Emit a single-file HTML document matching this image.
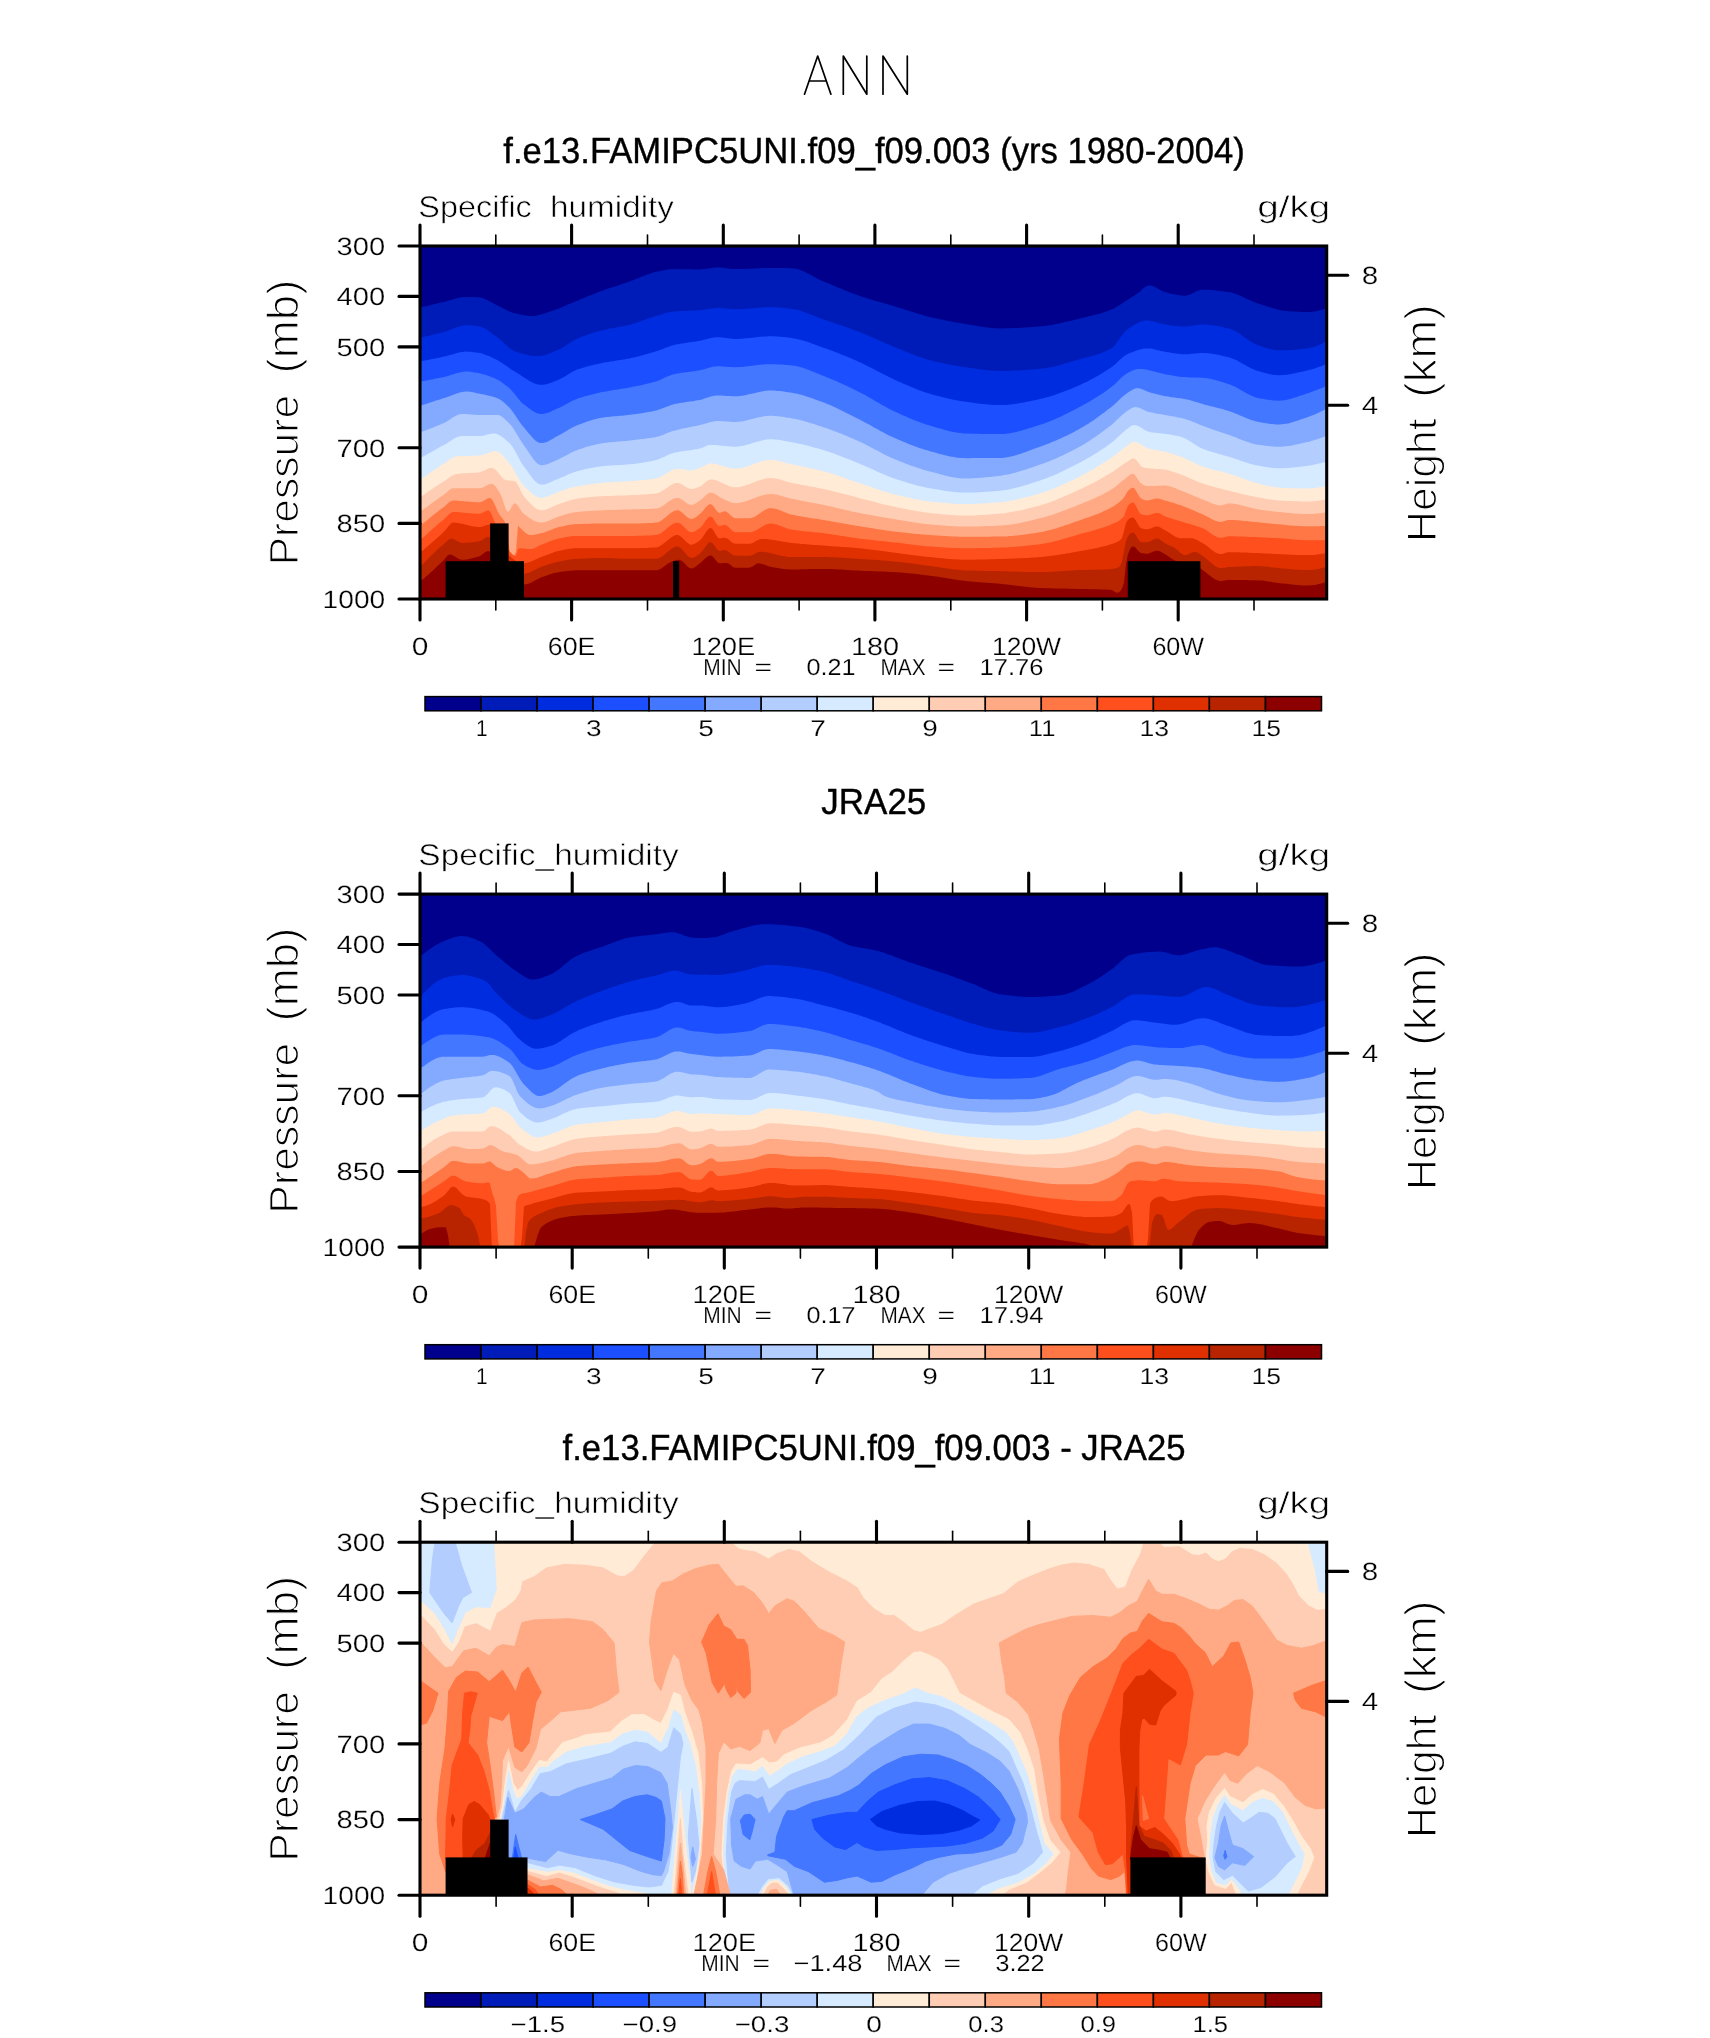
<!DOCTYPE html>
<html><head><meta charset="utf-8"><title>ANN</title>
<style>html,body{margin:0;padding:0;background:#fff}svg{display:block}text{font-family:"Liberation Sans",sans-serif;fill:#000;text-rendering:geometricPrecision}svg{will-change:transform}</style>
</head><body>
<svg width="1710" height="2038" viewBox="0 0 1710 2038">
<rect width="1710" height="2038" fill="#fff"/>
<defs>
<clipPath id="c1"><rect x="420.0" y="246.0" width="906.7" height="353.0"/></clipPath>
<clipPath id="c2"><rect x="420.0" y="894.1" width="906.7" height="353.0"/></clipPath>
<clipPath id="c3"><rect x="420.0" y="1542.2" width="906.7" height="353.0"/></clipPath>
</defs>
<path d="M804.5,94.2L817.7,56L830.9,94.2M809.2,81L826.2,81M843.3,94.2V56L866.8,94.2V56M883,94.2V56L907.3,94.2V56" stroke="#000" stroke-width="1.7" fill="none" stroke-linejoin="round" stroke-linecap="round"/>
<text x="503.3" y="162.6" font-size="36.4" text-anchor="start" textLength="741.5" lengthAdjust="spacingAndGlyphs" stroke="#000" stroke-width="0.4">f.e13.FAMIPC5UNI.f09_f09.003 (yrs 1980-2004)</text>
<text x="821.3" y="814.4" font-size="36.4" text-anchor="start" textLength="105" lengthAdjust="spacingAndGlyphs" stroke="#000" stroke-width="0.4">JRA25</text>
<text x="562.5" y="1459.7" font-size="36.4" text-anchor="start" textLength="623" lengthAdjust="spacingAndGlyphs" stroke="#000" stroke-width="0.4">f.e13.FAMIPC5UNI.f09_f09.003 - JRA25</text>
<text x="418.3" y="216.5" font-size="30" text-anchor="start" textLength="113.5" lengthAdjust="spacingAndGlyphs" stroke="#fff" stroke-width="0.6">Specific</text>
<text x="550" y="216.5" font-size="30" text-anchor="start" textLength="124" lengthAdjust="spacingAndGlyphs" stroke="#fff" stroke-width="0.6">humidity</text>
<text x="1257.2" y="216.5" font-size="30" text-anchor="start" textLength="73.1" lengthAdjust="spacingAndGlyphs" stroke="#fff" stroke-width="0.6">g/kg</text>
<g transform="translate(298.3,565.3) rotate(-90)"><text x="0" y="0" font-size="41" text-anchor="start" textLength="170.5" lengthAdjust="spacingAndGlyphs" stroke="#fff" stroke-width="1.2">Pressure</text></g>
<g transform="translate(298.3,373.5) rotate(-90)"><text x="0" y="0" font-size="44" text-anchor="start" textLength="94" lengthAdjust="spacingAndGlyphs" stroke="#fff" stroke-width="1.3">(mb)</text></g>
<g transform="translate(1436,541.9) rotate(-90)"><text x="0" y="0" font-size="41.5" text-anchor="start" textLength="123.5" lengthAdjust="spacingAndGlyphs" stroke="#fff" stroke-width="1.2">Height</text></g>
<g transform="translate(1436,397.7) rotate(-90)"><text x="0" y="0" font-size="44.5" text-anchor="start" textLength="93.5" lengthAdjust="spacingAndGlyphs" stroke="#fff" stroke-width="1.3">(km)</text></g>
<text x="418.3" y="864.6" font-size="30" text-anchor="start" textLength="260.5" lengthAdjust="spacingAndGlyphs" stroke="#fff" stroke-width="0.6">Specific_humidity</text>
<text x="1257.2" y="864.6" font-size="30" text-anchor="start" textLength="73.1" lengthAdjust="spacingAndGlyphs" stroke="#fff" stroke-width="0.6">g/kg</text>
<g transform="translate(298.3,1213.4) rotate(-90)"><text x="0" y="0" font-size="41" text-anchor="start" textLength="170.5" lengthAdjust="spacingAndGlyphs" stroke="#fff" stroke-width="1.2">Pressure</text></g>
<g transform="translate(298.3,1021.6) rotate(-90)"><text x="0" y="0" font-size="44" text-anchor="start" textLength="94" lengthAdjust="spacingAndGlyphs" stroke="#fff" stroke-width="1.3">(mb)</text></g>
<g transform="translate(1436,1190) rotate(-90)"><text x="0" y="0" font-size="41.5" text-anchor="start" textLength="123.5" lengthAdjust="spacingAndGlyphs" stroke="#fff" stroke-width="1.2">Height</text></g>
<g transform="translate(1436,1045.8) rotate(-90)"><text x="0" y="0" font-size="44.5" text-anchor="start" textLength="93.5" lengthAdjust="spacingAndGlyphs" stroke="#fff" stroke-width="1.3">(km)</text></g>
<text x="418.3" y="1512.7" font-size="30" text-anchor="start" textLength="260.5" lengthAdjust="spacingAndGlyphs" stroke="#fff" stroke-width="0.6">Specific_humidity</text>
<text x="1257.2" y="1512.7" font-size="30" text-anchor="start" textLength="73.1" lengthAdjust="spacingAndGlyphs" stroke="#fff" stroke-width="0.6">g/kg</text>
<g transform="translate(298.3,1861.5) rotate(-90)"><text x="0" y="0" font-size="41" text-anchor="start" textLength="170.5" lengthAdjust="spacingAndGlyphs" stroke="#fff" stroke-width="1.2">Pressure</text></g>
<g transform="translate(298.3,1669.7) rotate(-90)"><text x="0" y="0" font-size="44" text-anchor="start" textLength="94" lengthAdjust="spacingAndGlyphs" stroke="#fff" stroke-width="1.3">(mb)</text></g>
<g transform="translate(1436,1838.1) rotate(-90)"><text x="0" y="0" font-size="41.5" text-anchor="start" textLength="123.5" lengthAdjust="spacingAndGlyphs" stroke="#fff" stroke-width="1.2">Height</text></g>
<g transform="translate(1436,1693.9) rotate(-90)"><text x="0" y="0" font-size="44.5" text-anchor="start" textLength="93.5" lengthAdjust="spacingAndGlyphs" stroke="#fff" stroke-width="1.3">(km)</text></g>
<g clip-path="url(#c1)">
<rect x="420.0" y="246.0" width="906.7" height="353.0" fill="#00008c"/>
<path d="M418,604L418,307.1L420,307.1L422,307.1L424,306.6L426,306.2L428,305.7L430,305.2L432,304.7L434,304.2L436,303.7L438,303.3L440,302.8L442,302.3L444,301.9L446,301.4L448,300.8L450,300.2L452,299.6L454,299.1L456,298.5L458,298L460,297.5L462,297.2L464,297L466,296.9L468,296.9L470,296.9L472,297L474,297.1L476,297.2L478,297.3L480,297.5L482,297.8L484,298.5L486,299.4L488,300.4L490,301.5L492,302.6L494,303.8L496,304.8L498,305.7L500,306.7L502,307.8L504,308.8L506,309.8L508,310.8L510,311.7L512,312.5L514,313.1L516,313.6L518,314L520,314.4L522,314.8L524,315.2L526,315.5L528,315.7L530,315.9L532,316L534,315.9L536,315.7L538,315.3L540,314.8L542,314.2L544,313.6L546,312.9L548,312.2L550,311.6L552,311L554,310.3L556,309.5L558,308.8L560,308L562,307.2L564,306.3L566,305.4L568,304.6L570,303.7L572,302.9L574,302L576,301.2L578,300.4L580,299.6L582,298.8L584,297.9L586,297.1L588,296.3L590,295.5L592,294.7L594,293.9L596,293.1L598,292.3L600,291.5L602,290.8L604,290L606,289.3L608,288.6L610,288L612,287.3L614,286.7L616,286L618,285.4L620,284.7L622,284.1L624,283.4L626,282.8L628,282.1L630,281.4L632,280.6L634,279.9L636,279.1L638,278.2L640,277.4L642,276.5L644,275.7L646,274.9L648,274.2L650,273.5L652,272.9L654,272.3L656,271.8L658,271.4L660,271L662,270.6L664,270.2L666,269.8L668,269.6L670,269.3L672,269.2L674,269.1L676,269.2L678,269.2L680,269.2L682,269.2L684,269.2L686,269.3L688,269.3L690,269.3L692,269.4L694,269.4L696,269.4L698,269.4L700,269.4L702,269.3L704,269.1L706,268.9L708,268.5L710,268.2L712,267.9L714,267.6L716,267.4L718,267.4L720,267.5L722,267.6L724,267.9L726,268.2L728,268.5L730,268.8L732,269L734,269.1L736,269.1L738,269.1L740,269.1L742,269L744,269L746,268.9L748,268.8L750,268.7L752,268.6L754,268.5L756,268.4L758,268.3L760,268.2L762,268.1L764,268L766,268L768,267.9L770,267.9L772,267.9L774,267.9L776,267.9L778,268L780,268L782,268L784,268.1L786,268.1L788,268.2L790,268.2L792,268.3L794,268.4L796,268.8L798,269.3L800,269.9L802,270.7L804,271.6L806,272.5L808,273.5L810,274.6L812,275.7L814,276.7L816,277.8L818,278.9L820,279.9L822,280.8L824,281.7L826,282.5L828,283.3L830,284.1L832,285L834,285.8L836,286.7L838,287.5L840,288.3L842,289.1L844,290L846,290.8L848,291.6L850,292.4L852,293.1L854,293.9L856,294.6L858,295.3L860,296L862,296.7L864,297.3L866,297.9L868,298.6L870,299.2L872,299.8L874,300.4L876,300.9L878,301.5L880,302.1L882,302.7L884,303.2L886,303.8L888,304.4L890,305L892,305.6L894,306.1L896,306.8L898,307.4L900,308L902,308.6L904,309.3L906,309.9L908,310.5L910,311.2L912,311.8L914,312.4L916,313.1L918,313.7L920,314.3L922,314.8L924,315.4L926,315.9L928,316.4L930,316.9L932,317.4L934,317.9L936,318.3L938,318.8L940,319.2L942,319.6L944,320.1L946,320.5L948,320.9L950,321.3L952,321.7L954,322L956,322.4L958,322.8L960,323.1L962,323.4L964,323.8L966,324.1L968,324.4L970,324.7L972,325.1L974,325.4L976,325.8L978,326.1L980,326.4L982,326.8L984,327.1L986,327.4L988,327.6L990,327.8L992,328L994,328.2L996,328.3L998,328.4L1000,328.4L1002,328.4L1004,328.4L1006,328.3L1008,328.3L1010,328.2L1012,328.2L1014,328.1L1016,328L1018,327.9L1020,327.8L1022,327.7L1024,327.6L1026,327.5L1028,327.3L1030,327.2L1032,327.1L1034,326.9L1036,326.8L1038,326.6L1040,326.5L1042,326.3L1044,326.1L1046,325.8L1048,325.5L1050,325.2L1052,324.9L1054,324.5L1056,324.1L1058,323.7L1060,323.2L1062,322.8L1064,322.3L1066,321.8L1068,321.3L1070,320.9L1072,320.4L1074,319.9L1076,319.4L1078,318.9L1080,318.4L1082,318L1084,317.5L1086,317L1088,316.6L1090,316.1L1092,315.6L1094,315.1L1096,314.6L1098,314L1100,313.5L1102,312.9L1104,312.2L1106,311.6L1108,310.9L1110,310.1L1112,309.3L1114,308.4L1116,307.3L1118,306.1L1120,304.8L1122,303.5L1124,302.1L1126,300.8L1128,299.4L1130,298.2L1132,297L1134,295.7L1136,294.5L1138,293.1L1140,291.4L1142,289.6L1144,287.8L1146,286.4L1148,285.5L1150,285.4L1152,285.8L1154,286.6L1156,287.6L1158,288.7L1160,289.9L1162,290.9L1164,291.8L1166,292.3L1168,292.9L1170,293.4L1172,293.9L1174,294.3L1176,294.7L1178,295.1L1180,295.4L1182,295.6L1184,295.7L1186,295.6L1188,295.2L1190,294.5L1192,293.6L1194,292.6L1196,291.6L1198,290.8L1200,290.1L1202,289.7L1204,289.7L1206,289.8L1208,289.8L1210,289.9L1212,290.1L1214,290.3L1216,290.5L1218,290.7L1220,290.9L1222,291.2L1224,291.4L1226,291.7L1228,292L1230,292.3L1232,292.8L1234,293.4L1236,294L1238,294.8L1240,295.7L1242,296.5L1244,297.5L1246,298.4L1248,299.4L1250,300.3L1252,301.2L1254,302L1256,302.8L1258,303.5L1260,304.1L1262,304.7L1264,305.4L1266,306L1268,306.7L1270,307.3L1272,307.9L1274,308.5L1276,309L1278,309.5L1280,310L1282,310.4L1284,310.7L1286,311L1288,311.2L1290,311.3L1292,311.4L1294,311.5L1296,311.6L1298,311.7L1300,311.8L1302,311.9L1304,311.9L1306,312L1308,312L1310,311.9L1312,311.8L1314,311.5L1316,311.2L1318,310.8L1320,310.3L1322,309.8L1324,309.2L1326,308.6L1328,308.6L1328,604Z" fill="#001cb8"/>
<path d="M418,604L418,337.2L420,337.2L422,337.2L424,336.7L426,336.3L428,335.9L430,335.4L432,334.9L434,334.4L436,333.9L438,333.4L440,332.9L442,332.4L444,331.9L446,331.3L448,330.6L450,329.9L452,329.1L454,328.3L456,327.6L458,326.9L460,326.3L462,325.8L464,325.5L466,325.3L468,325.3L470,325.4L472,325.6L474,325.8L476,326L478,326.3L480,326.6L482,327.2L484,328.1L486,329.2L488,330.5L490,331.9L492,333.4L494,334.9L496,336.3L498,337.8L500,339.4L502,341.2L504,343.1L506,345L508,346.8L510,348.5L512,349.9L514,351L516,351.7L518,352.3L520,353L522,353.5L524,354.1L526,354.6L528,355L530,355.4L532,355.7L534,355.9L536,356L538,356.1L540,355.9L542,355.7L544,355.2L546,354.7L548,354L550,353.3L552,352.5L554,351.6L556,350.8L558,349.9L560,349.1L562,348L564,346.8L566,345.5L568,344.1L570,342.8L572,341.5L574,340.3L576,339.2L578,338.3L580,337.5L582,336.7L584,335.9L586,335.2L588,334.5L590,333.9L592,333.2L594,332.6L596,332L598,331.4L600,330.9L602,330.4L604,329.9L606,329.4L608,329L610,328.6L612,328.2L614,327.9L616,327.5L618,327.2L620,326.8L622,326.4L624,326L626,325.6L628,325.2L630,324.7L632,324.2L634,323.6L636,322.9L638,322.2L640,321.5L642,320.8L644,320.1L646,319.3L648,318.6L650,317.9L652,317.2L654,316.6L656,316L658,315.4L660,314.8L662,314.2L664,313.6L666,313L668,312.5L670,312.1L672,311.7L674,311.5L676,311.4L678,311.2L680,311.1L682,311L684,310.9L686,310.9L688,310.8L690,310.7L692,310.6L694,310.6L696,310.5L698,310.3L700,310.2L702,310L704,309.7L706,309.4L708,309.1L710,308.8L712,308.4L714,308.2L716,308.1L718,308L720,308.1L722,308.2L724,308.4L726,308.6L728,308.8L730,309L732,309.1L734,309.2L736,309.2L738,309.2L740,309.1L742,309L744,308.9L746,308.8L748,308.6L750,308.5L752,308.3L754,308.1L756,307.9L758,307.7L760,307.6L762,307.4L764,307.3L766,307.2L768,307.2L770,307.1L772,307.1L774,307.2L776,307.3L778,307.4L780,307.6L782,307.7L784,307.9L786,308.2L788,308.4L790,308.7L792,308.9L794,309.2L796,309.6L798,310.1L800,310.7L802,311.3L804,312L806,312.7L808,313.4L810,314.2L812,315L814,315.8L816,316.6L818,317.4L820,318.2L822,318.9L824,319.6L826,320.3L828,321L830,321.6L832,322.3L834,323L836,323.7L838,324.4L840,325L842,325.7L844,326.4L846,327.1L848,327.8L850,328.5L852,329.3L854,330L856,330.7L858,331.5L860,332.2L862,333L864,333.9L866,334.7L868,335.5L870,336.4L872,337.3L874,338.1L876,339L878,339.9L880,340.8L882,341.7L884,342.5L886,343.4L888,344.3L890,345.1L892,345.9L894,346.7L896,347.5L898,348.4L900,349.2L902,350L904,350.8L906,351.7L908,352.5L910,353.3L912,354.1L914,354.9L916,355.7L918,356.4L920,357.1L922,357.8L924,358.5L926,359.1L928,359.7L930,360.2L932,360.7L934,361.2L936,361.7L938,362.2L940,362.6L942,363.1L944,363.5L946,363.9L948,364.3L950,364.7L952,365.1L954,365.4L956,365.8L958,366.1L960,366.4L962,366.8L964,367L966,367.3L968,367.6L970,367.9L972,368.2L974,368.5L976,368.8L978,369.1L980,369.4L982,369.6L984,369.9L986,370.1L988,370.3L990,370.5L992,370.7L994,370.8L996,370.9L998,371L1000,371L1002,371L1004,370.9L1006,370.9L1008,370.9L1010,370.8L1012,370.7L1014,370.6L1016,370.6L1018,370.4L1020,370.3L1022,370.2L1024,370.1L1026,369.9L1028,369.8L1030,369.7L1032,369.5L1034,369.3L1036,369.2L1038,369L1040,368.8L1042,368.6L1044,368.4L1046,368.1L1048,367.7L1050,367.3L1052,366.9L1054,366.5L1056,366L1058,365.5L1060,365L1062,364.4L1064,363.8L1066,363.3L1068,362.7L1070,362.1L1072,361.5L1074,360.9L1076,360.3L1078,359.7L1080,359.2L1082,358.6L1084,358.1L1086,357.6L1088,357L1090,356.5L1092,356L1094,355.4L1096,354.8L1098,354.2L1100,353.5L1102,352.7L1104,351.9L1106,351.1L1108,350.1L1110,349.1L1112,347.9L1114,346.2L1116,343.8L1118,341L1120,338.1L1122,335.2L1124,332.6L1126,330.5L1128,329L1130,327.7L1132,326.4L1134,325.1L1136,324L1138,323L1140,322.1L1142,321.4L1144,320.8L1146,320.6L1148,320.5L1150,320.7L1152,321.1L1154,321.6L1156,322.2L1158,322.8L1160,323.4L1162,323.9L1164,324.3L1166,324.6L1168,324.9L1170,325.2L1172,325.5L1174,325.7L1176,326L1178,326.2L1180,326.3L1182,326.4L1184,326.5L1186,326.5L1188,326.3L1190,326.1L1192,325.8L1194,325.5L1196,325.1L1198,324.9L1200,324.6L1202,324.5L1204,324.5L1206,324.6L1208,324.7L1210,324.9L1212,325.2L1214,325.4L1216,325.8L1218,326.1L1220,326.5L1222,326.9L1224,327.4L1226,327.9L1228,328.3L1230,328.9L1232,329.6L1234,330.5L1236,331.6L1238,332.8L1240,334.1L1242,335.5L1244,336.9L1246,338.3L1248,339.7L1250,341L1252,342.3L1254,343.4L1256,344.4L1258,345.2L1260,345.9L1262,346.6L1264,347.3L1266,348L1268,348.6L1270,349.1L1272,349.6L1274,350L1276,350.2L1278,350.3L1280,350.3L1282,350.3L1284,350.3L1286,350.2L1288,350.1L1290,350L1292,349.9L1294,349.8L1296,349.6L1298,349.4L1300,349.3L1302,349.1L1304,348.8L1306,348.6L1308,348.4L1310,348.1L1312,347.6L1314,347L1316,346.2L1318,345.4L1320,344.5L1322,343.5L1324,342.5L1326,341.4L1328,341.4L1328,604Z" fill="#002ce0"/>
<path d="M418,604L418,361L420,361L422,361L424,360.6L426,360.3L428,359.9L430,359.5L432,359.1L434,358.7L436,358.3L438,357.9L440,357.5L442,357L444,356.6L446,356.2L448,355.6L450,355.1L452,354.5L454,353.9L456,353.3L458,352.8L460,352.3L462,352L464,351.7L466,351.6L468,351.7L470,351.8L472,352L474,352.2L476,352.5L478,352.8L480,353.1L482,353.6L484,354.2L486,354.9L488,355.7L490,356.6L492,357.6L494,358.5L496,359.5L498,360.6L500,361.7L502,362.9L504,364.3L506,365.7L508,367.1L510,368.5L512,369.9L514,371.1L516,372.3L518,373.5L520,374.8L522,376.2L524,377.5L526,378.8L528,380.1L530,381.2L532,382.3L534,383.2L536,383.9L538,384.5L540,384.8L542,384.8L544,384.7L546,384.3L548,383.8L550,383.1L552,382.4L554,381.6L556,380.7L558,379.9L560,379.1L562,378.1L564,377L566,375.8L568,374.5L570,373.3L572,372.1L574,371L576,370.1L578,369.3L580,368.7L582,368L584,367.4L586,366.8L588,366.3L590,365.7L592,365.2L594,364.8L596,364.3L598,363.9L600,363.4L602,363L604,362.6L606,362.2L608,361.9L610,361.5L612,361.2L614,360.9L616,360.6L618,360.3L620,360L622,359.7L624,359.4L626,359L628,358.7L630,358.3L632,357.8L634,357.4L636,356.9L638,356.4L640,355.9L642,355.4L644,354.8L646,354.3L648,353.7L650,353.1L652,352.5L654,351.9L656,351.3L658,350.7L660,350L662,349.2L664,348.4L666,347.6L668,346.9L670,346.2L672,345.6L674,345.1L676,344.6L678,344.2L680,343.8L682,343.5L684,343.2L686,342.9L688,342.6L690,342.3L692,342L694,341.7L696,341.4L698,341L700,340.7L702,340.3L704,339.8L706,339.2L708,338.7L710,338.2L712,337.8L714,337.4L716,337.2L718,337.2L720,337.2L722,337.4L724,337.7L726,338L728,338.3L730,338.5L732,338.8L734,338.9L736,338.9L738,338.9L740,338.8L742,338.7L744,338.5L746,338.3L748,338.1L750,337.9L752,337.7L754,337.5L756,337.3L758,337L760,336.8L762,336.7L764,336.5L766,336.4L768,336.3L770,336.3L772,336.3L774,336.3L776,336.4L778,336.6L780,336.7L782,336.9L784,337.1L786,337.3L788,337.6L790,337.8L792,338.1L794,338.4L796,338.7L798,339.2L800,339.7L802,340.2L804,340.8L806,341.4L808,342.1L810,342.8L812,343.5L814,344.3L816,345L818,345.7L820,346.5L822,347.2L824,347.9L826,348.6L828,349.3L830,350L832,350.8L834,351.5L836,352.3L838,353.1L840,353.9L842,354.7L844,355.5L846,356.3L848,357.1L850,358L852,358.8L854,359.7L856,360.6L858,361.4L860,362.3L862,363.3L864,364.2L866,365.2L868,366.2L870,367.2L872,368.3L874,369.3L876,370.4L878,371.4L880,372.5L882,373.5L884,374.6L886,375.6L888,376.6L890,377.6L892,378.5L894,379.4L896,380.3L898,381.2L900,382.1L902,383L904,383.9L906,384.7L908,385.6L910,386.5L912,387.3L914,388.1L916,388.9L918,389.7L920,390.5L922,391.2L924,391.9L926,392.6L928,393.2L930,393.8L932,394.4L934,394.9L936,395.5L938,396L940,396.5L942,397L944,397.5L946,398L948,398.5L950,398.9L952,399.4L954,399.8L956,400.2L958,400.5L960,400.9L962,401.2L964,401.5L966,401.8L968,402.1L970,402.3L972,402.6L974,402.9L976,403.2L978,403.4L980,403.7L982,403.9L984,404.1L986,404.3L988,404.5L990,404.7L992,404.8L994,404.9L996,405L998,405.1L1000,405.1L1002,405.1L1004,405L1006,404.9L1008,404.7L1010,404.5L1012,404.3L1014,404.1L1016,403.8L1018,403.4L1020,403.1L1022,402.7L1024,402.4L1026,402L1028,401.6L1030,401.2L1032,400.7L1034,400.3L1036,399.9L1038,399.4L1040,399L1042,398.6L1044,398.1L1046,397.6L1048,397L1050,396.4L1052,395.8L1054,395.2L1056,394.5L1058,393.8L1060,393.1L1062,392.3L1064,391.6L1066,390.8L1068,390L1070,389.2L1072,388.4L1074,387.5L1076,386.7L1078,385.8L1080,384.9L1082,384L1084,383.1L1086,382.2L1088,381.2L1090,380.1L1092,379.1L1094,378L1096,376.8L1098,375.7L1100,374.5L1102,373.3L1104,372.1L1106,370.8L1108,369.5L1110,368.2L1112,366.8L1114,365.2L1116,363.4L1118,361.6L1120,359.7L1122,357.9L1124,356.3L1126,355L1128,354L1130,353.1L1132,352.2L1134,351.4L1136,350.7L1138,350L1140,349.4L1142,348.9L1144,348.6L1146,348.4L1148,348.4L1150,348.5L1152,348.8L1154,349.2L1156,349.7L1158,350.2L1160,350.7L1162,351.2L1164,351.6L1166,351.9L1168,352.2L1170,352.6L1172,352.9L1174,353.3L1176,353.6L1178,353.8L1180,354.1L1182,354.2L1184,354.3L1186,354.3L1188,354.2L1190,354.1L1192,353.8L1194,353.6L1196,353.4L1198,353.2L1200,353L1202,352.9L1204,352.9L1206,353L1208,353.2L1210,353.4L1212,353.7L1214,354L1216,354.4L1218,354.8L1220,355.2L1222,355.7L1224,356.2L1226,356.7L1228,357.1L1230,357.7L1232,358.4L1234,359.2L1236,360.1L1238,361.1L1240,362.2L1242,363.3L1244,364.4L1246,365.6L1248,366.7L1250,367.7L1252,368.7L1254,369.6L1256,370.4L1258,371.1L1260,371.6L1262,372.2L1264,372.8L1266,373.3L1268,373.8L1270,374.2L1272,374.6L1274,374.9L1276,375.1L1278,375.2L1280,375.2L1282,375.1L1284,374.9L1286,374.7L1288,374.5L1290,374.2L1292,373.8L1294,373.4L1296,373L1298,372.6L1300,372.1L1302,371.7L1304,371.2L1306,370.7L1308,370.3L1310,369.8L1312,369.3L1314,368.7L1316,368L1318,367.3L1320,366.6L1322,365.9L1324,365.1L1326,364.3L1328,364.3L1328,604Z" fill="#1c4fff"/>
<path d="M418,604L418,381.3L420,381.3L422,381.3L424,381L426,380.6L428,380.2L430,379.8L432,379.4L434,379L436,378.6L438,378.2L440,377.8L442,377.4L444,376.9L446,376.5L448,375.9L450,375.3L452,374.7L454,374L456,373.4L458,372.8L460,372.4L462,372L464,371.7L466,371.6L468,371.6L470,371.8L472,372L474,372.4L476,372.7L478,373.1L480,373.5L482,373.9L484,374.4L486,375L488,375.7L490,376.4L492,377.2L494,378.1L496,379L498,380L500,381.1L502,382.4L504,383.9L506,385.4L508,387.1L510,388.8L512,390.9L514,393.3L516,395.8L518,398.3L520,400.7L522,402.9L524,404.5L526,406.1L528,407.6L530,409.1L532,410.5L534,411.7L536,412.7L538,413.5L540,413.9L542,414L544,413.8L546,413.3L548,412.7L550,411.9L552,411L554,410.1L556,409.1L558,408.2L560,407.4L562,406.4L564,405.4L566,404.3L568,403.2L570,402.1L572,401L574,400.1L576,399.2L578,398.5L580,397.8L582,397.2L584,396.6L586,396L588,395.5L590,394.9L592,394.4L594,393.9L596,393.5L598,393L600,392.6L602,392.1L604,391.7L606,391.4L608,391L610,390.7L612,390.3L614,390L616,389.7L618,389.4L620,389.1L622,388.8L624,388.5L626,388.2L628,387.8L630,387.4L632,387L634,386.6L636,386.2L638,385.8L640,385.4L642,385L644,384.5L646,384L648,383.5L650,383L652,382.5L654,381.9L656,381.4L658,380.7L660,379.9L662,379L664,378.1L666,377.1L668,376.2L670,375.4L672,374.7L674,374.2L676,373.8L678,373.4L680,373.1L682,372.8L684,372.5L686,372.2L688,372L690,371.7L692,371.5L694,371.2L696,370.9L698,370.6L700,370.3L702,369.8L704,369.3L706,368.7L708,368.1L710,367.5L712,367L714,366.6L716,366.4L718,366.3L720,366.3L722,366.4L724,366.6L726,366.7L728,366.9L730,367L732,367.1L734,367.2L736,367.2L738,367.1L740,367L742,366.9L744,366.7L746,366.5L748,366.3L750,366.1L752,365.8L754,365.6L756,365.3L758,365.1L760,364.8L762,364.6L764,364.5L766,364.3L768,364.2L770,364.2L772,364.2L774,364.2L776,364.3L778,364.4L780,364.5L782,364.6L784,364.7L786,364.9L788,365.1L790,365.2L792,365.4L794,365.7L796,366L798,366.5L800,367L802,367.6L804,368.2L806,368.9L808,369.7L810,370.5L812,371.3L814,372.1L816,372.9L818,373.7L820,374.6L822,375.4L824,376.1L826,376.9L828,377.7L830,378.5L832,379.4L834,380.2L836,381.1L838,382L840,382.9L842,383.8L844,384.7L846,385.6L848,386.6L850,387.5L852,388.5L854,389.5L856,390.4L858,391.4L860,392.4L862,393.5L864,394.5L866,395.6L868,396.7L870,397.9L872,399.1L874,400.2L876,401.4L878,402.6L880,403.7L882,404.9L884,406L886,407.1L888,408.2L890,409.2L892,410.2L894,411.2L896,412.1L898,413L900,414L902,414.9L904,415.8L906,416.6L908,417.5L910,418.4L912,419.2L914,420L916,420.8L918,421.6L920,422.3L922,423L924,423.7L926,424.4L928,425L930,425.6L932,426.2L934,426.8L936,427.4L938,428L940,428.5L942,429.1L944,429.7L946,430.2L948,430.7L950,431.2L952,431.7L954,432.1L956,432.5L958,432.8L960,433L962,433.2L964,433.4L966,433.5L968,433.5L970,433.6L972,433.7L974,433.7L976,433.8L978,433.8L980,433.9L982,433.9L984,433.9L986,434L988,434L990,434L992,434L994,434.1L996,434.1L998,434.1L1000,434.1L1002,434L1004,433.9L1006,433.7L1008,433.5L1010,433.2L1012,432.8L1014,432.4L1016,432L1018,431.5L1020,431L1022,430.4L1024,429.8L1026,429.2L1028,428.6L1030,428L1032,427.4L1034,426.7L1036,426.1L1038,425.5L1040,424.8L1042,424.2L1044,423.5L1046,422.8L1048,422.1L1050,421.3L1052,420.5L1054,419.6L1056,418.7L1058,417.8L1060,416.9L1062,416L1064,415L1066,414L1068,413L1070,412L1072,411L1074,409.9L1076,408.9L1078,407.8L1080,406.8L1082,405.7L1084,404.6L1086,403.5L1088,402.4L1090,401.2L1092,400L1094,398.8L1096,397.6L1098,396.3L1100,395L1102,393.7L1104,392.4L1106,391L1108,389.6L1110,388.1L1112,386.6L1114,384.9L1116,383L1118,381L1120,379L1122,377.1L1124,375.4L1126,373.9L1128,372.8L1130,371.8L1132,370.8L1134,370L1136,369.3L1138,368.9L1140,368.9L1142,369L1144,369.2L1146,369.5L1148,369.9L1150,370.4L1152,370.9L1154,371.5L1156,372L1158,372.6L1160,373.1L1162,373.6L1164,374L1166,374.4L1168,374.7L1170,375.1L1172,375.5L1174,375.8L1176,376.2L1178,376.5L1180,376.7L1182,377L1184,377.1L1186,377.2L1188,377.3L1190,377.4L1192,377.4L1194,377.5L1196,377.5L1198,377.6L1200,377.7L1202,377.7L1204,377.9L1206,378.1L1208,378.4L1210,378.7L1212,379.2L1214,379.7L1216,380.2L1218,380.8L1220,381.4L1222,382L1224,382.6L1226,383.3L1228,383.9L1230,384.6L1232,385.4L1234,386.3L1236,387.3L1238,388.4L1240,389.5L1242,390.7L1244,391.8L1246,392.9L1248,394L1250,395L1252,396L1254,396.8L1256,397.4L1258,398L1260,398.4L1262,398.8L1264,399.1L1266,399.5L1268,399.8L1270,400.1L1272,400.3L1274,400.5L1276,400.6L1278,400.7L1280,400.6L1282,400.5L1284,400.2L1286,399.9L1288,399.5L1290,399L1292,398.4L1294,397.8L1296,397.2L1298,396.5L1300,395.8L1302,395.2L1304,394.5L1306,393.8L1308,393.2L1310,392.5L1312,391.8L1314,391.1L1316,390.3L1318,389.6L1320,388.7L1322,387.9L1324,387L1326,386.2L1328,386.1L1328,604Z" fill="#4477ff"/>
<path d="M418,604L418,405.2L420,405.2L422,405.2L424,404.5L426,403.9L428,403.2L430,402.6L432,401.9L434,401.3L436,400.6L438,400L440,399.4L442,398.8L444,398.1L446,397.5L448,396.8L450,396L452,395.2L454,394.4L456,393.7L458,393L460,392.4L462,392L464,391.7L466,391.6L468,391.6L470,391.8L472,392.1L474,392.5L476,393L478,393.4L480,393.8L482,394.2L484,394.5L486,394.9L488,395.4L490,395.9L492,396.4L494,397L496,397.7L498,398.5L500,399.6L502,401L504,402.6L506,404.4L508,406.3L510,408.3L512,410.7L514,413.4L516,416.4L518,419.5L520,422.5L522,425.3L524,427.6L526,429.9L528,432.4L530,434.8L532,437.1L534,439.2L536,440.9L538,442.2L540,443L542,443.1L544,442.8L546,442.2L548,441.4L550,440.3L552,439.2L554,438L556,436.8L558,435.7L560,434.7L562,433.6L564,432.4L566,431.2L568,430L570,428.8L572,427.7L574,426.7L576,425.7L578,424.9L580,424.2L582,423.4L584,422.7L586,422L588,421.3L590,420.7L592,420L594,419.5L596,419L598,418.5L600,418.1L602,417.7L604,417.4L606,417.1L608,416.9L610,416.7L612,416.5L614,416.3L616,416.2L618,416L620,415.8L622,415.7L624,415.5L626,415.3L628,415.1L630,414.8L632,414.6L634,414.3L636,414L638,413.8L640,413.5L642,413.2L644,412.8L646,412.5L648,412.1L650,411.8L652,411.4L654,410.9L656,410.5L658,410L660,409.3L662,408.6L664,407.8L666,407L668,406.2L670,405.4L672,404.8L674,404.2L676,403.8L678,403.4L680,403L682,402.7L684,402.4L686,402.1L688,401.8L690,401.5L692,401.2L694,400.9L696,400.6L698,400.2L700,399.9L702,399.4L704,398.8L706,398.1L708,397.5L710,396.8L712,396.3L714,395.8L716,395.5L718,395.4L720,395.5L722,395.6L724,395.7L726,395.9L728,396L730,396.1L732,396.2L734,396.3L736,396.3L738,396.2L740,396.1L742,395.8L744,395.4L746,395.1L748,394.6L750,394.1L752,393.7L754,393.2L756,392.7L758,392.2L760,391.8L762,391.4L764,391L766,390.8L768,390.6L770,390.5L772,390.5L774,390.6L776,390.7L778,390.9L780,391.1L782,391.3L784,391.6L786,391.9L788,392.2L790,392.5L792,392.8L794,393.2L796,393.6L798,394L800,394.5L802,395L804,395.6L806,396.2L808,396.9L810,397.5L812,398.2L814,399L816,399.7L818,400.4L820,401.2L822,401.9L824,402.6L826,403.4L828,404.2L830,405.1L832,405.9L834,406.8L836,407.8L838,408.7L840,409.7L842,410.7L844,411.7L846,412.7L848,413.7L850,414.7L852,415.8L854,416.8L856,417.8L858,418.8L860,419.8L862,420.8L864,421.9L866,423L868,424L870,425.1L872,426.3L874,427.4L876,428.5L878,429.6L880,430.7L882,431.8L884,432.8L886,433.9L888,434.9L890,435.9L892,436.8L894,437.7L896,438.6L898,439.4L900,440.3L902,441.2L904,442L906,442.8L908,443.7L910,444.5L912,445.3L914,446L916,446.8L918,447.5L920,448.2L922,448.8L924,449.5L926,450.1L928,450.6L930,451.2L932,451.7L934,452.3L936,452.8L938,453.4L940,453.9L942,454.4L944,455L946,455.5L948,455.9L950,456.4L952,456.8L954,457.1L956,457.5L958,457.7L960,457.9L962,458.1L964,458.1L966,458.2L968,458.2L970,458.2L972,458.1L974,458.1L976,458.1L978,458.1L980,458.1L982,458.1L984,458.1L986,458.1L988,458.1L990,458L992,458L994,458L996,458L998,458L1000,457.9L1002,457.9L1004,457.7L1006,457.5L1008,457.1L1010,456.8L1012,456.3L1014,455.8L1016,455.2L1018,454.6L1020,454L1022,453.3L1024,452.6L1026,451.9L1028,451.1L1030,450.4L1032,449.6L1034,448.9L1036,448.1L1038,447.4L1040,446.7L1042,446L1044,445.3L1046,444.5L1048,443.8L1050,443L1052,442.1L1054,441.3L1056,440.5L1058,439.6L1060,438.7L1062,437.8L1064,436.8L1066,435.9L1068,434.9L1070,433.9L1072,432.9L1074,431.9L1076,430.8L1078,429.7L1080,428.6L1082,427.5L1084,426.3L1086,425.1L1088,423.9L1090,422.6L1092,421.2L1094,419.9L1096,418.5L1098,417.1L1100,415.6L1102,414.1L1104,412.7L1106,411.1L1108,409.6L1110,408.1L1112,406.5L1114,404.8L1116,402.9L1118,401L1120,399.1L1122,397.2L1124,395.5L1126,393.9L1128,392.6L1130,391.3L1132,390L1134,388.9L1136,388.2L1138,388.2L1140,388.5L1142,389.2L1144,390.1L1146,390.9L1148,391.7L1150,392.4L1152,392.9L1154,393.5L1156,394L1158,394.5L1160,395L1162,395.5L1164,395.9L1166,396.3L1168,396.6L1170,396.9L1172,397.2L1174,397.4L1176,397.7L1178,398L1180,398.2L1182,398.5L1184,398.9L1186,399.3L1188,399.8L1190,400.3L1192,400.8L1194,401.4L1196,402L1198,402.6L1200,403.2L1202,403.8L1204,404.4L1206,404.9L1208,405.4L1210,405.9L1212,406.4L1214,407L1216,407.5L1218,408L1220,408.5L1222,409.1L1224,409.6L1226,410.2L1228,410.8L1230,411.4L1232,412.1L1234,412.9L1236,413.7L1238,414.5L1240,415.4L1242,416.2L1244,417.1L1246,417.9L1248,418.7L1250,419.5L1252,420.2L1254,420.8L1256,421.4L1258,421.8L1260,422.2L1262,422.6L1264,423L1266,423.3L1268,423.6L1270,423.9L1272,424.1L1274,424.3L1276,424.5L1278,424.5L1280,424.5L1282,424.3L1284,424.1L1286,423.8L1288,423.4L1290,422.9L1292,422.3L1294,421.7L1296,421.1L1298,420.5L1300,419.8L1302,419.1L1304,418.4L1306,417.7L1308,417L1310,416.3L1312,415.6L1314,414.8L1316,413.9L1318,413L1320,412.1L1322,411.1L1324,410.1L1326,409L1328,409L1328,604Z" fill="#84aaff"/>
<path d="M418,604L418,431.7L420,431.7L422,431.7L424,431L426,430.3L428,429.5L430,428.8L432,428L434,427.2L436,426.3L438,425.5L440,424.7L442,423.8L444,422.9L446,421.9L448,420.7L450,419.4L452,418.1L454,416.8L456,415.7L458,414.8L460,414.2L462,414L464,414L466,414.1L468,414.2L470,414.4L472,414.5L474,414.7L476,414.8L478,414.9L480,414.9L482,414.9L484,414.9L486,414.9L488,414.9L490,414.9L492,414.9L494,414.9L496,414.9L498,414.9L500,415.6L502,416.8L504,418.4L506,420.2L508,422.2L510,424.2L512,426.6L514,429.5L516,432.7L518,436.1L520,439.4L522,442.6L524,445.4L526,448.2L528,451.2L530,454.3L532,457.3L534,460L536,462.3L538,464L540,465L542,465.2L544,465L546,464.5L548,463.9L550,463.1L552,462.2L554,461.3L556,460.4L558,459.5L560,458.6L562,457.6L564,456.6L566,455.5L568,454.4L570,453.3L572,452.2L574,451.3L576,450.4L578,449.7L580,449L582,448.4L584,447.7L586,447.1L588,446.5L590,445.9L592,445.4L594,444.9L596,444.5L598,444L600,443.7L602,443.3L604,443L606,442.8L608,442.5L610,442.3L612,442.1L614,441.9L616,441.7L618,441.6L620,441.4L622,441.2L624,441.1L626,440.9L628,440.7L630,440.4L632,440.2L634,440L636,439.8L638,439.6L640,439.3L642,439.1L644,438.9L646,438.6L648,438.3L650,438L652,437.7L654,437.4L656,437L658,436.5L660,435.9L662,435.2L664,434.4L666,433.6L668,432.8L670,432L672,431.3L674,430.7L676,430.2L678,429.7L680,429.2L682,428.8L684,428.3L686,427.9L688,427.5L690,427.1L692,426.7L694,426.3L696,425.9L698,425.5L700,425L702,424.5L704,424L706,423.4L708,422.8L710,422.2L712,421.7L714,421.4L716,421.1L718,421.1L720,421.1L722,421.2L724,421.3L726,421.5L728,421.6L730,421.8L732,421.9L734,421.9L736,421.9L738,421.8L740,421.6L742,421.4L744,421L746,420.6L748,420.1L750,419.6L752,419.1L754,418.6L756,418.1L758,417.6L760,417.1L762,416.7L764,416.3L766,416.1L768,415.9L770,415.8L772,415.8L774,415.9L776,416L778,416.2L780,416.5L782,416.8L784,417.1L786,417.4L788,417.7L790,418.1L792,418.4L794,418.8L796,419.2L798,419.6L800,420.1L802,420.6L804,421.1L806,421.7L808,422.3L810,422.9L812,423.5L814,424.1L816,424.7L818,425.4L820,426L822,426.7L824,427.4L826,428L828,428.7L830,429.4L832,430.2L834,430.9L836,431.7L838,432.5L840,433.3L842,434.1L844,434.9L846,435.7L848,436.6L850,437.4L852,438.3L854,439.2L856,440.1L858,440.9L860,441.8L862,442.8L864,443.7L866,444.7L868,445.8L870,446.8L872,447.9L874,448.9L876,450L878,451.1L880,452.1L882,453.2L884,454.2L886,455.2L888,456.2L890,457.2L892,458.1L894,458.9L896,459.7L898,460.5L900,461.4L902,462.1L904,462.9L906,463.7L908,464.5L910,465.2L912,465.9L914,466.6L916,467.3L918,468L920,468.6L922,469.3L924,469.9L926,470.4L928,471L930,471.5L932,472L934,472.6L936,473.1L938,473.6L940,474.2L942,474.7L944,475.2L946,475.7L948,476.2L950,476.7L952,477.1L954,477.4L956,477.8L958,478L960,478.2L962,478.4L964,478.5L966,478.5L968,478.4L970,478.4L972,478.3L974,478.2L976,478.1L978,478L980,477.8L982,477.7L984,477.5L986,477.3L988,477.1L990,476.9L992,476.7L994,476.4L996,476.2L998,476L1000,475.7L1002,475.4L1004,475.1L1006,474.8L1008,474.4L1010,473.9L1012,473.5L1014,472.9L1016,472.4L1018,471.8L1020,471.3L1022,470.6L1024,470L1026,469.4L1028,468.7L1030,468L1032,467.4L1034,466.7L1036,466L1038,465.3L1040,464.6L1042,463.9L1044,463.2L1046,462.4L1048,461.7L1050,460.9L1052,460.1L1054,459.2L1056,458.4L1058,457.5L1060,456.6L1062,455.7L1064,454.7L1066,453.8L1068,452.8L1070,451.8L1072,450.8L1074,449.7L1076,448.7L1078,447.6L1080,446.5L1082,445.4L1084,444.2L1086,443L1088,441.8L1090,440.5L1092,439.1L1094,437.8L1096,436.4L1098,435L1100,433.5L1102,432L1104,430.5L1106,429L1108,427.5L1110,426L1112,424.4L1114,422.7L1116,420.8L1118,418.9L1120,417L1122,415.1L1124,413.4L1126,411.8L1128,410.5L1130,409.2L1132,408L1134,407.2L1136,407.1L1138,407.4L1140,408.1L1142,409L1144,410L1146,410.9L1148,411.7L1150,412.2L1152,412.6L1154,413L1156,413.4L1158,413.7L1160,414.1L1162,414.4L1164,414.8L1166,415.2L1168,415.5L1170,415.9L1172,416.2L1174,416.6L1176,417L1178,417.4L1180,417.8L1182,418.2L1184,418.7L1186,419.3L1188,419.9L1190,420.6L1192,421.4L1194,422.3L1196,423.1L1198,424L1200,424.8L1202,425.6L1204,426.3L1206,427.1L1208,427.8L1210,428.5L1212,429.2L1214,429.9L1216,430.6L1218,431.2L1220,431.9L1222,432.6L1224,433.3L1226,434L1228,434.6L1230,435.3L1232,436L1234,436.8L1236,437.6L1238,438.4L1240,439.2L1242,439.9L1244,440.7L1246,441.4L1248,442.1L1250,442.8L1252,443.4L1254,443.9L1256,444.4L1258,444.7L1260,445L1262,445.3L1264,445.6L1266,445.9L1268,446.1L1270,446.3L1272,446.5L1274,446.6L1276,446.7L1278,446.8L1280,446.8L1282,446.7L1284,446.5L1286,446.3L1288,446L1290,445.7L1292,445.4L1294,445L1296,444.6L1298,444.2L1300,443.7L1302,443.3L1304,442.8L1306,442.3L1308,441.9L1310,441.4L1312,440.8L1314,440.2L1316,439.6L1318,438.9L1320,438.2L1322,437.4L1324,436.7L1326,435.9L1328,435.8L1328,604Z" fill="#b3cdff"/>
<path d="M418,604L418,457.3L420,457.3L422,457.3L424,456.1L426,455L428,453.8L430,452.7L432,451.5L434,450.4L436,449.3L438,448.2L440,447.1L442,446.1L444,445L446,443.9L448,442.6L450,441.3L452,440L454,438.7L456,437.6L458,436.8L460,436.2L462,436.1L464,436.1L466,436.1L468,436.1L470,436.1L472,436.1L474,436.1L476,436.1L478,436.1L480,436.1L482,435.9L484,435.4L486,434.9L488,434.3L490,433.9L492,433.5L494,433.4L496,433.7L498,434.4L500,435.5L502,436.8L504,438.3L506,440L508,441.8L510,443.6L512,446.1L514,449.2L516,452.8L518,456.6L520,460.3L522,463.7L524,466.6L526,469.3L528,472.1L530,474.9L532,477.6L534,480L536,482.1L538,483.6L540,484.5L542,484.6L544,484.4L546,483.9L548,483.3L550,482.4L552,481.6L554,480.6L556,479.7L558,478.9L560,478.1L562,477.3L564,476.4L566,475.5L568,474.6L570,473.8L572,473L574,472.2L576,471.6L578,471L580,470.5L582,470L584,469.5L586,469L588,468.6L590,468.2L592,467.8L594,467.4L596,467L598,466.7L600,466.5L602,466.2L604,466L606,465.8L608,465.7L610,465.6L612,465.4L614,465.3L616,465.2L618,465.1L620,465L622,464.9L624,464.8L626,464.6L628,464.5L630,464.3L632,464.1L634,463.9L636,463.6L638,463.4L640,463.1L642,462.8L644,462.4L646,462.1L648,461.7L650,461.3L652,460.9L654,460.4L656,460L658,459.4L660,458.6L662,457.8L664,456.9L666,455.9L668,455L670,454.1L672,453.4L674,452.8L676,452.4L678,452L680,451.6L682,451.3L684,451L686,450.7L688,450.5L690,450.2L692,449.9L694,449.6L696,449.3L698,448.9L700,448.4L702,447.8L704,446.9L706,446L708,445.3L710,444.9L712,444.9L714,445L716,445.1L718,445.3L720,445.5L722,445.7L724,445.9L726,446.1L728,446.3L730,446.5L732,446.6L734,446.7L736,446.7L738,446.6L740,446.3L742,446L744,445.6L746,445.1L748,444.5L750,443.9L752,443.3L754,442.6L756,442L758,441.4L760,440.9L762,440.4L764,439.9L766,439.6L768,439.4L770,439.3L772,439.3L774,439.4L776,439.6L778,439.8L780,440.1L782,440.4L784,440.8L786,441.2L788,441.5L790,441.9L792,442.3L794,442.7L796,443L798,443.5L800,443.9L802,444.3L804,444.8L806,445.3L808,445.8L810,446.3L812,446.9L814,447.4L816,448L818,448.5L820,449.1L822,449.7L824,450.3L826,450.9L828,451.6L830,452.2L832,452.9L834,453.6L836,454.4L838,455.1L840,455.9L842,456.7L844,457.4L846,458.2L848,459L850,459.8L852,460.6L854,461.5L856,462.3L858,463.1L860,463.9L862,464.7L864,465.5L866,466.4L868,467.3L870,468.2L872,469.1L874,470L876,471L878,471.9L880,472.8L882,473.6L884,474.5L886,475.3L888,476.2L890,476.9L892,477.7L894,478.4L896,479L898,479.7L900,480.3L902,481L904,481.6L906,482.3L908,482.9L910,483.5L912,484.1L914,484.6L916,485.2L918,485.7L920,486.2L922,486.6L924,487.1L926,487.5L928,487.9L930,488.2L932,488.6L934,488.9L936,489.3L938,489.6L940,490L942,490.3L944,490.7L946,491L948,491.3L950,491.5L952,491.8L954,492L956,492.2L958,492.3L960,492.5L962,492.6L964,492.6L966,492.6L968,492.6L970,492.5L972,492.5L974,492.4L976,492.4L978,492.3L980,492.2L982,492.1L984,491.9L986,491.8L988,491.7L990,491.5L992,491.4L994,491.2L996,491L998,490.9L1000,490.7L1002,490.5L1004,490.2L1006,489.9L1008,489.6L1010,489.2L1012,488.8L1014,488.3L1016,487.8L1018,487.3L1020,486.8L1022,486.2L1024,485.6L1026,485L1028,484.4L1030,483.8L1032,483.1L1034,482.5L1036,481.8L1038,481.2L1040,480.5L1042,479.8L1044,479.1L1046,478.4L1048,477.6L1050,476.8L1052,476L1054,475.2L1056,474.3L1058,473.4L1060,472.5L1062,471.5L1064,470.6L1066,469.6L1068,468.6L1070,467.6L1072,466.6L1074,465.6L1076,464.5L1078,463.5L1080,462.4L1082,461.4L1084,460.3L1086,459.2L1088,458L1090,456.9L1092,455.7L1094,454.5L1096,453.3L1098,452L1100,450.7L1102,449.4L1104,448L1106,446.7L1108,445.2L1110,443.8L1112,442.3L1114,440.7L1116,438.8L1118,437L1120,435L1122,433.2L1124,431.4L1126,429.8L1128,428.4L1130,426.8L1132,425.5L1134,424.9L1136,425.2L1138,425.9L1140,427L1142,428.2L1144,429.5L1146,430.7L1148,431.6L1150,432L1152,432.4L1154,432.6L1156,432.9L1158,433.1L1160,433.3L1162,433.5L1164,433.7L1166,434L1168,434.3L1170,434.6L1172,434.9L1174,435.3L1176,435.7L1178,436.1L1180,436.6L1182,437.2L1184,437.9L1186,438.9L1188,440L1190,441.3L1192,442.6L1194,443.9L1196,445.1L1198,446.4L1200,447.5L1202,448.4L1204,449.2L1206,450L1208,450.7L1210,451.3L1212,451.9L1214,452.5L1216,453.1L1218,453.7L1220,454.2L1222,454.8L1224,455.4L1226,455.9L1228,456.5L1230,457.1L1232,457.8L1234,458.4L1236,459.1L1238,459.8L1240,460.5L1242,461.2L1244,461.8L1246,462.5L1248,463.1L1250,463.7L1252,464.2L1254,464.7L1256,465.2L1258,465.6L1260,465.9L1262,466.3L1264,466.7L1266,467L1268,467.3L1270,467.6L1272,467.9L1274,468.1L1276,468.2L1278,468.3L1280,468.2L1282,468.2L1284,468.1L1286,468L1288,467.9L1290,467.7L1292,467.6L1294,467.4L1296,467.2L1298,466.9L1300,466.7L1302,466.5L1304,466.2L1306,466L1308,465.7L1310,465.4L1312,465.1L1314,464.7L1316,464.3L1318,463.8L1320,463.3L1322,462.8L1324,462.3L1326,461.7L1328,461.7L1328,604Z" fill="#d6ebff"/>
<path d="M418,604L418,478.5L420,478.5L422,478.5L424,477L426,475.6L428,474.1L430,472.7L432,471.4L434,470L436,468.7L438,467.4L440,466.1L442,464.8L444,463.6L446,462.2L448,460.8L450,459.3L452,458L454,457L456,456.5L458,456.3L460,456.2L462,456.1L464,456L466,456L468,455.9L470,455.9L472,455.8L474,455.8L476,455.7L478,455.6L480,455.5L482,455.1L484,454.5L486,453.7L488,452.9L490,452.2L492,451.6L494,451.2L496,451.1L498,451.8L500,453L502,454.8L504,457L506,459.3L508,461.7L510,464L512,466.8L514,470.1L516,473.7L518,477.3L520,480.7L522,483.6L524,485.9L526,487.9L528,489.8L530,491.7L532,493.5L534,495L536,496.3L538,497.3L540,497.8L542,497.9L544,497.6L546,497.1L548,496.4L550,495.6L552,494.7L554,493.7L556,492.9L558,492.1L560,491.4L562,490.7L564,490L566,489.4L568,488.7L570,488.1L572,487.5L574,487L576,486.5L578,486.2L580,485.8L582,485.5L584,485.2L586,484.9L588,484.6L590,484.3L592,484.1L594,483.8L596,483.6L598,483.4L600,483.2L602,483L604,482.8L606,482.6L608,482.5L610,482.4L612,482.2L614,482.1L616,482L618,481.9L620,481.8L622,481.6L624,481.5L626,481.4L628,481.2L630,481.1L632,480.9L634,480.8L636,480.6L638,480.5L640,480.3L642,480.2L644,480L646,479.8L648,479.6L650,479.4L652,479.1L654,478.8L656,478.5L658,478L660,477.2L662,476.1L664,474.9L666,473.6L668,472.4L670,471.2L672,470.1L674,469.3L676,468.9L678,468.8L680,468.9L682,469.2L684,469.6L686,469.9L688,470.3L690,470.5L692,470.5L694,470.1L696,469.5L698,468.6L700,467.8L702,467L704,465.9L706,464.8L708,463.9L710,463.5L712,463.5L714,463.7L716,464.1L718,464.6L720,465.2L722,465.8L724,466.4L726,467.1L728,467.6L730,468.1L732,468.5L734,468.7L736,468.7L738,468.6L740,468.3L742,467.9L744,467.4L746,466.8L748,466.2L750,465.4L752,464.7L754,464L756,463.2L758,462.5L760,461.8L762,461.3L764,460.7L766,460.3L768,460.1L770,459.9L772,460L774,460.1L776,460.4L778,460.8L780,461.2L782,461.8L784,462.3L786,462.9L788,463.4L790,463.9L792,464.4L794,464.8L796,465.2L798,465.6L800,466L802,466.5L804,466.9L806,467.3L808,467.7L810,468.2L812,468.6L814,469.1L816,469.5L818,470L820,470.5L822,471L824,471.5L826,472L828,472.6L830,473.2L832,473.8L834,474.4L836,475.1L838,475.8L840,476.4L842,477.1L844,477.8L846,478.5L848,479.2L850,479.9L852,480.5L854,481.2L856,481.9L858,482.6L860,483.2L862,483.9L864,484.6L866,485.3L868,485.9L870,486.6L872,487.4L874,488.1L876,488.7L878,489.4L880,490.1L882,490.8L884,491.4L886,492L888,492.6L890,493.2L892,493.8L894,494.3L896,494.8L898,495.3L900,495.8L902,496.2L904,496.7L906,497.2L908,497.6L910,498.1L912,498.5L914,498.9L916,499.3L918,499.7L920,500.1L922,500.4L924,500.7L926,501L928,501.2L930,501.5L932,501.7L934,501.9L936,502.1L938,502.3L940,502.5L942,502.7L944,502.9L946,503.1L948,503.3L950,503.5L952,503.6L954,503.7L956,503.8L958,503.9L960,504L962,504.1L964,504.1L966,504.1L968,504.1L970,504L972,504L974,503.9L976,503.8L978,503.8L980,503.6L982,503.5L984,503.4L986,503.3L988,503.1L990,503L992,502.8L994,502.7L996,502.5L998,502.4L1000,502.2L1002,502L1004,501.8L1006,501.5L1008,501.2L1010,500.9L1012,500.5L1014,500.1L1016,499.7L1018,499.3L1020,498.8L1022,498.3L1024,497.8L1026,497.3L1028,496.8L1030,496.3L1032,495.7L1034,495.2L1036,494.6L1038,494L1040,493.4L1042,492.8L1044,492.2L1046,491.5L1048,490.8L1050,490.1L1052,489.3L1054,488.5L1056,487.7L1058,486.8L1060,485.9L1062,485.1L1064,484.1L1066,483.2L1068,482.3L1070,481.3L1072,480.3L1074,479.4L1076,478.4L1078,477.4L1080,476.4L1082,475.4L1084,474.3L1086,473.2L1088,472.1L1090,471L1092,469.9L1094,468.7L1096,467.5L1098,466.3L1100,465.1L1102,463.8L1104,462.5L1106,461.3L1108,459.9L1110,458.6L1112,457.3L1114,455.8L1116,454.3L1118,452.8L1120,451.2L1122,449.6L1124,448.1L1126,446.7L1128,445.2L1130,443.6L1132,442.2L1134,441.8L1136,442.2L1138,442.9L1140,444L1142,445.2L1144,446.4L1146,447.5L1148,448.4L1150,449L1152,449.4L1154,449.8L1156,450.2L1158,450.5L1160,450.8L1162,451.1L1164,451.5L1166,452L1168,452.5L1170,453.1L1172,453.7L1174,454.3L1176,455L1178,455.7L1180,456.4L1182,457.1L1184,458L1186,458.9L1188,459.8L1190,460.8L1192,461.8L1194,462.8L1196,463.8L1198,464.7L1200,465.6L1202,466.4L1204,467.1L1206,467.7L1208,468.3L1210,468.8L1212,469.4L1214,469.9L1216,470.4L1218,470.8L1220,471.3L1222,471.8L1224,472.3L1226,472.9L1228,473.4L1230,474L1232,474.7L1234,475.3L1236,476L1238,476.8L1240,477.5L1242,478.2L1244,478.9L1246,479.7L1248,480.4L1250,481.1L1252,481.7L1254,482.3L1256,482.9L1258,483.4L1260,483.9L1262,484.5L1264,485L1266,485.5L1268,485.9L1270,486.4L1272,486.7L1274,487.1L1276,487.3L1278,487.5L1280,487.6L1282,487.8L1284,487.9L1286,488L1288,488.1L1290,488.1L1292,488.2L1294,488.3L1296,488.4L1298,488.4L1300,488.5L1302,488.5L1304,488.5L1306,488.5L1308,488.5L1310,488.5L1312,488.4L1314,488.2L1316,487.9L1318,487.6L1320,487.3L1322,486.9L1324,486.6L1326,486.2L1328,486.2L1328,604Z" fill="#ffebd6"/>
<path d="M418,604L418,496.1L420,496.1L422,496.1L424,494.7L426,493.2L428,491.8L430,490.4L432,489L434,487.7L436,486.3L438,485L440,483.7L442,482.5L444,481.2L446,479.9L448,478.5L450,477.1L452,475.8L454,474.8L456,474.1L458,473.9L460,473.6L462,473.5L464,473.3L466,473.2L468,473.1L470,473L472,472.9L474,472.8L476,472.7L478,472.5L480,472.2L482,471.6L484,470.7L486,469.7L488,468.8L490,468.1L492,467.9L494,468.6L496,470.3L498,472.6L500,475.1L502,477.5L504,479.3L506,480.2L508,480.5L510,480.6L512,480.8L514,481L516,481.9L518,485L520,489.3L522,493.6L524,496.5L526,498.8L528,501.1L530,503.3L532,505.3L534,507L536,508.5L538,509.5L540,510.1L542,510.2L544,510L546,509.5L548,508.8L550,508L552,507L554,506.1L556,505.2L558,504.4L560,503.7L562,503.1L564,502.4L566,501.7L568,501L570,500.4L572,499.8L574,499.3L576,498.9L578,498.6L580,498.3L582,498L584,497.8L586,497.5L588,497.3L590,497.1L592,496.9L594,496.7L596,496.6L598,496.4L600,496.3L602,496.2L604,496.1L606,496L608,495.9L610,495.9L612,495.8L614,495.7L616,495.7L618,495.6L620,495.6L622,495.5L624,495.5L626,495.4L628,495.3L630,495.2L632,495.1L634,495.1L636,495L638,494.9L640,494.8L642,494.7L644,494.6L646,494.4L648,494.3L650,494.1L652,493.9L654,493.7L656,493.5L658,493.1L660,492.2L662,491.1L664,489.8L666,488.4L668,487L670,485.6L672,484.4L674,483.5L676,483L678,482.9L680,483.5L682,484.5L684,485.7L686,487L688,488.1L690,488.9L692,489.1L694,488.7L696,488.1L698,487.3L700,486.4L702,485.2L704,483.5L706,481.7L708,480.2L710,479.4L712,479.4L714,479.8L716,480.3L718,481.1L720,481.9L722,482.9L724,483.8L726,484.8L728,485.6L730,486.4L732,486.9L734,487.2L736,487.3L738,487.2L740,486.9L742,486.4L744,485.9L746,485.3L748,484.6L750,483.9L752,483.1L754,482.3L756,481.5L758,480.8L760,480.1L762,479.5L764,479L766,478.6L768,478.3L770,478.1L772,478.2L774,478.3L776,478.7L778,479.1L780,479.6L782,480.2L784,480.8L786,481.4L788,481.9L790,482.5L792,482.9L794,483.3L796,483.7L798,484.1L800,484.5L802,484.9L804,485.2L806,485.6L808,486L810,486.4L812,486.7L814,487.1L816,487.5L818,487.9L820,488.3L822,488.7L824,489.1L826,489.6L828,490L830,490.5L832,491L834,491.5L836,492L838,492.5L840,493L842,493.5L844,494L846,494.6L848,495.1L850,495.6L852,496.1L854,496.6L856,497.1L858,497.7L860,498.2L862,498.7L864,499.2L866,499.7L868,500.2L870,500.8L872,501.3L874,501.8L876,502.3L878,502.9L880,503.4L882,503.9L884,504.4L886,504.9L888,505.3L890,505.8L892,506.2L894,506.7L896,507.1L898,507.5L900,507.9L902,508.3L904,508.7L906,509.1L908,509.5L910,509.9L912,510.3L914,510.6L916,511L918,511.3L920,511.6L922,511.9L924,512.2L926,512.5L928,512.7L930,513L932,513.2L934,513.4L936,513.6L938,513.8L940,514L942,514.2L944,514.4L946,514.6L948,514.8L950,514.9L952,515.1L954,515.2L956,515.3L958,515.4L960,515.5L962,515.5L964,515.6L966,515.6L968,515.5L970,515.5L972,515.5L974,515.4L976,515.3L978,515.2L980,515.1L982,515L984,514.9L986,514.7L988,514.6L990,514.4L992,514.3L994,514.1L996,513.9L998,513.8L1000,513.6L1002,513.4L1004,513.2L1006,512.9L1008,512.6L1010,512.3L1012,512L1014,511.6L1016,511.2L1018,510.8L1020,510.4L1022,510L1024,509.5L1026,509L1028,508.5L1030,508L1032,507.5L1034,507L1036,506.5L1038,505.9L1040,505.4L1042,504.8L1044,504.2L1046,503.6L1048,502.9L1050,502.2L1052,501.5L1054,500.7L1056,499.9L1058,499.1L1060,498.3L1062,497.4L1064,496.6L1066,495.7L1068,494.8L1070,493.9L1072,493L1074,492.1L1076,491.2L1078,490.2L1080,489.3L1082,488.4L1084,487.4L1086,486.5L1088,485.5L1090,484.5L1092,483.5L1094,482.4L1096,481.4L1098,480.3L1100,479.2L1102,478.1L1104,477L1106,475.8L1108,474.6L1110,473.4L1112,472.2L1114,470.9L1116,469.5L1118,468.1L1120,466.6L1122,465.2L1124,463.8L1126,462.5L1128,461.2L1130,459.8L1132,458.7L1134,458.4L1136,459.7L1138,462.2L1140,465L1142,467.1L1144,467.8L1146,468.1L1148,468.3L1150,468.5L1152,468.6L1154,468.8L1156,468.9L1158,469L1160,469.1L1162,469.3L1164,469.5L1166,469.8L1168,470.2L1170,470.8L1172,471.4L1174,472.1L1176,472.8L1178,473.6L1180,474.3L1182,475L1184,475.8L1186,476.6L1188,477.5L1190,478.3L1192,479.2L1194,480.1L1196,481L1198,481.8L1200,482.6L1202,483.3L1204,484L1206,484.6L1208,485.2L1210,485.7L1212,486.3L1214,486.8L1216,487.4L1218,487.9L1220,488.4L1222,488.9L1224,489.4L1226,489.9L1228,490.4L1230,490.9L1232,491.4L1234,491.9L1236,492.4L1238,492.9L1240,493.4L1242,493.9L1244,494.4L1246,494.9L1248,495.3L1250,495.8L1252,496.2L1254,496.6L1256,497L1258,497.4L1260,497.8L1262,498.1L1264,498.5L1266,498.9L1268,499.2L1270,499.5L1272,499.8L1274,500.1L1276,500.3L1278,500.4L1280,500.6L1282,500.7L1284,500.8L1286,500.9L1288,501L1290,501.1L1292,501.1L1294,501.2L1296,501.3L1298,501.3L1300,501.4L1302,501.4L1304,501.4L1306,501.5L1308,501.5L1310,501.4L1312,501.3L1314,501.2L1316,501L1318,500.7L1320,500.4L1322,500.1L1324,499.8L1326,499.5L1328,499.5L1328,604Z" fill="#ffcdb3"/>
<path d="M418,604L418,510.3L420,510.3L422,510.3L424,508.9L426,507.4L428,505.9L430,504.5L432,503.1L434,501.6L436,500.2L438,498.7L440,497.3L442,495.9L444,494.5L446,492.9L448,491L450,489.4L452,488.3L454,488.2L456,488.2L458,488.2L460,488.2L462,488.2L464,488.2L466,488.2L468,488.2L470,488.2L472,488.2L474,488.2L476,488.2L478,488.2L480,488.2L482,487.7L484,486.9L486,485.8L488,484.8L490,484L492,483.8L494,484.7L496,486.9L498,489.9L500,493.2L502,497.4L504,503.9L506,509.8L508,512L510,509.9L512,506.3L514,503.5L516,503.6L518,505.8L520,508.9L522,512L524,514.1L526,515.5L528,517L530,518.3L532,519.6L534,520.7L536,521.5L538,522.2L540,522.6L542,522.6L544,522.3L546,521.8L548,521.1L550,520.2L552,519.3L554,518.4L556,517.5L558,516.8L560,516.1L562,515.5L564,514.9L566,514.3L568,513.8L570,513.3L572,512.8L574,512.4L576,512.1L578,511.9L580,511.7L582,511.5L584,511.3L586,511.2L588,511.1L590,510.9L592,510.8L594,510.7L596,510.6L598,510.5L600,510.4L602,510.3L604,510.2L606,510.1L608,510.1L610,510L612,509.9L614,509.9L616,509.8L618,509.7L620,509.7L622,509.6L624,509.6L626,509.5L628,509.4L630,509.4L632,509.3L634,509.3L636,509.2L638,509.2L640,509.1L642,509.1L644,509L646,509L648,508.9L650,508.8L652,508.7L654,508.6L656,508.5L658,508.2L660,507.4L662,506.3L664,505L666,503.6L668,502.1L670,500.7L672,499.5L674,498.6L676,498L678,497.9L680,498.6L682,499.7L684,501.1L686,502.6L688,503.9L690,504.8L692,504.9L694,504.3L696,503.2L698,501.8L700,500.5L702,499L704,497L706,495.1L708,493.5L710,492.7L712,492.8L714,493.5L716,494.6L718,495.9L720,497.2L722,498.3L724,499.2L726,500.2L728,501.1L730,502L732,502.7L734,503.1L736,503.2L738,503L740,502.8L742,502.3L744,501.8L746,501.2L748,500.5L750,499.8L752,499L754,498.2L756,497.4L758,496.7L760,496L762,495.4L764,494.9L766,494.5L768,494.2L770,494L772,494.1L774,494.2L776,494.6L778,495L780,495.5L782,496.1L784,496.7L786,497.2L788,497.8L790,498.4L792,498.8L794,499.2L796,499.6L798,500L800,500.4L802,500.8L804,501.2L806,501.6L808,501.9L810,502.3L812,502.7L814,503.1L816,503.4L818,503.8L820,504.2L822,504.6L824,505L826,505.5L828,505.9L830,506.3L832,506.8L834,507.3L836,507.7L838,508.2L840,508.7L842,509.2L844,509.6L846,510.1L848,510.6L850,511L852,511.5L854,511.9L856,512.3L858,512.7L860,513.1L862,513.5L864,513.9L866,514.3L868,514.6L870,515L872,515.3L874,515.7L876,516.1L878,516.4L880,516.7L882,517.1L884,517.4L886,517.7L888,518.1L890,518.4L892,518.7L894,519L896,519.4L898,519.7L900,520L902,520.4L904,520.7L906,521.1L908,521.4L910,521.8L912,522.1L914,522.4L916,522.7L918,523L920,523.3L922,523.6L924,523.8L926,524L928,524.2L930,524.4L932,524.6L934,524.8L936,524.9L938,525.1L940,525.3L942,525.4L944,525.6L946,525.7L948,525.9L950,526L952,526.1L954,526.2L956,526.3L958,526.4L960,526.5L962,526.5L964,526.5L966,526.5L968,526.5L970,526.5L972,526.5L974,526.4L976,526.4L978,526.4L980,526.3L982,526.3L984,526.2L986,526.1L988,526.1L990,526L992,525.9L994,525.9L996,525.8L998,525.7L1000,525.6L1002,525.5L1004,525.3L1006,525.1L1008,524.9L1010,524.6L1012,524.4L1014,524L1016,523.7L1018,523.3L1020,522.9L1022,522.5L1024,522.1L1026,521.6L1028,521.2L1030,520.7L1032,520.2L1034,519.8L1036,519.3L1038,518.8L1040,518.3L1042,517.8L1044,517.3L1046,516.7L1048,516.1L1050,515.5L1052,514.9L1054,514.2L1056,513.5L1058,512.8L1060,512.1L1062,511.3L1064,510.6L1066,509.8L1068,509.1L1070,508.3L1072,507.5L1074,506.7L1076,505.9L1078,505.1L1080,504.3L1082,503.5L1084,502.6L1086,501.8L1088,501L1090,500.2L1092,499.3L1094,498.4L1096,497.5L1098,496.6L1100,495.7L1102,494.7L1104,493.7L1106,492.6L1108,491.5L1110,490.3L1112,489.1L1114,487.7L1116,486.2L1118,484.5L1120,482.8L1122,481.1L1124,479.5L1126,478L1128,476.3L1130,474.7L1132,473.7L1134,474.1L1136,476.4L1138,479.6L1140,482.5L1142,484.1L1144,485.2L1146,486L1148,486.1L1150,486.1L1152,486L1154,486L1156,485.9L1158,485.8L1160,485.7L1162,485.6L1164,485.6L1166,485.6L1168,485.9L1170,486.3L1172,487L1174,487.7L1176,488.6L1178,489.4L1180,490.2L1182,490.9L1184,491.7L1186,492.5L1188,493.3L1190,494.2L1192,495L1194,495.9L1196,496.7L1198,497.6L1200,498.4L1202,499.2L1204,499.9L1206,500.8L1208,501.6L1210,502.5L1212,503.4L1214,504.1L1216,504.8L1218,505.2L1220,505.4L1222,505.3L1224,504.7L1226,504L1228,503.5L1230,503.5L1232,503.6L1234,503.8L1236,504.1L1238,504.5L1240,505L1242,505.5L1244,506L1246,506.5L1248,507L1250,507.6L1252,508.1L1254,508.5L1256,509L1258,509.3L1260,509.7L1262,510L1264,510.3L1266,510.5L1268,510.8L1270,511.1L1272,511.3L1274,511.6L1276,511.8L1278,512L1280,512.1L1282,512.3L1284,512.5L1286,512.7L1288,512.9L1290,513.1L1292,513.2L1294,513.4L1296,513.5L1298,513.7L1300,513.8L1302,513.9L1304,513.9L1306,514L1308,514L1310,514L1312,513.9L1314,513.8L1316,513.6L1318,513.4L1320,513.2L1322,513L1324,512.7L1326,512.4L1328,512.4L1328,604Z" fill="#ffaa84"/>
<path d="M418,604L418,524.4L420,524.4L422,524.4L424,522.7L426,521L428,519.4L430,517.7L432,516.1L434,514.5L436,512.9L438,511.4L440,509.8L442,508.3L444,506.9L446,505.2L448,503.3L450,501.7L452,500.7L454,500.6L456,500.6L458,500.7L460,500.9L462,501L464,501.2L466,501.4L468,501.6L470,501.8L472,502L474,502.1L476,502.2L478,502.3L480,502.3L482,501.7L484,500.6L486,499.4L488,498.3L490,497.9L492,499.3L494,502.9L496,507.6L498,512.1L500,515.4L502,517.7L504,520.4L506,524.4L508,538.6L510,553.6L512,555.3L514,556L516,551.5L518,525.7L520,527.8L522,529.8L524,531.6L526,533.2L528,534.4L530,534.9L532,535L534,534.7L536,534.4L538,534L540,533.5L542,533.1L544,532.5L546,531.8L548,531L550,530.2L552,529.4L554,528.6L556,527.9L558,527.3L560,526.8L562,526.4L564,525.9L566,525.5L568,525.1L570,524.7L572,524.4L574,524.2L576,524.1L578,524L580,523.9L582,523.9L584,523.8L586,523.7L588,523.7L590,523.7L592,523.6L594,523.6L596,523.6L598,523.5L600,523.5L602,523.5L604,523.5L606,523.5L608,523.5L610,523.5L612,523.5L614,523.5L616,523.5L618,523.5L620,523.5L622,523.5L624,523.5L626,523.5L628,523.5L630,523.5L632,523.5L634,523.5L636,523.5L638,523.4L640,523.4L642,523.3L644,523.2L646,523.2L648,523.1L650,523L652,522.9L654,522.8L656,522.6L658,522.3L660,521.4L662,520.1L664,518.6L666,516.9L668,515.2L670,513.6L672,512.2L674,511.1L676,510.4L678,510.3L680,511.1L682,512.5L684,514.3L686,516.2L688,517.8L690,518.8L692,519.1L694,518.3L696,517L698,515.4L700,513.8L702,511.9L704,509.5L706,507.1L708,505.2L710,504.1L712,504.7L714,507L716,510L718,512.3L720,512.9L722,512.1L724,511.2L726,511.4L728,512.8L730,514.7L732,516.6L734,517.9L736,518.2L738,518.2L740,518.2L742,518.2L744,518.2L746,518.2L748,518.2L750,518.2L752,517.8L754,517L756,515.9L758,514.6L760,513.2L762,511.8L764,510.5L766,509.4L768,508.6L770,508.2L772,508.2L774,508.5L776,509L778,509.6L780,510.3L782,511.1L784,512L786,512.8L788,513.5L790,514.2L792,514.7L794,515.1L796,515.5L798,515.9L800,516.3L802,516.6L804,516.9L806,517.3L808,517.6L810,517.9L812,518.2L814,518.5L816,518.8L818,519.1L820,519.4L822,519.7L824,520L826,520.4L828,520.7L830,521.1L832,521.4L834,521.8L836,522.2L838,522.5L840,522.9L842,523.2L844,523.6L846,523.9L848,524.3L850,524.7L852,525L854,525.3L856,525.7L858,526L860,526.3L862,526.7L864,527L866,527.3L868,527.6L870,527.9L872,528.3L874,528.6L876,528.9L878,529.2L880,529.5L882,529.8L884,530.1L886,530.4L888,530.7L890,530.9L892,531.2L894,531.4L896,531.7L898,531.9L900,532.1L902,532.4L904,532.6L906,532.8L908,533L910,533.3L912,533.5L914,533.7L916,533.9L918,534.1L920,534.2L922,534.4L924,534.6L926,534.7L928,534.9L930,535L932,535.2L934,535.3L936,535.4L938,535.6L940,535.7L942,535.8L944,536L946,536.1L948,536.2L950,536.3L952,536.4L954,536.5L956,536.6L958,536.7L960,536.7L962,536.7L964,536.8L966,536.8L968,536.8L970,536.8L972,536.8L974,536.7L976,536.7L978,536.7L980,536.7L982,536.7L984,536.7L986,536.7L988,536.7L990,536.7L992,536.6L994,536.6L996,536.6L998,536.6L1000,536.6L1002,536.5L1004,536.5L1006,536.4L1008,536.3L1010,536.1L1012,536L1014,535.8L1016,535.6L1018,535.4L1020,535.1L1022,534.9L1024,534.6L1026,534.4L1028,534.1L1030,533.8L1032,533.5L1034,533.2L1036,532.9L1038,532.6L1040,532.2L1042,531.9L1044,531.5L1046,531.1L1048,530.6L1050,530.1L1052,529.6L1054,529L1056,528.4L1058,527.8L1060,527.1L1062,526.5L1064,525.8L1066,525.1L1068,524.4L1070,523.7L1072,523L1074,522.3L1076,521.6L1078,520.9L1080,520.2L1082,519.5L1084,518.8L1086,518.1L1088,517.4L1090,516.7L1092,516L1094,515.3L1096,514.5L1098,513.7L1100,512.9L1102,512L1104,511.1L1106,510.2L1108,509.2L1110,508.2L1112,507.1L1114,505.9L1116,504.6L1118,503.2L1120,501.6L1122,499.8L1124,497.5L1126,494L1128,490.8L1130,488.9L1132,487.7L1134,488.1L1136,490.7L1138,494.3L1140,497.5L1142,498.9L1144,499.8L1146,500.4L1148,500.4L1150,500.1L1152,499.5L1154,498.9L1156,498.5L1158,498.5L1160,498.9L1162,499.5L1164,500.2L1166,500.7L1168,501.3L1170,501.9L1172,502.5L1174,503.1L1176,503.8L1178,504.4L1180,505.1L1182,505.8L1184,506.6L1186,507.3L1188,508.1L1190,509L1192,509.8L1194,510.6L1196,511.5L1198,512.4L1200,513.2L1202,514L1204,514.9L1206,515.9L1208,517L1210,518.1L1212,519.2L1214,520.2L1216,521L1218,521.6L1220,521.9L1222,521.8L1224,521.2L1226,520.5L1228,520L1230,520L1232,520L1234,520.1L1236,520.2L1238,520.3L1240,520.5L1242,520.7L1244,520.9L1246,521.1L1248,521.3L1250,521.5L1252,521.7L1254,521.9L1256,522.1L1258,522.3L1260,522.5L1262,522.7L1264,522.9L1266,523.1L1268,523.3L1270,523.5L1272,523.7L1274,523.9L1276,524.1L1278,524.3L1280,524.5L1282,524.6L1284,524.8L1286,525L1288,525.2L1290,525.4L1292,525.5L1294,525.7L1296,525.8L1298,526L1300,526.1L1302,526.2L1304,526.3L1306,526.3L1308,526.3L1310,526.3L1312,526.3L1314,526.3L1316,526.3L1318,526.2L1320,526.2L1322,526.1L1324,526L1326,525.9L1328,525.9L1328,604Z" fill="#ff7744"/>
<path d="M418,604L418,538.5L420,538.5L422,538.5L424,536.7L426,534.9L428,533.1L430,531.3L432,529.5L434,527.8L436,526L438,524.3L440,522.6L442,520.9L444,519.2L446,517.3L448,515.2L450,513.4L452,512.2L454,512L456,512.1L458,512.2L460,512.3L462,512.5L464,512.7L466,512.9L468,513.1L470,513.3L472,513.5L474,513.6L476,513.7L478,513.8L480,513.8L482,513.1L484,512L486,510.9L488,510.3L490,511.5L492,515.4L494,520.3L496,524.9L498,529.9L500,535.1L502,539.5L504,542.8L506,546L508,549L510,551.7L512,553.9L514,555.4L516,556.1L518,549.1L520,548.3L522,548.4L524,548.6L526,548.8L528,549L530,549.1L532,549L534,548.4L536,547.4L538,546.3L540,545.3L542,544.4L544,543.7L546,542.9L548,542.1L550,541.3L552,540.6L554,539.9L556,539.3L558,538.7L560,538.3L562,537.9L564,537.5L566,537.1L568,536.7L570,536.4L572,536.1L574,536L576,535.9L578,535.9L580,535.9L582,535.9L584,535.9L586,535.9L588,535.9L590,535.9L592,535.9L594,535.9L596,535.9L598,535.9L600,535.9L602,535.9L604,535.9L606,535.9L608,535.9L610,535.9L612,535.9L614,535.9L616,535.9L618,535.9L620,535.9L622,535.9L624,535.9L626,535.9L628,535.9L630,535.9L632,535.9L634,535.9L636,535.8L638,535.8L640,535.7L642,535.7L644,535.6L646,535.5L648,535.4L650,535.4L652,535.2L654,535.1L656,535L658,534.6L660,533.7L662,532.5L664,530.9L666,529.3L668,527.6L670,525.9L672,524.5L674,523.4L676,522.8L678,522.7L680,523.5L682,525.1L684,527.1L686,529.1L688,530.9L690,532.1L692,532.3L694,531.8L696,530.7L698,529.3L700,527.9L702,525.9L704,523.1L706,520.2L708,517.8L710,516.5L712,517.1L714,519.7L716,522.9L718,525.5L720,526.1L722,525.5L724,524.8L726,525.1L728,526.5L730,528.5L732,530.6L734,532L736,532.3L738,532.3L740,532.3L742,532.3L744,532.3L746,532.3L748,532.3L750,532.3L752,532L754,531.3L756,530.3L758,529.2L760,528L762,526.7L764,525.6L766,524.6L768,523.9L770,523.5L772,523.6L774,523.9L776,524.3L778,524.9L780,525.7L782,526.5L784,527.3L786,528L788,528.7L790,529.3L792,529.7L794,530L796,530.3L798,530.6L800,530.8L802,531L804,531.3L806,531.4L808,531.6L810,531.8L812,532L814,532.2L816,532.4L818,532.6L820,532.8L822,533L824,533.3L826,533.5L828,533.8L830,534.1L832,534.4L834,534.7L836,535L838,535.3L840,535.7L842,536L844,536.3L846,536.6L848,536.9L850,537.3L852,537.6L854,537.9L856,538.1L858,538.4L860,538.7L862,538.9L864,539.1L866,539.4L868,539.6L870,539.8L872,540L874,540.3L876,540.5L878,540.7L880,540.9L882,541.1L884,541.3L886,541.5L888,541.7L890,541.9L892,542.2L894,542.4L896,542.6L898,542.8L900,543.1L902,543.3L904,543.6L906,543.9L908,544.1L910,544.4L912,544.6L914,544.9L916,545.1L918,545.4L920,545.6L922,545.8L924,546L926,546.2L928,546.4L930,546.5L932,546.6L934,546.8L936,546.9L938,547.1L940,547.2L942,547.3L944,547.5L946,547.6L948,547.7L950,547.8L952,547.9L954,548L956,548.1L958,548.1L960,548.2L962,548.2L964,548.2L966,548.2L968,548.2L970,548.2L972,548.2L974,548.2L976,548.2L978,548.1L980,548.1L982,548.1L984,548L986,548L988,547.9L990,547.9L992,547.8L994,547.8L996,547.7L998,547.7L1000,547.6L1002,547.5L1004,547.4L1006,547.4L1008,547.2L1010,547.1L1012,547L1014,546.9L1016,546.7L1018,546.5L1020,546.4L1022,546.2L1024,546L1026,545.8L1028,545.6L1030,545.4L1032,545.1L1034,544.9L1036,544.7L1038,544.4L1040,544.2L1042,543.9L1044,543.6L1046,543.2L1048,542.8L1050,542.4L1052,541.9L1054,541.5L1056,541L1058,540.4L1060,539.9L1062,539.3L1064,538.8L1066,538.2L1068,537.6L1070,537L1072,536.4L1074,535.9L1076,535.3L1078,534.7L1080,534.1L1082,533.6L1084,533L1086,532.5L1088,532L1090,531.4L1092,530.9L1094,530.3L1096,529.7L1098,529.1L1100,528.5L1102,527.8L1104,527.2L1106,526.4L1108,525.7L1110,524.9L1112,524.1L1114,523.2L1116,522.4L1118,521.4L1120,520.1L1122,518.6L1124,516.2L1126,510.7L1128,505.7L1130,503.8L1132,502.6L1134,503.1L1136,506.1L1138,510.2L1140,513.5L1142,514.6L1144,515.1L1146,515.3L1148,515.3L1150,514.9L1152,514.1L1154,513.4L1156,512.9L1158,512.9L1160,513.6L1162,514.8L1164,515.9L1166,516.7L1168,517.4L1170,518.1L1172,518.7L1174,519.3L1176,519.9L1178,520.5L1180,521.1L1182,521.7L1184,522.3L1186,522.9L1188,523.4L1190,524.1L1192,524.7L1194,525.3L1196,525.9L1198,526.6L1200,527.2L1202,528L1204,528.8L1206,530L1208,531.3L1210,532.7L1212,534.2L1214,535.5L1216,536.6L1218,537.4L1220,537.8L1222,537.7L1224,537.3L1226,536.7L1228,536.3L1230,536.3L1232,536.3L1234,536.3L1236,536.4L1238,536.4L1240,536.5L1242,536.5L1244,536.6L1246,536.7L1248,536.8L1250,536.9L1252,537L1254,537.1L1256,537.1L1258,537.2L1260,537.3L1262,537.4L1264,537.5L1266,537.6L1268,537.7L1270,537.8L1272,537.9L1274,538L1276,538.1L1278,538.2L1280,538.3L1282,538.5L1284,538.6L1286,538.8L1288,539L1290,539.2L1292,539.3L1294,539.5L1296,539.7L1298,539.8L1300,540L1302,540.1L1304,540.2L1306,540.2L1308,540.2L1310,540.2L1312,540.2L1314,540.2L1316,540.2L1318,540.2L1320,540.2L1322,540.2L1324,540.2L1326,540.2L1328,540.2L1328,604Z" fill="#ff4f1c"/>
<path d="M418,604L418,550.9L420,550.9L422,550.9L424,549.4L426,547.7L428,546L430,544.3L432,542.6L434,540.8L436,539L438,537.2L440,535.4L442,533.5L444,531.6L446,529.4L448,526.7L450,524.4L452,522.8L454,522.6L456,522.8L458,523L460,523.4L462,523.8L464,524.3L466,524.8L468,525.3L470,525.8L472,526.2L474,526.6L476,526.8L478,527L480,527L482,526.7L484,526L486,525.3L488,524.7L490,524.4L492,526.3L494,531.2L496,537.2L498,542.3L500,545.2L502,547.6L504,550L506,552.2L508,554.3L510,556.3L512,558L514,559.6L516,560.9L518,561.9L520,562.7L522,563.1L524,563.3L526,563.1L528,562.6L530,561.9L532,561.1L534,560.3L536,559.3L538,558.4L540,557.6L542,556.8L544,556.1L546,555.3L548,554.5L550,553.7L552,553L554,552.3L556,551.6L558,551.1L560,550.7L562,550.3L564,549.8L566,549.4L568,549.1L570,548.8L572,548.5L574,548.3L576,548.2L578,548.2L580,548.2L582,548.2L584,548.2L586,548.2L588,548.2L590,548.2L592,548.2L594,548.2L596,548.2L598,548.2L600,548.2L602,548.2L604,548.2L606,548.2L608,548.2L610,548.2L612,548.2L614,548.2L616,548.2L618,548.2L620,548.2L622,548.2L624,548.2L626,548.2L628,548.2L630,548.2L632,548.2L634,548.2L636,548.2L638,548.2L640,548.1L642,548L644,548L646,547.9L648,547.8L650,547.7L652,547.6L654,547.5L656,547.4L658,547L660,546.1L662,544.8L664,543.3L666,541.6L668,539.9L670,538.3L672,536.9L674,535.8L676,535.1L678,535.1L680,535.9L682,537.5L684,539.4L686,541.5L688,543.2L690,544.4L692,544.7L694,544.1L696,543.1L698,541.7L700,540.3L702,538.1L704,535.2L706,532L708,529.4L710,528L712,528.6L714,531.4L716,535L718,537.8L720,538.5L722,538.1L724,537.7L726,537.9L728,539L730,540.7L732,542.4L734,543.6L736,543.8L738,543.8L740,543.8L742,543.8L744,543.8L746,543.8L748,543.8L750,543.8L752,543.3L754,542.3L756,541.1L758,540L760,539.2L762,538.9L764,538.9L766,539L768,539.2L770,539.5L772,539.7L774,540L776,540.4L778,540.7L780,541.1L782,541.5L784,541.8L786,542.1L788,542.5L790,542.7L792,543L794,543.2L796,543.4L798,543.5L800,543.7L802,543.9L804,544.1L806,544.2L808,544.4L810,544.5L812,544.7L814,544.9L816,545L818,545.2L820,545.3L822,545.5L824,545.6L826,545.8L828,545.9L830,546.1L832,546.2L834,546.4L836,546.5L838,546.6L840,546.8L842,546.9L844,547L846,547.2L848,547.3L850,547.5L852,547.6L854,547.8L856,548L858,548.2L860,548.3L862,548.5L864,548.8L866,549L868,549.2L870,549.5L872,549.7L874,550L876,550.2L878,550.5L880,550.8L882,551L884,551.3L886,551.6L888,551.8L890,552.1L892,552.4L894,552.6L896,552.9L898,553.1L900,553.4L902,553.7L904,553.9L906,554.2L908,554.5L910,554.7L912,555L914,555.3L916,555.5L918,555.8L920,556L922,556.3L924,556.5L926,556.7L928,556.9L930,557.1L932,557.3L934,557.5L936,557.7L938,557.9L940,558.1L942,558.3L944,558.5L946,558.7L948,558.9L950,559L952,559.2L954,559.3L956,559.5L958,559.6L960,559.6L962,559.7L964,559.7L966,559.7L968,559.7L970,559.7L972,559.7L974,559.7L976,559.6L978,559.6L980,559.5L982,559.5L984,559.4L986,559.4L988,559.3L990,559.3L992,559.2L994,559.2L996,559.1L998,559L1000,559L1002,558.9L1004,558.9L1006,558.8L1008,558.7L1010,558.7L1012,558.6L1014,558.5L1016,558.4L1018,558.3L1020,558.3L1022,558.2L1024,558.1L1026,558L1028,557.9L1030,557.8L1032,557.6L1034,557.5L1036,557.4L1038,557.3L1040,557.1L1042,557L1044,556.8L1046,556.6L1048,556.3L1050,556.1L1052,555.8L1054,555.6L1056,555.3L1058,555L1060,554.6L1062,554.3L1064,554L1066,553.6L1068,553.3L1070,552.9L1072,552.5L1074,552.2L1076,551.8L1078,551.4L1080,551.1L1082,550.7L1084,550.4L1086,550L1088,549.7L1090,549.3L1092,548.9L1094,548.6L1096,548.2L1098,547.7L1100,547.3L1102,546.8L1104,546.3L1106,545.8L1108,545.2L1110,544.6L1112,544L1114,543.3L1116,542.6L1118,541.6L1120,540.3L1122,538.1L1124,530.9L1126,523L1128,519.7L1130,518.2L1132,517.4L1134,517.9L1136,520.7L1138,524.4L1140,527.5L1142,528.5L1144,529L1146,529.3L1148,529.2L1150,528.7L1152,527.9L1154,527L1156,526.4L1158,526.4L1160,527.2L1162,528.4L1164,529.7L1166,530.8L1168,532L1170,533.3L1172,534.6L1174,535.9L1176,537L1178,537.8L1180,538.2L1182,538.2L1184,538.2L1186,538.2L1188,538.2L1190,538.2L1192,538.3L1194,538.8L1196,539.6L1198,540.6L1200,541.7L1202,542.8L1204,543.9L1206,545.2L1208,546.7L1210,548.4L1212,550L1214,551.5L1216,552.7L1218,553.6L1220,554.1L1222,554L1224,553.4L1226,552.7L1228,552.2L1230,552.2L1232,552.2L1234,552.2L1236,552.3L1238,552.3L1240,552.4L1242,552.4L1244,552.5L1246,552.6L1248,552.7L1250,552.8L1252,552.9L1254,553L1256,553.1L1258,553.1L1260,553.2L1262,553.3L1264,553.4L1266,553.5L1268,553.6L1270,553.7L1272,553.8L1274,554L1276,554L1278,554.1L1280,554.2L1282,554.3L1284,554.4L1286,554.5L1288,554.6L1290,554.7L1292,554.7L1294,554.8L1296,554.9L1298,555L1300,555L1302,555.1L1304,555.1L1306,555.1L1308,555.1L1310,555.1L1312,555L1314,554.9L1316,554.7L1318,554.4L1320,554.1L1322,553.8L1324,553.5L1326,553.2L1328,553.2L1328,604Z" fill="#e03000"/>
<path d="M418,604L418,565L420,565L422,565L424,562.9L426,560.8L428,558.7L430,556.7L432,554.7L434,552.8L436,550.9L438,549.1L440,547.3L442,545.6L444,544L446,542.1L448,540.2L450,538.8L452,538.6L454,539.3L456,540.4L458,541.6L460,542.6L462,542.9L464,542.9L466,542.8L468,542.7L470,542.5L472,542.3L474,542.1L476,541.8L478,541.4L480,541.1L482,540.1L484,538.7L486,537.4L488,536.8L490,537.8L492,541.2L494,546L496,550.9L498,554.9L500,557.4L502,559.5L504,561.6L506,563.6L508,565.6L510,567.3L512,569L514,570.4L516,571.6L518,572.6L520,573.3L522,573.7L524,573.9L526,573.6L528,573.1L530,572.3L532,571.3L534,570.3L536,569.2L538,568.2L540,567.3L542,566.6L544,565.9L546,565.2L548,564.5L550,563.9L552,563.3L554,562.7L556,562.2L558,561.7L560,561.3L562,560.9L564,560.5L566,560.2L568,559.8L570,559.5L572,559.3L574,559L576,558.9L578,558.8L580,558.7L582,558.6L584,558.5L586,558.4L588,558.3L590,558.2L592,558.1L594,558.1L596,558L598,558L600,558L602,558L604,558L606,558L608,558L610,558.1L612,558.2L614,558.3L616,558.4L618,558.5L620,558.6L622,558.7L624,558.7L626,558.8L628,558.8L630,558.8L632,558.8L634,558.8L636,558.8L638,558.8L640,558.8L642,558.8L644,558.8L646,558.8L648,558.8L650,558.8L652,558.8L654,558.8L656,558.8L658,558.6L660,557.8L662,556.5L664,555L666,553.3L668,551.6L670,549.9L672,548.4L674,547.3L676,546.6L678,546.6L680,547.6L682,549.4L684,551.7L686,554.1L688,556.2L690,557.6L692,557.9L694,557.4L696,556.3L698,554.9L700,553.5L702,551.5L704,548.7L706,545.8L708,543.4L710,542.1L712,542.7L714,545L716,547.9L718,550.3L720,550.9L722,550.5L724,550.1L726,550.2L728,551.3L730,552.9L732,554.5L734,555.6L736,555.8L738,555.8L740,555.8L742,555.8L744,555.8L746,555.8L748,555.8L750,555.8L752,555.3L754,554.2L756,553.1L758,552.2L760,551.8L762,551.8L764,552L766,552.3L768,552.6L770,553L772,553.5L774,553.9L776,554.4L778,554.9L780,555.4L782,555.9L784,556.3L786,556.6L788,556.9L790,557L792,557.1L794,557.1L796,557.1L798,557.1L800,557.1L802,557.1L804,557.1L806,557.1L808,557.1L810,557.1L812,557.1L814,557.1L816,557.1L818,557.1L820,557.1L822,557.1L824,557.1L826,557.1L828,557.1L830,557.2L832,557.2L834,557.3L836,557.4L838,557.5L840,557.6L842,557.7L844,557.9L846,558L848,558.1L850,558.3L852,558.4L854,558.5L856,558.7L858,558.8L860,558.9L862,559L864,559.2L866,559.3L868,559.4L870,559.5L872,559.7L874,559.8L876,560L878,560.1L880,560.3L882,560.4L884,560.6L886,560.8L888,560.9L890,561.1L892,561.3L894,561.5L896,561.7L898,561.9L900,562.1L902,562.3L904,562.5L906,562.8L908,563L910,563.3L912,563.6L914,563.8L916,564.1L918,564.4L920,564.6L922,564.9L924,565.2L926,565.4L928,565.7L930,566L932,566.2L934,566.5L936,566.8L938,567.1L940,567.4L942,567.7L944,568L946,568.3L948,568.6L950,568.9L952,569.2L954,569.4L956,569.6L958,569.8L960,570L962,570.2L964,570.3L966,570.4L968,570.4L970,570.5L972,570.6L974,570.6L976,570.7L978,570.7L980,570.7L982,570.8L984,570.8L986,570.9L988,570.9L990,570.9L992,571L994,571L996,571L998,571.1L1000,571.1L1002,571.2L1004,571.2L1006,571.3L1008,571.3L1010,571.4L1012,571.5L1014,571.5L1016,571.6L1018,571.6L1020,571.7L1022,571.8L1024,571.8L1026,571.9L1028,571.9L1030,572L1032,572L1034,572L1036,572L1038,572L1040,572L1042,572L1044,572L1046,571.9L1048,571.9L1050,571.8L1052,571.7L1054,571.6L1056,571.5L1058,571.3L1060,571.2L1062,571.1L1064,571L1066,570.8L1068,570.7L1070,570.6L1072,570.4L1074,570.3L1076,570.2L1078,570.1L1080,570L1082,570L1084,569.9L1086,569.9L1088,569.8L1090,569.8L1092,569.7L1094,569.7L1096,569.7L1098,569.6L1100,569.6L1102,569.5L1104,569.4L1106,569.4L1108,569.3L1110,569.2L1112,569L1114,568.7L1116,568.2L1118,567.4L1120,566.3L1122,561.6L1124,551.1L1126,540.8L1128,536.2L1130,533.8L1132,532.4L1134,532.8L1136,535.5L1138,539L1140,541.7L1142,542.2L1144,542.2L1146,542.2L1148,542.1L1150,541.4L1152,540.3L1154,539.2L1156,538.4L1158,538.4L1160,539.4L1162,541L1164,542.6L1166,543.7L1168,544.7L1170,545.7L1172,546.6L1174,547.6L1176,548.9L1178,550.6L1180,552.4L1182,554.1L1184,555L1186,555L1188,554.4L1190,553.4L1192,552.4L1194,551.8L1196,551.9L1198,552.8L1200,554.2L1202,555.6L1204,556.9L1206,558.4L1208,560.1L1210,561.9L1212,563.6L1214,565.2L1216,566.6L1218,567.5L1220,568L1222,568L1224,567.7L1226,567.4L1228,567.1L1230,567L1232,566.9L1234,566.8L1236,566.7L1238,566.6L1240,566.5L1242,566.4L1244,566.3L1246,566.3L1248,566.2L1250,566.2L1252,566.1L1254,566.1L1256,566.1L1258,566.1L1260,566.1L1262,566.2L1264,566.4L1266,566.6L1268,566.8L1270,567.1L1272,567.4L1274,567.6L1276,567.8L1278,568L1280,568.2L1282,568.4L1284,568.6L1286,568.7L1288,568.9L1290,569.1L1292,569.3L1294,569.4L1296,569.6L1298,569.7L1300,569.8L1302,569.9L1304,570L1306,570L1308,570.1L1310,570L1312,569.9L1314,569.6L1316,569.3L1318,569L1320,568.5L1322,568.1L1324,567.6L1326,567.1L1328,567.1L1328,604Z" fill="#b82400"/>
<path d="M418,604L418,580L420,580L422,580L424,578.4L426,576.6L428,574.9L430,573L432,571.2L434,569.4L436,567.5L438,565.6L440,563.7L442,561.8L444,559.9L446,557.5L448,555.1L450,554.5L452,555L454,556L456,557.3L458,558.5L460,559.4L462,559.7L464,559.7L466,559.5L468,559.2L470,558.8L472,558.3L474,557.8L476,557.3L478,556.7L480,556L482,554.7L484,553.1L486,551.7L488,550.9L490,551.7L492,554.5L494,558.3L496,562.3L498,565.7L500,567.9L502,569.9L504,571.9L506,573.8L508,575.6L510,577.4L512,579L514,580.5L516,581.8L518,582.8L520,583.6L522,584.2L524,584.4L526,584.3L528,583.9L530,583.1L532,582.2L534,581.1L536,579.9L538,578.9L540,577.9L542,577.1L544,576.4L546,575.7L548,575L550,574.3L552,573.7L554,573.1L556,572.7L558,572.3L560,571.9L562,571.6L564,571.4L566,571.1L568,570.9L570,570.7L572,570.5L574,570.4L576,570.3L578,570.3L580,570.3L582,570.3L584,570.3L586,570.3L588,570.3L590,570.3L592,570.3L594,570.3L596,570.3L598,570.3L600,570.3L602,570.3L604,570.3L606,570.3L608,570.3L610,570.3L612,570.3L614,570.3L616,570.3L618,570.3L620,570.3L622,570.3L624,570.3L626,570.3L628,570.3L630,570.3L632,570.3L634,570.3L636,570.3L638,570.3L640,570.3L642,570.3L644,570.3L646,570.3L648,570.3L650,570.3L652,570.3L654,570.3L656,570.3L658,570.1L660,569.2L662,568.1L664,566.6L666,565.1L668,563.6L670,562.4L672,561.5L674,560.8L676,560.2L678,559.8L680,559.9L682,561L684,562.8L686,564.9L688,566.9L690,568.2L692,568.5L694,567.8L696,566.4L698,564.7L700,563.2L702,561.6L704,559.6L706,557.7L708,556.2L710,555.4L712,555.8L714,557.9L716,560.6L718,562.7L720,563.3L722,563.2L724,563L726,562.9L728,563.3L730,564.6L732,566.2L734,567.4L736,567.7L738,567.7L740,567.7L742,567.7L744,567.7L746,567.7L748,567.7L750,567.6L752,566.8L754,565.4L756,564L758,563.3L760,563.4L762,563.9L764,564.6L766,565.3L768,566.1L770,566.7L772,567L774,567.4L776,567.7L778,568.1L780,568.4L782,568.7L784,568.9L786,569.2L788,569.3L790,569.4L792,569.4L794,569.4L796,569.4L798,569.4L800,569.4L802,569.3L804,569.3L806,569.2L808,569.2L810,569.1L812,569.1L814,569L816,569L818,569L820,568.9L822,568.9L824,568.9L826,568.9L828,569L830,569L832,569.1L834,569.2L836,569.3L838,569.4L840,569.5L842,569.6L844,569.8L846,569.9L848,570L850,570.2L852,570.3L854,570.4L856,570.5L858,570.6L860,570.7L862,570.8L864,570.9L866,571L868,571L870,571.1L872,571.2L874,571.2L876,571.3L878,571.4L880,571.4L882,571.5L884,571.6L886,571.7L888,571.8L890,571.9L892,572L894,572.1L896,572.2L898,572.3L900,572.5L902,572.6L904,572.8L906,573L908,573.2L910,573.4L912,573.6L914,573.8L916,574L918,574.2L920,574.5L922,574.7L924,574.9L926,575.2L928,575.4L930,575.7L932,575.9L934,576.2L936,576.5L938,576.8L940,577.1L942,577.4L944,577.8L946,578.1L948,578.5L950,578.8L952,579.1L954,579.4L956,579.7L958,580L960,580.3L962,580.6L964,580.8L966,581L968,581.2L970,581.4L972,581.6L974,581.8L976,581.9L978,582.1L980,582.2L982,582.4L984,582.5L986,582.7L988,582.8L990,583L992,583.1L994,583.3L996,583.4L998,583.6L1000,583.8L1002,584L1004,584.2L1006,584.4L1008,584.6L1010,584.9L1012,585.1L1014,585.4L1016,585.6L1018,585.9L1020,586.1L1022,586.4L1024,586.6L1026,586.8L1028,587.1L1030,587.3L1032,587.4L1034,587.6L1036,587.8L1038,587.9L1040,588L1042,588L1044,588.1L1046,588.2L1048,588.2L1050,588.3L1052,588.3L1054,588.4L1056,588.4L1058,588.5L1060,588.5L1062,588.6L1064,588.6L1066,588.6L1068,588.7L1070,588.7L1072,588.8L1074,588.8L1076,588.9L1078,588.9L1080,589L1082,589L1084,589.1L1086,589.1L1088,589.1L1090,589.2L1092,589.2L1094,589.2L1096,589.3L1098,589.3L1100,589.4L1102,589.4L1104,589.5L1106,589.6L1108,589.7L1110,589.8L1112,590.1L1114,591.2L1116,592.6L1118,592.8L1120,591.4L1122,588.5L1124,582.6L1126,564.3L1128,554L1130,549.2L1132,546.5L1134,546.6L1136,548.3L1138,550.7L1140,552.6L1142,553.3L1144,553.6L1146,553.7L1148,553.7L1150,553.1L1152,552.2L1154,551.3L1156,550.7L1158,550.7L1160,551.3L1162,552.4L1164,553.6L1166,554.7L1168,556L1170,557.5L1172,558.9L1174,560.1L1176,560.9L1178,561.7L1180,562.3L1182,562.8L1184,563.3L1186,563.7L1188,564.1L1190,564.6L1192,565L1194,565.6L1196,566.2L1198,567L1200,567.9L1202,569.4L1204,571L1206,572.6L1208,574.2L1210,575.8L1212,577.3L1214,578.7L1216,579.8L1218,580.6L1220,581L1222,580.9L1224,580.6L1226,580.3L1228,580L1230,580L1232,580L1234,580L1236,580L1238,580L1240,580.1L1242,580.1L1244,580.1L1246,580.1L1248,580.2L1250,580.2L1252,580.2L1254,580.3L1256,580.3L1258,580.4L1260,580.5L1262,580.6L1264,580.8L1266,581.1L1268,581.4L1270,581.8L1272,582.1L1274,582.4L1276,582.7L1278,582.9L1280,583.2L1282,583.4L1284,583.6L1286,583.8L1288,584.1L1290,584.3L1292,584.5L1294,584.7L1296,584.9L1298,585.1L1300,585.3L1302,585.4L1304,585.5L1306,585.5L1308,585.6L1310,585.5L1312,585.3L1314,585.1L1316,584.7L1318,584.3L1320,583.8L1322,583.2L1324,582.6L1326,582L1328,582L1328,604Z" fill="#8c0000"/>
</g>
<rect x="445.6" y="561.2" width="78.4" height="37.8" fill="#000"/>
<rect x="490.1" y="523.4" width="18.5" height="75.6" fill="#000"/>
<rect x="673" y="561.2" width="6.2" height="37.8" fill="#000"/>
<rect x="1127.8" y="561.2" width="72.6" height="37.8" fill="#000"/>
<g clip-path="url(#c2)">
<rect x="420.0" y="894.1" width="906.7" height="353.0" fill="#00008c"/>
<path d="M418,1252.1L418,955.1L420,955.1L422,955.1L424,953.5L426,951.9L428,950.4L430,948.9L432,947.5L434,946.2L436,945L438,943.9L440,942.8L442,941.9L444,941.1L446,940.3L448,939.5L450,938.7L452,938L454,937.4L456,936.8L458,936.4L460,936.1L462,936L464,936.2L466,936.4L468,936.8L470,937.4L472,938L474,938.8L476,939.5L478,940.4L480,941.2L482,942.3L484,943.8L486,945.5L488,947.3L490,949.3L492,951.2L494,953.2L496,955L498,956.7L500,958.4L502,960.1L504,961.8L506,963.5L508,965.1L510,966.7L512,968.2L514,969.6L516,970.9L518,972.3L520,973.7L522,975.1L524,976.4L526,977.6L528,978.5L530,979.2L532,979.5L534,979.4L536,979.2L538,978.8L540,978.3L542,977.7L544,977L546,976.2L548,975.4L550,974.6L552,973.7L554,972.6L556,971.3L558,969.9L560,968.4L562,966.7L564,965.1L566,963.4L568,961.8L570,960.2L572,958.8L574,957.5L576,956.3L578,955.4L580,954.5L582,953.6L584,952.8L586,952.1L588,951.4L590,950.7L592,950L594,949.3L596,948.7L598,948L600,947.4L602,946.7L604,946L606,945.3L608,944.5L610,943.7L612,943L614,942.2L616,941.4L618,940.7L620,940L622,939.4L624,938.8L626,938.2L628,937.8L630,937.4L632,937.1L634,936.8L636,936.5L638,936.2L640,936L642,935.8L644,935.6L646,935.4L648,935.2L650,935L652,934.8L654,934.5L656,934.3L658,934L660,933.7L662,933.3L664,933L666,932.7L668,932.4L670,932.2L672,932.2L674,932.3L676,932.7L678,933.2L680,933.9L682,934.6L684,935.4L686,936.1L688,936.8L690,937.2L692,937.5L694,937.7L696,937.9L698,938L700,938.1L702,938.1L704,938L706,937.9L708,937.8L710,937.6L712,937.5L714,937.3L716,936.9L718,936.4L720,935.8L722,935.1L724,934.4L726,933.6L728,932.8L730,932.1L732,931.4L734,930.8L736,930.2L738,929.7L740,929.2L742,928.6L744,928.1L746,927.5L748,927L750,926.5L752,926L754,925.5L756,925.1L758,924.8L760,924.5L762,924.3L764,924.2L766,924.2L768,924.2L770,924.3L772,924.3L774,924.4L776,924.5L778,924.7L780,924.8L782,925L784,925.1L786,925.3L788,925.5L790,925.7L792,925.9L794,926.2L796,926.4L798,926.6L800,926.9L802,927.2L804,927.6L806,928L808,928.5L810,929L812,929.5L814,930.1L816,930.7L818,931.3L820,931.9L822,932.5L824,933.2L826,933.9L828,934.7L830,935.7L832,936.7L834,937.8L836,938.9L838,940L840,941L842,942.1L844,943.1L846,943.9L848,944.7L850,945.4L852,945.9L854,946.4L856,946.8L858,947.2L860,947.6L862,947.9L864,948.3L866,948.6L868,948.9L870,949.3L872,949.7L874,950.1L876,950.5L878,951.1L880,951.6L882,952.2L884,952.8L886,953.5L888,954.2L890,954.9L892,955.6L894,956.4L896,957.2L898,957.9L900,958.7L902,959.5L904,960.2L906,961L908,961.7L910,962.4L912,963.1L914,963.8L916,964.4L918,965.1L920,965.7L922,966.4L924,967L926,967.6L928,968.3L930,968.9L932,969.5L934,970.2L936,970.8L938,971.5L940,972.1L942,972.8L944,973.4L946,974.1L948,974.8L950,975.5L952,976.2L954,976.9L956,977.7L958,978.4L960,979.1L962,979.9L964,980.6L966,981.4L968,982.1L970,982.9L972,983.6L974,984.3L976,985.1L978,986L980,986.9L982,987.8L984,988.7L986,989.6L988,990.4L990,991.3L992,992L994,992.7L996,993.3L998,993.8L1000,994.2L1002,994.5L1004,994.8L1006,995.1L1008,995.3L1010,995.6L1012,995.8L1014,996L1016,996.2L1018,996.4L1020,996.6L1022,996.7L1024,996.8L1026,996.9L1028,996.9L1030,997L1032,996.9L1034,996.9L1036,996.9L1038,996.8L1040,996.7L1042,996.7L1044,996.6L1046,996.4L1048,996.3L1050,996.2L1052,996L1054,995.9L1056,995.7L1058,995.5L1060,995.3L1062,995.1L1064,994.7L1066,994.1L1068,993.5L1070,992.8L1072,992L1074,991.2L1076,990.2L1078,989.3L1080,988.3L1082,987.3L1084,986.2L1086,985.2L1088,984.2L1090,983.2L1092,982.1L1094,981L1096,979.8L1098,978.6L1100,977.3L1102,975.9L1104,974.6L1106,973.2L1108,971.8L1110,970.5L1112,969.1L1114,967.5L1116,965.7L1118,963.9L1120,962L1122,960.2L1124,958.5L1126,957L1128,955.8L1130,954.9L1132,954.5L1134,954.1L1136,953.7L1138,953.4L1140,953.1L1142,952.8L1144,952.6L1146,952.3L1148,952.1L1150,952L1152,951.8L1154,951.7L1156,951.7L1158,951.6L1160,951.6L1162,951.8L1164,952.2L1166,952.6L1168,953.1L1170,953.7L1172,954.2L1174,954.7L1176,955L1178,955.2L1180,955.2L1182,955L1184,954.6L1186,954.1L1188,953.4L1190,952.8L1192,952.1L1194,951.4L1196,950.8L1198,950.2L1200,949.8L1202,949.3L1204,948.9L1206,948.4L1208,948L1210,947.6L1212,947.4L1214,947.3L1216,947.3L1218,947.5L1220,947.9L1222,948.4L1224,949L1226,949.7L1228,950.5L1230,951.3L1232,952.1L1234,952.9L1236,953.7L1238,954.4L1240,955.1L1242,955.8L1244,956.6L1246,957.5L1248,958.4L1250,959.3L1252,960.1L1254,961L1256,961.8L1258,962.6L1260,963.3L1262,963.9L1264,964.4L1266,964.8L1268,965.1L1270,965.3L1272,965.4L1274,965.6L1276,965.7L1278,965.8L1280,966L1282,966.1L1284,966.2L1286,966.3L1288,966.3L1290,966.4L1292,966.5L1294,966.5L1296,966.5L1298,966.5L1300,966.5L1302,966.4L1304,966.2L1306,965.9L1308,965.6L1310,965.2L1312,964.8L1314,964.3L1316,963.7L1318,963.2L1320,962.6L1322,961.9L1324,961.3L1326,960.6L1328,960.6L1328,1252.1Z" fill="#001cb8"/>
<path d="M418,1252.1L418,994.9L420,994.9L422,994.9L424,992.8L426,990.7L428,988.8L430,986.9L432,985.1L434,983.5L436,982.1L438,980.8L440,979.7L442,978.8L444,978.1L446,977.6L448,977.1L450,976.6L452,976.2L454,975.8L456,975.5L458,975.3L460,975.1L462,975.1L464,975.1L466,975.3L468,975.6L470,975.9L472,976.4L474,976.9L476,977.5L478,978.1L480,978.8L482,979.6L484,980.4L486,981.4L488,983.1L490,985.3L492,987.8L494,990.4L496,992.8L498,994.8L500,996.8L502,998.8L504,1000.8L506,1002.7L508,1004.5L510,1006.3L512,1007.9L514,1009.3L516,1010.7L518,1012L520,1013.4L522,1014.7L524,1016L526,1017.1L528,1018.1L530,1018.9L532,1019.4L534,1019.6L536,1019.5L538,1019.2L540,1018.8L542,1018.2L544,1017.5L546,1016.7L548,1016L550,1015.2L552,1014.5L554,1013.6L556,1012.6L558,1011.6L560,1010.4L562,1009.3L564,1008.1L566,1006.9L568,1005.7L570,1004.5L572,1003.4L574,1002.3L576,1001.4L578,1000.4L580,999.5L582,998.7L584,997.8L586,997L588,996.2L590,995.4L592,994.6L594,993.8L596,993.1L598,992.3L600,991.6L602,990.9L604,990.1L606,989.4L608,988.7L610,988L612,987.3L614,986.6L616,985.9L618,985.2L620,984.5L622,983.9L624,983.3L626,982.7L628,982.1L630,981.5L632,981L634,980.5L636,980L638,979.5L640,979.1L642,978.6L644,978.2L646,977.7L648,977.3L650,976.8L652,976.4L654,975.9L656,975.5L658,974.9L660,974.4L662,973.7L664,973.1L666,972.4L668,971.8L670,971.3L672,971L674,970.7L676,970.7L678,970.9L680,971.4L682,972L684,972.7L686,973.4L688,974L690,974.4L692,974.6L694,974.6L696,974.7L698,974.7L700,974.7L702,974.8L704,974.8L706,974.8L708,974.8L710,974.9L712,974.9L714,974.9L716,974.9L718,974.9L720,974.9L722,974.7L724,974.5L726,974.3L728,973.9L730,973.6L732,973.2L734,972.8L736,972.4L738,971.9L740,971.5L742,971.1L744,970.7L746,970.3L748,969.8L750,969.2L752,968.6L754,968L756,967.3L758,966.7L760,966.2L762,965.7L764,965.3L766,965L768,964.9L770,964.8L772,964.9L774,965L776,965.1L778,965.2L780,965.3L782,965.5L784,965.7L786,965.9L788,966.1L790,966.3L792,966.5L794,966.8L796,967L798,967.2L800,967.5L802,967.8L804,968L806,968.4L808,968.7L810,969L812,969.4L814,969.8L816,970.2L818,970.6L820,971.1L822,971.5L824,972L826,972.5L828,973.1L830,973.7L832,974.3L834,975L836,975.7L838,976.4L840,977.1L842,977.8L844,978.6L846,979.3L848,980L850,980.7L852,981.4L854,982L856,982.7L858,983.3L860,984L862,984.6L864,985.3L866,986L868,986.6L870,987.3L872,988L874,988.6L876,989.3L878,990.1L880,990.8L882,991.5L884,992.2L886,993L888,993.7L890,994.5L892,995.3L894,996L896,996.8L898,997.6L900,998.3L902,999.1L904,999.9L906,1000.6L908,1001.4L910,1002.1L912,1002.8L914,1003.6L916,1004.3L918,1005L920,1005.7L922,1006.4L924,1007.1L926,1007.8L928,1008.5L930,1009.2L932,1009.9L934,1010.6L936,1011.3L938,1012L940,1012.7L942,1013.4L944,1014.1L946,1014.7L948,1015.4L950,1016.1L952,1016.8L954,1017.5L956,1018.2L958,1018.9L960,1019.6L962,1020.3L964,1021L966,1021.6L968,1022.3L970,1022.9L972,1023.5L974,1024.1L976,1024.6L978,1025.2L980,1025.8L982,1026.3L984,1026.9L986,1027.4L988,1027.9L990,1028.4L992,1028.8L994,1029.3L996,1029.6L998,1030L1000,1030.2L1002,1030.5L1004,1030.7L1006,1031L1008,1031.2L1010,1031.5L1012,1031.7L1014,1031.9L1016,1032.1L1018,1032.2L1020,1032.4L1022,1032.5L1024,1032.6L1026,1032.7L1028,1032.7L1030,1032.7L1032,1032.7L1034,1032.6L1036,1032.4L1038,1032.1L1040,1031.8L1042,1031.4L1044,1031L1046,1030.6L1048,1030.1L1050,1029.6L1052,1029.1L1054,1028.6L1056,1028.1L1058,1027.6L1060,1027.1L1062,1026.6L1064,1026.1L1066,1025.5L1068,1024.9L1070,1024.3L1072,1023.6L1074,1023L1076,1022.3L1078,1021.6L1080,1020.8L1082,1020.1L1084,1019.3L1086,1018.6L1088,1017.8L1090,1017L1092,1016.2L1094,1015.4L1096,1014.5L1098,1013.7L1100,1012.7L1102,1011.8L1104,1010.9L1106,1009.9L1108,1008.9L1110,1008L1112,1007L1114,1005.8L1116,1004.5L1118,1003.1L1120,1001.7L1122,1000.3L1124,998.9L1126,997.6L1128,996.4L1130,995.5L1132,994.8L1134,994.4L1136,994.4L1138,994.4L1140,994.4L1142,994.5L1144,994.6L1146,994.7L1148,994.7L1150,994.9L1152,995L1154,995.1L1156,995.2L1158,995.3L1160,995.4L1162,995.6L1164,995.8L1166,996L1168,996.2L1170,996.4L1172,996.6L1174,996.8L1176,996.9L1178,997L1180,996.9L1182,996.6L1184,996.1L1186,995.4L1188,994.5L1190,993.5L1192,992.5L1194,991.4L1196,990.3L1198,989.4L1200,988.5L1202,987.8L1204,987.3L1206,987L1208,987.1L1210,987.4L1212,987.9L1214,988.6L1216,989.4L1218,990.4L1220,991.4L1222,992.4L1224,993.4L1226,994.3L1228,995.1L1230,995.9L1232,996.6L1234,997.4L1236,998.2L1238,999L1240,999.8L1242,1000.6L1244,1001.4L1246,1002.2L1248,1002.9L1250,1003.5L1252,1004.1L1254,1004.5L1256,1005L1258,1005.3L1260,1005.5L1262,1005.7L1264,1005.9L1266,1006.1L1268,1006.3L1270,1006.5L1272,1006.6L1274,1006.8L1276,1006.9L1278,1007L1280,1007.1L1282,1007.2L1284,1007.2L1286,1007.3L1288,1007.3L1290,1007.3L1292,1007.2L1294,1007.1L1296,1006.9L1298,1006.7L1300,1006.4L1302,1006.1L1304,1005.8L1306,1005.4L1308,1005L1310,1004.5L1312,1004L1314,1003.5L1316,1003L1318,1002.4L1320,1001.8L1322,1001.1L1324,1000.5L1326,999.8L1328,999.7L1328,1252.1Z" fill="#002ce0"/>
<path d="M418,1252.1L418,1021.4L420,1021.4L422,1021.4L424,1019.8L426,1018.3L428,1016.8L430,1015.4L432,1014.1L434,1012.9L436,1011.8L438,1010.9L440,1010.1L442,1009.5L444,1009L446,1008.7L448,1008.4L450,1008.1L452,1007.9L454,1007.6L456,1007.5L458,1007.3L460,1007.3L462,1007.2L464,1007.3L466,1007.4L468,1007.5L470,1007.7L472,1008L474,1008.3L476,1008.7L478,1009.1L480,1009.5L482,1010L484,1010.5L486,1011L488,1011.6L490,1012.2L492,1013.2L494,1014.3L496,1015.7L498,1017.2L500,1018.8L502,1020.5L504,1022.3L506,1024L508,1026L510,1028.3L512,1030.8L514,1033.4L516,1035.8L518,1038L520,1039.8L522,1041.4L524,1042.9L526,1044.4L528,1045.8L530,1047L532,1047.9L534,1048.5L536,1048.7L538,1048.7L540,1048.4L542,1048.1L544,1047.7L546,1047.2L548,1046.7L550,1046.1L552,1045.5L554,1044.7L556,1043.7L558,1042.6L560,1041.4L562,1040.1L564,1038.8L566,1037.4L568,1036.1L570,1034.8L572,1033.5L574,1032.4L576,1031.4L578,1030.5L580,1029.6L582,1028.8L584,1028L586,1027.2L588,1026.5L590,1025.7L592,1025L594,1024.3L596,1023.7L598,1023L600,1022.4L602,1021.7L604,1021.1L606,1020.5L608,1019.9L610,1019.3L612,1018.8L614,1018.2L616,1017.7L618,1017.1L620,1016.6L622,1016.1L624,1015.6L626,1015.1L628,1014.7L630,1014.2L632,1013.8L634,1013.4L636,1013L638,1012.6L640,1012.2L642,1011.9L644,1011.5L646,1011.2L648,1010.8L650,1010.4L652,1010L654,1009.5L656,1009L658,1008.5L660,1007.7L662,1006.9L664,1006L666,1005.1L668,1004.3L670,1003.5L672,1002.8L674,1002.3L676,1002L678,1002L680,1002.3L682,1002.8L684,1003.6L686,1004.3L688,1004.9L690,1005.4L692,1005.5L694,1005.5L696,1005.5L698,1005.5L700,1005.5L702,1005.5L704,1005.7L706,1005.9L708,1006.2L710,1006.5L712,1006.8L714,1007L716,1007.2L718,1007.2L720,1007.2L722,1007.1L724,1006.9L726,1006.7L728,1006.5L730,1006.2L732,1005.9L734,1005.6L736,1005.2L738,1004.9L740,1004.5L742,1004.1L744,1003.7L746,1003.3L748,1002.7L750,1002L752,1001.2L754,1000.4L756,999.5L758,998.7L760,998L762,997.3L764,996.7L766,996.3L768,996.1L770,996.1L772,996.2L774,996.2L776,996.4L778,996.5L780,996.7L782,996.9L784,997.1L786,997.4L788,997.6L790,997.9L792,998.2L794,998.5L796,998.8L798,999.1L800,999.4L802,999.8L804,1000.2L806,1000.7L808,1001.2L810,1001.7L812,1002.3L814,1002.8L816,1003.4L818,1003.9L820,1004.5L822,1005L824,1005.6L826,1006.1L828,1006.6L830,1007.1L832,1007.6L834,1008.1L836,1008.6L838,1009.2L840,1009.7L842,1010.2L844,1010.8L846,1011.3L848,1011.9L850,1012.5L852,1013.1L854,1013.7L856,1014.3L858,1015L860,1015.6L862,1016.3L864,1016.9L866,1017.6L868,1018.3L870,1019L872,1019.7L874,1020.4L876,1021.1L878,1021.9L880,1022.6L882,1023.4L884,1024.2L886,1025L888,1025.8L890,1026.6L892,1027.5L894,1028.3L896,1029.2L898,1030L900,1030.8L902,1031.6L904,1032.5L906,1033.2L908,1034L910,1034.8L912,1035.5L914,1036.2L916,1036.9L918,1037.6L920,1038.3L922,1039L924,1039.7L926,1040.3L928,1041L930,1041.7L932,1042.3L934,1042.9L936,1043.6L938,1044.2L940,1044.8L942,1045.4L944,1046L946,1046.6L948,1047.2L950,1047.8L952,1048.4L954,1049L956,1049.6L958,1050.2L960,1050.8L962,1051.4L964,1051.9L966,1052.4L968,1052.9L970,1053.4L972,1053.7L974,1054.1L976,1054.4L978,1054.7L980,1055L982,1055.3L984,1055.5L986,1055.8L988,1056L990,1056.3L992,1056.4L994,1056.6L996,1056.7L998,1056.8L1000,1056.9L1002,1056.9L1004,1056.9L1006,1056.9L1008,1056.9L1010,1056.9L1012,1056.9L1014,1057L1016,1057L1018,1057L1020,1057L1022,1057L1024,1057L1026,1057L1028,1057L1030,1057L1032,1057L1034,1056.8L1036,1056.6L1038,1056.3L1040,1056L1042,1055.6L1044,1055.1L1046,1054.6L1048,1054.1L1050,1053.6L1052,1053.1L1054,1052.5L1056,1052L1058,1051.5L1060,1051L1062,1050.4L1064,1049.9L1066,1049.3L1068,1048.7L1070,1048.1L1072,1047.4L1074,1046.8L1076,1046.1L1078,1045.4L1080,1044.7L1082,1043.9L1084,1043.2L1086,1042.4L1088,1041.7L1090,1040.9L1092,1040.1L1094,1039.2L1096,1038.4L1098,1037.4L1100,1036.5L1102,1035.6L1104,1034.6L1106,1033.7L1108,1032.7L1110,1031.8L1112,1030.9L1114,1029.8L1116,1028.7L1118,1027.5L1120,1026.3L1122,1025.1L1124,1023.9L1126,1022.9L1128,1021.9L1130,1021.2L1132,1020.6L1134,1020.3L1136,1020.2L1138,1020.3L1140,1020.5L1142,1020.7L1144,1020.9L1146,1021.2L1148,1021.5L1150,1021.9L1152,1022.2L1154,1022.5L1156,1022.8L1158,1023.1L1160,1023.3L1162,1023.6L1164,1023.8L1166,1024.1L1168,1024.3L1170,1024.5L1172,1024.7L1174,1024.8L1176,1024.8L1178,1024.6L1180,1024.2L1182,1023.8L1184,1023.2L1186,1022.5L1188,1021.8L1190,1021.1L1192,1020.4L1194,1019.8L1196,1019.2L1198,1018.8L1200,1018.4L1202,1018.3L1204,1018.3L1206,1018.5L1208,1018.8L1210,1019.3L1212,1019.9L1214,1020.6L1216,1021.3L1218,1022.1L1220,1022.9L1222,1023.8L1224,1024.6L1226,1025.3L1228,1026L1230,1026.6L1232,1027.3L1234,1028L1236,1028.7L1238,1029.5L1240,1030.2L1242,1031L1244,1031.7L1246,1032.4L1248,1033.1L1250,1033.6L1252,1034.1L1254,1034.6L1256,1034.9L1258,1035.1L1260,1035.2L1262,1035.3L1264,1035.4L1266,1035.5L1268,1035.6L1270,1035.7L1272,1035.8L1274,1035.9L1276,1035.9L1278,1036L1280,1036L1282,1036.1L1284,1036.1L1286,1036.1L1288,1036.1L1290,1036.1L1292,1036L1294,1035.8L1296,1035.6L1298,1035.2L1300,1034.9L1302,1034.4L1304,1033.9L1306,1033.4L1308,1032.8L1310,1032.1L1312,1031.4L1314,1030.7L1316,1029.9L1318,1029.1L1320,1028.3L1322,1027.4L1324,1026.5L1326,1025.6L1328,1025.6L1328,1252.1Z" fill="#1c4fff"/>
<path d="M418,1252.1L418,1045.2L420,1045.2L422,1045.2L424,1043.8L426,1042.3L428,1041L430,1039.7L432,1038.5L434,1037.4L436,1036.5L438,1035.7L440,1035.1L442,1034.8L444,1034.6L446,1034.6L448,1034.6L450,1034.6L452,1034.6L454,1034.6L456,1034.6L458,1034.6L460,1034.6L462,1034.6L464,1034.6L466,1034.7L468,1034.8L470,1034.9L472,1035.1L474,1035.3L476,1035.5L478,1035.7L480,1036L482,1036.2L484,1036.6L486,1036.9L488,1037.2L490,1037.6L492,1038.2L494,1039L496,1039.9L498,1041L500,1042.1L502,1043.4L504,1044.7L506,1046.2L508,1047.6L510,1049.1L512,1051.1L514,1053.5L516,1056.2L518,1058.9L520,1061.4L522,1063.4L524,1064.8L526,1066L528,1067L530,1068L532,1068.8L534,1069.4L536,1069.8L538,1069.9L540,1069.8L542,1069.5L544,1069L546,1068.5L548,1067.9L550,1067.3L552,1066.7L554,1066L556,1065.1L558,1064.2L560,1063.2L562,1062.1L564,1061.1L566,1060L568,1058.9L570,1057.9L572,1056.9L574,1056L576,1055.2L578,1054.4L580,1053.7L582,1053L584,1052.4L586,1051.7L588,1051.1L590,1050.5L592,1049.9L594,1049.4L596,1048.8L598,1048.3L600,1047.8L602,1047.3L604,1046.8L606,1046.3L608,1045.9L610,1045.4L612,1045L614,1044.6L616,1044.2L618,1043.8L620,1043.4L622,1043.1L624,1042.7L626,1042.3L628,1042L630,1041.6L632,1041.3L634,1041L636,1040.7L638,1040.4L640,1040.1L642,1039.8L644,1039.5L646,1039.2L648,1038.9L650,1038.6L652,1038.2L654,1037.8L656,1037.3L658,1036.7L660,1035.8L662,1034.7L664,1033.5L666,1032.2L668,1031L670,1029.8L672,1028.8L674,1028.1L676,1027.6L678,1027.6L680,1027.8L682,1028.3L684,1029L686,1029.7L688,1030.3L690,1030.8L692,1031.1L694,1031.3L696,1031.4L698,1031.6L700,1031.7L702,1031.9L704,1032.2L706,1032.5L708,1032.8L710,1033.1L712,1033.3L714,1033.6L716,1033.7L718,1033.7L720,1033.7L722,1033.7L724,1033.6L726,1033.5L728,1033.4L730,1033.3L732,1033.1L734,1032.9L736,1032.7L738,1032.5L740,1032.3L742,1032.1L744,1031.8L746,1031.6L748,1031.3L750,1031L752,1030.5L754,1029.7L756,1028.8L758,1027.8L760,1026.8L762,1025.8L764,1025L766,1024.4L768,1024.1L770,1024L772,1024.1L774,1024.1L776,1024.3L778,1024.4L780,1024.6L782,1024.8L784,1025L786,1025.2L788,1025.5L790,1025.7L792,1026L794,1026.3L796,1026.5L798,1026.8L800,1027.1L802,1027.4L804,1027.7L806,1028.1L808,1028.5L810,1028.9L812,1029.3L814,1029.7L816,1030.2L818,1030.6L820,1031.1L822,1031.6L824,1032L826,1032.6L828,1033.1L830,1033.6L832,1034.2L834,1034.8L836,1035.5L838,1036.1L840,1036.7L842,1037.4L844,1038L846,1038.6L848,1039.3L850,1039.9L852,1040.5L854,1041.1L856,1041.6L858,1042.2L860,1042.8L862,1043.4L864,1044L866,1044.5L868,1045.1L870,1045.8L872,1046.4L874,1047L876,1047.7L878,1048.3L880,1049L882,1049.7L884,1050.5L886,1051.2L888,1052L890,1052.8L892,1053.6L894,1054.4L896,1055.1L898,1055.9L900,1056.7L902,1057.5L904,1058.3L906,1059L908,1059.7L910,1060.4L912,1061.1L914,1061.8L916,1062.4L918,1063.1L920,1063.8L922,1064.4L924,1065.1L926,1065.7L928,1066.3L930,1066.9L932,1067.6L934,1068.1L936,1068.7L938,1069.3L940,1069.8L942,1070.4L944,1070.9L946,1071.4L948,1071.9L950,1072.4L952,1072.8L954,1073.3L956,1073.8L958,1074.2L960,1074.7L962,1075.1L964,1075.5L966,1075.9L968,1076.2L970,1076.5L972,1076.8L974,1077L976,1077.2L978,1077.4L980,1077.6L982,1077.8L984,1078L986,1078.2L988,1078.3L990,1078.5L992,1078.6L994,1078.7L996,1078.8L998,1078.8L1000,1078.8L1002,1078.8L1004,1078.8L1006,1078.8L1008,1078.7L1010,1078.7L1012,1078.7L1014,1078.6L1016,1078.5L1018,1078.5L1020,1078.4L1022,1078.3L1024,1078.2L1026,1078.1L1028,1078L1030,1077.9L1032,1077.7L1034,1077.4L1036,1077L1038,1076.4L1040,1075.9L1042,1075.2L1044,1074.5L1046,1073.8L1048,1073L1050,1072.3L1052,1071.5L1054,1070.8L1056,1070.1L1058,1069.4L1060,1068.8L1062,1068.3L1064,1067.8L1066,1067.2L1068,1066.7L1070,1066.2L1072,1065.7L1074,1065.2L1076,1064.7L1078,1064.2L1080,1063.7L1082,1063.2L1084,1062.6L1086,1062L1088,1061.4L1090,1060.8L1092,1060.1L1094,1059.4L1096,1058.7L1098,1057.9L1100,1057.1L1102,1056.2L1104,1055.4L1106,1054.6L1108,1053.9L1110,1053.1L1112,1052.4L1114,1051.6L1116,1050.8L1118,1050L1120,1049.2L1122,1048.3L1124,1047.5L1126,1046.8L1128,1046.2L1130,1045.7L1132,1045.3L1134,1045.1L1136,1045.1L1138,1045.2L1140,1045.3L1142,1045.5L1144,1045.7L1146,1046L1148,1046.3L1150,1046.5L1152,1046.8L1154,1047L1156,1047.2L1158,1047.4L1160,1047.5L1162,1047.6L1164,1047.7L1166,1047.8L1168,1047.8L1170,1047.9L1172,1048L1174,1048L1176,1048L1178,1048.1L1180,1048L1182,1047.9L1184,1047.7L1186,1047.3L1188,1046.9L1190,1046.5L1192,1046.1L1194,1045.8L1196,1045.4L1198,1045.2L1200,1045.1L1202,1045.1L1204,1045.3L1206,1045.7L1208,1046.3L1210,1046.9L1212,1047.7L1214,1048.5L1216,1049.4L1218,1050.2L1220,1051.1L1222,1051.9L1224,1052.7L1226,1053.3L1228,1053.9L1230,1054.3L1232,1054.7L1234,1055.2L1236,1055.6L1238,1056L1240,1056.4L1242,1056.8L1244,1057.2L1246,1057.5L1248,1057.8L1250,1058.1L1252,1058.3L1254,1058.4L1256,1058.5L1258,1058.6L1260,1058.6L1262,1058.6L1264,1058.6L1266,1058.6L1268,1058.6L1270,1058.6L1272,1058.6L1274,1058.6L1276,1058.6L1278,1058.6L1280,1058.6L1282,1058.6L1284,1058.6L1286,1058.6L1288,1058.6L1290,1058.6L1292,1058.5L1294,1058.3L1296,1058.1L1298,1057.8L1300,1057.5L1302,1057.2L1304,1056.7L1306,1056.3L1308,1055.8L1310,1055.2L1312,1054.7L1314,1054.1L1316,1053.5L1318,1052.8L1320,1052.2L1322,1051.5L1324,1050.8L1326,1050.1L1328,1050L1328,1252.1Z" fill="#4477ff"/>
<path d="M418,1252.1L418,1067.3L420,1067.3L422,1067.3L424,1065.9L426,1064.4L428,1063L430,1061.7L432,1060.6L434,1059.5L436,1058.5L438,1057.8L440,1057.2L442,1056.8L444,1056.7L446,1056.7L448,1056.7L450,1056.7L452,1056.7L454,1056.7L456,1056.7L458,1056.7L460,1056.7L462,1056.7L464,1056.7L466,1056.7L468,1056.7L470,1056.7L472,1056.7L474,1056.7L476,1056.7L478,1056.7L480,1056.7L482,1056.7L484,1056.6L486,1056.2L488,1055.6L490,1055.1L492,1054.9L494,1055.1L496,1055.5L498,1056.2L500,1057L502,1058L504,1059.2L506,1060.5L508,1061.8L510,1063.3L512,1065.4L514,1068.4L516,1071.9L518,1075.5L520,1079L522,1082.1L524,1084.4L526,1086.5L528,1088.6L530,1090.6L532,1092.4L534,1094L536,1095.2L538,1095.9L540,1096.1L542,1095.8L544,1095.3L546,1094.6L548,1093.8L550,1093L552,1092.1L554,1091.1L556,1089.8L558,1088.5L560,1087.1L562,1085.6L564,1084.1L566,1082.6L568,1081.2L570,1079.8L572,1078.5L574,1077.4L576,1076.4L578,1075.6L580,1074.8L582,1074.1L584,1073.4L586,1072.8L588,1072.2L590,1071.6L592,1071L594,1070.5L596,1069.9L598,1069.4L600,1068.9L602,1068.5L604,1068L606,1067.5L608,1067L610,1066.6L612,1066.2L614,1065.7L616,1065.3L618,1064.9L620,1064.6L622,1064.2L624,1063.8L626,1063.5L628,1063.1L630,1062.8L632,1062.5L634,1062.3L636,1062L638,1061.8L640,1061.6L642,1061.3L644,1061.1L646,1060.9L648,1060.6L650,1060.4L652,1060.1L654,1059.7L656,1059.4L658,1058.9L660,1058.1L662,1057.2L664,1056.2L666,1055.2L668,1054.2L670,1053.3L672,1052.4L674,1051.8L676,1051.5L678,1051.4L680,1051.6L682,1051.9L684,1052.4L686,1052.9L688,1053.4L690,1053.8L692,1054.1L694,1054.3L696,1054.5L698,1054.7L700,1054.9L702,1055.2L704,1055.4L706,1055.7L708,1055.9L710,1056.2L712,1056.4L714,1056.6L716,1056.7L718,1056.7L720,1056.7L722,1056.7L724,1056.6L726,1056.6L728,1056.6L730,1056.5L732,1056.4L734,1056.4L736,1056.3L738,1056.2L740,1056.1L742,1056L744,1055.8L746,1055.7L748,1055.6L750,1055.4L752,1055L754,1054.4L756,1053.6L758,1052.7L760,1051.7L762,1050.8L764,1050L766,1049.5L768,1049.1L770,1049.1L772,1049.1L774,1049.2L776,1049.3L778,1049.4L780,1049.6L782,1049.8L784,1050L786,1050.2L788,1050.4L790,1050.6L792,1050.8L794,1051.1L796,1051.3L798,1051.5L800,1051.7L802,1052L804,1052.2L806,1052.5L808,1052.8L810,1053.1L812,1053.4L814,1053.7L816,1054.1L818,1054.4L820,1054.8L822,1055.1L824,1055.5L826,1055.9L828,1056.3L830,1056.8L832,1057.2L834,1057.7L836,1058.2L838,1058.7L840,1059.3L842,1059.8L844,1060.3L846,1060.9L848,1061.4L850,1062L852,1062.5L854,1063L856,1063.6L858,1064.2L860,1064.7L862,1065.3L864,1065.9L866,1066.5L868,1067.1L870,1067.8L872,1068.4L874,1069.1L876,1069.7L878,1070.4L880,1071.1L882,1071.9L884,1072.7L886,1073.5L888,1074.3L890,1075.1L892,1075.9L894,1076.8L896,1077.6L898,1078.5L900,1079.3L902,1080.2L904,1081L906,1081.8L908,1082.6L910,1083.4L912,1084.1L914,1084.8L916,1085.5L918,1086.3L920,1087L922,1087.8L924,1088.5L926,1089.3L928,1090L930,1090.7L932,1091.4L934,1092.1L936,1092.7L938,1093.3L940,1093.9L942,1094.4L944,1094.9L946,1095.3L948,1095.7L950,1096.1L952,1096.4L954,1096.8L956,1097.1L958,1097.5L960,1097.8L962,1098.1L964,1098.3L966,1098.6L968,1098.8L970,1098.9L972,1099L974,1099.1L976,1099.1L978,1099.2L980,1099.2L982,1099.3L984,1099.3L986,1099.3L988,1099.3L990,1099.4L992,1099.4L994,1099.4L996,1099.4L998,1099.4L1000,1099.4L1002,1099.4L1004,1099.4L1006,1099.4L1008,1099.4L1010,1099.4L1012,1099.4L1014,1099.4L1016,1099.3L1018,1099.3L1020,1099.3L1022,1099.3L1024,1099.3L1026,1099.2L1028,1099.2L1030,1099.2L1032,1099.1L1034,1098.9L1036,1098.6L1038,1098.3L1040,1098L1042,1097.6L1044,1097.1L1046,1096.7L1048,1096.2L1050,1095.7L1052,1095.1L1054,1094.5L1056,1093.7L1058,1092.8L1060,1091.9L1062,1090.8L1064,1089.8L1066,1088.7L1068,1087.6L1070,1086.6L1072,1085.5L1074,1084.4L1076,1083.5L1078,1082.5L1080,1081.7L1082,1080.8L1084,1080L1086,1079.3L1088,1078.5L1090,1077.7L1092,1077L1094,1076.2L1096,1075.5L1098,1074.8L1100,1074L1102,1073.3L1104,1072.6L1106,1071.9L1108,1071.2L1110,1070.4L1112,1069.7L1114,1068.9L1116,1068L1118,1067L1120,1066.1L1122,1065.1L1124,1064.2L1126,1063.3L1128,1062.5L1130,1061.8L1132,1061.3L1134,1060.9L1136,1060.6L1138,1060.6L1140,1060.8L1142,1061.2L1144,1061.7L1146,1062.3L1148,1062.9L1150,1063.5L1152,1064L1154,1064.4L1156,1064.6L1158,1064.8L1160,1065L1162,1065.1L1164,1065.2L1166,1065.3L1168,1065.4L1170,1065.5L1172,1065.6L1174,1065.7L1176,1065.8L1178,1065.9L1180,1066L1182,1066.2L1184,1066.3L1186,1066.5L1188,1066.6L1190,1066.8L1192,1067L1194,1067.2L1196,1067.4L1198,1067.6L1200,1067.8L1202,1068.1L1204,1068.5L1206,1068.9L1208,1069.3L1210,1069.8L1212,1070.4L1214,1070.9L1216,1071.5L1218,1072.1L1220,1072.7L1222,1073.2L1224,1073.8L1226,1074.3L1228,1074.8L1230,1075.2L1232,1075.6L1234,1076.1L1236,1076.5L1238,1076.9L1240,1077.4L1242,1077.8L1244,1078.2L1246,1078.6L1248,1079L1250,1079.3L1252,1079.6L1254,1079.9L1256,1080.2L1258,1080.4L1260,1080.6L1262,1080.8L1264,1081L1266,1081.2L1268,1081.4L1270,1081.5L1272,1081.7L1274,1081.8L1276,1081.8L1278,1081.9L1280,1081.8L1282,1081.8L1284,1081.7L1286,1081.5L1288,1081.3L1290,1081.1L1292,1080.8L1294,1080.5L1296,1080.2L1298,1079.8L1300,1079.5L1302,1079.1L1304,1078.7L1306,1078.3L1308,1077.9L1310,1077.5L1312,1077L1314,1076.4L1316,1075.8L1318,1075.1L1320,1074.3L1322,1073.6L1324,1072.8L1326,1072L1328,1071.9L1328,1252.1Z" fill="#84aaff"/>
<path d="M418,1252.1L418,1092.9L420,1092.9L422,1092.9L424,1091.4L426,1089.9L428,1088.5L430,1087.1L432,1085.9L434,1084.7L436,1083.6L438,1082.7L440,1081.8L442,1081.1L444,1080.6L446,1080.1L448,1079.8L450,1079.4L452,1079.1L454,1078.9L456,1078.6L458,1078.4L460,1078.1L462,1077.9L464,1077.6L466,1077.4L468,1077.2L470,1077L472,1076.8L474,1076.6L476,1076.4L478,1076.1L480,1075.8L482,1075.5L484,1074.9L486,1073.8L488,1072.4L490,1071.3L492,1070.8L494,1070.9L496,1071.2L498,1071.5L500,1072L502,1072.7L504,1073.5L506,1074.3L508,1075.3L510,1076.5L512,1079.3L514,1083.7L516,1088.6L518,1093.2L520,1096.3L522,1098.3L524,1100.1L526,1101.9L528,1103.5L530,1104.9L532,1106.2L534,1107.2L536,1107.9L538,1108.3L540,1108.4L542,1108.3L544,1107.9L546,1107.4L548,1106.8L550,1106.2L552,1105.6L554,1104.9L556,1104.1L558,1103.2L560,1102.3L562,1101.3L564,1100.3L566,1099.3L568,1098.3L570,1097.4L572,1096.5L574,1095.6L576,1094.9L578,1094.2L580,1093.6L582,1093L584,1092.3L586,1091.7L588,1091.2L590,1090.6L592,1090.1L594,1089.6L596,1089.1L598,1088.6L600,1088.2L602,1087.8L604,1087.5L606,1087.1L608,1086.8L610,1086.5L612,1086.2L614,1085.9L616,1085.7L618,1085.4L620,1085.2L622,1084.9L624,1084.7L626,1084.5L628,1084.3L630,1084L632,1083.8L634,1083.6L636,1083.5L638,1083.3L640,1083.2L642,1083L644,1082.8L646,1082.7L648,1082.5L650,1082.3L652,1082L654,1081.8L656,1081.4L658,1081L660,1080.1L662,1079.1L664,1077.9L666,1076.6L668,1075.3L670,1074.1L672,1073.1L674,1072.3L676,1071.8L678,1071.7L680,1071.9L682,1072.3L684,1072.8L686,1073.3L688,1073.8L690,1074.2L692,1074.4L694,1074.5L696,1074.6L698,1074.7L700,1074.8L702,1075L704,1075.2L706,1075.5L708,1075.8L710,1076.1L712,1076.4L714,1076.7L716,1076.9L718,1077L720,1077.1L722,1077.2L724,1077.3L726,1077.4L728,1077.5L730,1077.5L732,1077.6L734,1077.7L736,1077.7L738,1077.8L740,1077.8L742,1077.8L744,1077.9L746,1077.9L748,1077.9L750,1077.9L752,1077.5L754,1076.7L756,1075.7L758,1074.5L760,1073.2L762,1072L764,1070.9L766,1070.1L768,1069.6L770,1069.6L772,1069.6L774,1069.7L776,1069.8L778,1069.9L780,1070L782,1070.2L784,1070.4L786,1070.6L788,1070.8L790,1071L792,1071.2L794,1071.4L796,1071.6L798,1071.8L800,1072L802,1072.3L804,1072.6L806,1072.9L808,1073.2L810,1073.5L812,1073.9L814,1074.2L816,1074.6L818,1075L820,1075.4L822,1075.8L824,1076.2L826,1076.6L828,1077.1L830,1077.6L832,1078.1L834,1078.6L836,1079.2L838,1079.7L840,1080.3L842,1080.9L844,1081.4L846,1082L848,1082.6L850,1083.1L852,1083.7L854,1084.2L856,1084.8L858,1085.3L860,1085.8L862,1086.3L864,1086.9L866,1087.4L868,1088L870,1088.7L872,1089.3L874,1090.1L876,1090.9L878,1091.8L880,1093.1L882,1094.5L884,1095.8L886,1096.6L888,1097.3L890,1097.9L892,1098.5L894,1099L896,1099.5L898,1099.9L900,1100.3L902,1100.7L904,1101.1L906,1101.5L908,1101.9L910,1102.2L912,1102.6L914,1103L916,1103.4L918,1103.8L920,1104.2L922,1104.6L924,1105L926,1105.4L928,1105.7L930,1106.1L932,1106.5L934,1106.8L936,1107.1L938,1107.5L940,1107.8L942,1108.1L944,1108.4L946,1108.6L948,1108.9L950,1109.1L952,1109.4L954,1109.6L956,1109.9L958,1110.1L960,1110.3L962,1110.5L964,1110.7L966,1110.9L968,1111.1L970,1111.2L972,1111.3L974,1111.5L976,1111.6L978,1111.7L980,1111.8L982,1111.9L984,1112L986,1112.1L988,1112.2L990,1112.3L992,1112.4L994,1112.4L996,1112.5L998,1112.5L1000,1112.5L1002,1112.5L1004,1112.5L1006,1112.5L1008,1112.4L1010,1112.4L1012,1112.4L1014,1112.3L1016,1112.2L1018,1112.2L1020,1112.1L1022,1112L1024,1111.9L1026,1111.9L1028,1111.8L1030,1111.7L1032,1111.6L1034,1111.4L1036,1111.2L1038,1110.9L1040,1110.6L1042,1110.3L1044,1110L1046,1109.6L1048,1109.2L1050,1108.8L1052,1108.4L1054,1108L1056,1107.5L1058,1107.1L1060,1106.6L1062,1106.2L1064,1105.6L1066,1105.1L1068,1104.5L1070,1103.8L1072,1103.2L1074,1102.5L1076,1101.8L1078,1101.1L1080,1100.3L1082,1099.6L1084,1098.8L1086,1098.1L1088,1097.3L1090,1096.6L1092,1095.8L1094,1095L1096,1094.2L1098,1093.4L1100,1092.5L1102,1091.7L1104,1090.8L1106,1089.9L1108,1089.1L1110,1088.2L1112,1087.3L1114,1086.4L1116,1085.5L1118,1084.5L1120,1083.4L1122,1082.2L1124,1081L1126,1079.8L1128,1078.7L1130,1077.7L1132,1076.9L1134,1076.3L1136,1076L1138,1075.9L1140,1076.2L1142,1076.6L1144,1077.2L1146,1077.8L1148,1078.5L1150,1079.1L1152,1079.6L1154,1079.8L1156,1079.8L1158,1079.7L1160,1079.4L1162,1079.1L1164,1078.9L1166,1078.9L1168,1079L1170,1079.2L1172,1079.4L1174,1079.8L1176,1080.1L1178,1080.6L1180,1081L1182,1081.5L1184,1082.1L1186,1082.6L1188,1083.1L1190,1083.6L1192,1084.1L1194,1084.7L1196,1085.4L1198,1086.1L1200,1086.8L1202,1087.6L1204,1088.4L1206,1089.2L1208,1090L1210,1090.8L1212,1091.6L1214,1092.3L1216,1093L1218,1093.6L1220,1094.1L1222,1094.7L1224,1095.2L1226,1095.8L1228,1096.3L1230,1096.8L1232,1097.3L1234,1097.8L1236,1098.3L1238,1098.7L1240,1099.1L1242,1099.4L1244,1099.8L1246,1100.1L1248,1100.3L1250,1100.5L1252,1100.7L1254,1100.9L1256,1101.1L1258,1101.3L1260,1101.5L1262,1101.6L1264,1101.8L1266,1101.9L1268,1102L1270,1102.1L1272,1102.2L1274,1102.3L1276,1102.3L1278,1102.3L1280,1102.3L1282,1102.3L1284,1102.2L1286,1102.1L1288,1102L1290,1101.8L1292,1101.6L1294,1101.4L1296,1101.2L1298,1101L1300,1100.7L1302,1100.5L1304,1100.3L1306,1100L1308,1099.8L1310,1099.5L1312,1099.3L1314,1099L1316,1098.6L1318,1098.3L1320,1097.9L1322,1097.6L1324,1097.2L1326,1096.8L1328,1096.8L1328,1252.1Z" fill="#b3cdff"/>
<path d="M418,1252.1L418,1111.5L420,1111.5L422,1111.5L424,1110.3L426,1109.2L428,1108.1L430,1107L432,1106.1L434,1105.2L436,1104.3L438,1103.5L440,1102.9L442,1102.3L444,1101.8L446,1101.4L448,1101L450,1100.6L452,1100.3L454,1100L456,1099.8L458,1099.5L460,1099.3L462,1099.1L464,1098.9L466,1098.7L468,1098.6L470,1098.5L472,1098.4L474,1098.3L476,1098.1L478,1098L480,1097.7L482,1097.5L484,1097L486,1095.6L488,1093.5L490,1091.1L492,1089L494,1087.6L496,1087.3L498,1087.5L500,1088L502,1088.7L504,1089.6L506,1090.7L508,1091.9L510,1093.3L512,1096.2L514,1100.4L516,1105.1L518,1109.3L520,1112.2L522,1114L524,1115.8L526,1117.4L528,1118.9L530,1120.1L532,1121.2L534,1122L536,1122.4L538,1122.6L540,1122.4L542,1122L544,1121.5L546,1120.8L548,1120.1L550,1119.4L552,1118.8L554,1118L556,1117.2L558,1116.2L560,1115.3L562,1114.3L564,1113.3L566,1112.4L568,1111.5L570,1110.7L572,1110L574,1109.4L576,1108.9L578,1108.6L580,1108.3L582,1108.1L584,1107.8L586,1107.6L588,1107.4L590,1107.3L592,1107.1L594,1106.9L596,1106.8L598,1106.6L600,1106.4L602,1106.3L604,1106.1L606,1105.9L608,1105.7L610,1105.4L612,1105.2L614,1105L616,1104.8L618,1104.6L620,1104.4L622,1104.2L624,1104L626,1103.8L628,1103.6L630,1103.5L632,1103.3L634,1103.2L636,1103.1L638,1103L640,1102.9L642,1102.8L644,1102.7L646,1102.6L648,1102.4L650,1102.3L652,1102.1L654,1102L656,1101.8L658,1101.4L660,1100.9L662,1100.2L664,1099.5L666,1098.7L668,1097.8L670,1097.1L672,1096.4L674,1095.9L676,1095.6L678,1095.6L680,1095.7L682,1096L684,1096.4L686,1096.7L688,1097.1L690,1097.3L692,1097.3L694,1097.2L696,1097.1L698,1096.9L700,1096.9L702,1097L704,1097.1L706,1097.4L708,1097.7L710,1098.1L712,1098.4L714,1098.7L716,1099L718,1099.1L720,1099.2L722,1099.3L724,1099.4L726,1099.5L728,1099.5L730,1099.6L732,1099.7L734,1099.7L736,1099.8L738,1099.8L740,1099.9L742,1099.9L744,1099.9L746,1100L748,1100L750,1100L752,1099.7L754,1099.1L756,1098.4L758,1097.5L760,1096.5L762,1095.5L764,1094.6L766,1093.8L768,1093.2L770,1092.9L772,1092.9L774,1093L776,1093.1L778,1093.2L780,1093.4L782,1093.6L784,1093.9L786,1094.1L788,1094.4L790,1094.6L792,1094.9L794,1095.2L796,1095.4L798,1095.7L800,1095.9L802,1096.1L804,1096.4L806,1096.6L808,1096.9L810,1097.1L812,1097.4L814,1097.7L816,1097.9L818,1098.2L820,1098.5L822,1098.8L824,1099.1L826,1099.5L828,1099.8L830,1100.2L832,1100.6L834,1101L836,1101.5L838,1101.9L840,1102.3L842,1102.7L844,1103.2L846,1103.6L848,1104L850,1104.4L852,1104.7L854,1105.1L856,1105.5L858,1105.8L860,1106.2L862,1106.5L864,1106.9L866,1107.2L868,1107.6L870,1108L872,1108.3L874,1108.7L876,1109L878,1109.4L880,1109.8L882,1110.2L884,1110.6L886,1110.9L888,1111.3L890,1111.7L892,1112.1L894,1112.5L896,1112.9L898,1113.3L900,1113.7L902,1114.1L904,1114.5L906,1114.8L908,1115.2L910,1115.5L912,1115.9L914,1116.2L916,1116.5L918,1116.9L920,1117.2L922,1117.5L924,1117.9L926,1118.2L928,1118.5L930,1118.8L932,1119.1L934,1119.4L936,1119.7L938,1120L940,1120.2L942,1120.5L944,1120.8L946,1121L948,1121.3L950,1121.5L952,1121.7L954,1121.9L956,1122.2L958,1122.4L960,1122.6L962,1122.8L964,1123L966,1123.2L968,1123.4L970,1123.5L972,1123.7L974,1123.8L976,1124L978,1124.1L980,1124.3L982,1124.4L984,1124.6L986,1124.7L988,1124.8L990,1125L992,1125.1L994,1125.2L996,1125.2L998,1125.3L1000,1125.3L1002,1125.4L1004,1125.4L1006,1125.4L1008,1125.4L1010,1125.5L1012,1125.5L1014,1125.5L1016,1125.5L1018,1125.6L1020,1125.6L1022,1125.6L1024,1125.6L1026,1125.6L1028,1125.6L1030,1125.6L1032,1125.6L1034,1125.5L1036,1125.3L1038,1125.2L1040,1125L1042,1124.7L1044,1124.4L1046,1124.1L1048,1123.8L1050,1123.4L1052,1123.1L1054,1122.7L1056,1122.3L1058,1121.9L1060,1121.6L1062,1121.2L1064,1120.7L1066,1120.2L1068,1119.7L1070,1119.1L1072,1118.5L1074,1117.9L1076,1117.3L1078,1116.6L1080,1115.9L1082,1115.2L1084,1114.6L1086,1113.9L1088,1113.2L1090,1112.5L1092,1111.8L1094,1111.1L1096,1110.4L1098,1109.6L1100,1108.9L1102,1108.1L1104,1107.3L1106,1106.5L1108,1105.7L1110,1104.9L1112,1104.1L1114,1103.3L1116,1102.4L1118,1101.5L1120,1100.4L1122,1099.3L1124,1098.1L1126,1097L1128,1095.9L1130,1095L1132,1094.2L1134,1093.6L1136,1093.2L1138,1093.2L1140,1093.5L1142,1094.1L1144,1094.9L1146,1095.7L1148,1096.6L1150,1097.3L1152,1098L1154,1098.3L1156,1098.3L1158,1098L1160,1097.6L1162,1097.1L1164,1096.8L1166,1096.8L1168,1096.9L1170,1097.1L1172,1097.4L1174,1097.7L1176,1098.2L1178,1098.6L1180,1099.1L1182,1099.6L1184,1100.1L1186,1100.6L1188,1101.1L1190,1101.6L1192,1102L1194,1102.4L1196,1102.8L1198,1103.3L1200,1103.7L1202,1104.1L1204,1104.6L1206,1105L1208,1105.5L1210,1105.9L1212,1106.4L1214,1106.8L1216,1107.2L1218,1107.6L1220,1107.9L1222,1108.3L1224,1108.7L1226,1109.1L1228,1109.4L1230,1109.8L1232,1110.1L1234,1110.5L1236,1110.8L1238,1111.2L1240,1111.5L1242,1111.8L1244,1112.1L1246,1112.3L1248,1112.6L1250,1112.9L1252,1113.1L1254,1113.4L1256,1113.7L1258,1113.9L1260,1114.2L1262,1114.5L1264,1114.7L1266,1114.9L1268,1115.1L1270,1115.3L1272,1115.4L1274,1115.6L1276,1115.6L1278,1115.7L1280,1115.7L1282,1115.6L1284,1115.6L1286,1115.6L1288,1115.5L1290,1115.5L1292,1115.4L1294,1115.3L1296,1115.3L1298,1115.2L1300,1115.1L1302,1115L1304,1114.9L1306,1114.8L1308,1114.7L1310,1114.5L1312,1114.4L1314,1114.1L1316,1113.9L1318,1113.6L1320,1113.3L1322,1113L1324,1112.6L1326,1112.3L1328,1112.3L1328,1252.1Z" fill="#d6ebff"/>
<path d="M418,1252.1L418,1130L420,1130L422,1130L424,1128.8L426,1127.6L428,1126.4L430,1125.2L432,1124.2L434,1123.1L436,1122.1L438,1121.2L440,1120.3L442,1119.4L444,1118.6L446,1117.8L448,1117L450,1116.2L452,1115.7L454,1115.4L456,1115.2L458,1115L460,1114.8L462,1114.7L464,1114.6L466,1114.5L468,1114.4L470,1114.3L472,1114.2L474,1114.1L476,1114L478,1113.8L480,1113.6L482,1113.4L484,1112.9L486,1111.7L488,1110L490,1108.3L492,1107.1L494,1106.7L496,1106.9L498,1107.5L500,1108.2L502,1109.2L504,1110.4L506,1111.7L508,1113L510,1114.5L512,1116.6L514,1119.4L516,1122.3L518,1125.1L520,1127.3L522,1128.9L524,1130.5L526,1132.1L528,1133.5L530,1134.8L532,1135.9L534,1136.7L536,1137.3L538,1137.4L540,1137.3L542,1136.9L544,1136.3L546,1135.7L548,1135.1L550,1134.5L552,1133.8L554,1133.1L556,1132.4L558,1131.5L560,1130.6L562,1129.8L564,1128.9L566,1128L568,1127.2L570,1126.5L572,1125.8L574,1125.2L576,1124.8L578,1124.5L580,1124.2L582,1124L584,1123.7L586,1123.5L588,1123.4L590,1123.2L592,1123L594,1122.8L596,1122.7L598,1122.5L600,1122.3L602,1122.2L604,1122L606,1121.8L608,1121.6L610,1121.3L612,1121.1L614,1120.9L616,1120.7L618,1120.5L620,1120.3L622,1120.1L624,1119.9L626,1119.7L628,1119.5L630,1119.4L632,1119.2L634,1119.1L636,1119L638,1118.9L640,1118.8L642,1118.7L644,1118.6L646,1118.5L648,1118.3L650,1118.2L652,1118L654,1117.9L656,1117.7L658,1117.3L660,1116.8L662,1116L664,1115.2L666,1114.3L668,1113.4L670,1112.6L672,1111.9L674,1111.3L676,1111L678,1110.9L680,1111.2L682,1111.7L684,1112.4L686,1113L688,1113.6L690,1114L692,1114.1L694,1114L696,1113.8L698,1113.6L700,1113.5L702,1113.5L704,1113.5L706,1113.6L708,1113.7L710,1113.8L712,1113.9L714,1114L716,1114L718,1114.1L720,1114.2L722,1114.2L724,1114.3L726,1114.4L728,1114.5L730,1114.5L732,1114.6L734,1114.7L736,1114.7L738,1114.8L740,1114.9L742,1114.9L744,1114.9L746,1115L748,1115L750,1115L752,1114.7L754,1114.2L756,1113.5L758,1112.7L760,1111.7L762,1110.8L764,1110L766,1109.3L768,1108.7L770,1108.5L772,1108.5L774,1108.5L776,1108.6L778,1108.7L780,1108.8L782,1108.9L784,1109.1L786,1109.2L788,1109.4L790,1109.6L792,1109.8L794,1109.9L796,1110.1L798,1110.3L800,1110.5L802,1110.7L804,1110.9L806,1111.1L808,1111.3L810,1111.5L812,1111.8L814,1112L816,1112.2L818,1112.5L820,1112.7L822,1113L824,1113.3L826,1113.5L828,1113.8L830,1114.1L832,1114.4L834,1114.7L836,1115L838,1115.4L840,1115.7L842,1116L844,1116.3L846,1116.6L848,1117L850,1117.3L852,1117.6L854,1117.8L856,1118.1L858,1118.4L860,1118.7L862,1119L864,1119.3L866,1119.5L868,1119.8L870,1120.1L872,1120.4L874,1120.7L876,1121.1L878,1121.4L880,1121.8L882,1122.1L884,1122.5L886,1122.9L888,1123.3L890,1123.7L892,1124.1L894,1124.6L896,1125L898,1125.4L900,1125.8L902,1126.2L904,1126.7L906,1127.1L908,1127.5L910,1127.9L912,1128.2L914,1128.6L916,1129L918,1129.4L920,1129.8L922,1130.2L924,1130.5L926,1130.9L928,1131.3L930,1131.7L932,1132L934,1132.4L936,1132.7L938,1133.1L940,1133.4L942,1133.7L944,1134L946,1134.3L948,1134.5L950,1134.7L952,1135L954,1135.2L956,1135.4L958,1135.6L960,1135.8L962,1136L964,1136.2L966,1136.4L968,1136.6L970,1136.8L972,1136.9L974,1137.1L976,1137.2L978,1137.4L980,1137.5L982,1137.7L984,1137.8L986,1137.9L988,1138L990,1138.1L992,1138.3L994,1138.4L996,1138.5L998,1138.6L1000,1138.7L1002,1138.8L1004,1138.9L1006,1139.1L1008,1139.2L1010,1139.3L1012,1139.4L1014,1139.6L1016,1139.7L1018,1139.8L1020,1139.9L1022,1140L1024,1140L1026,1140.1L1028,1140.1L1030,1140.1L1032,1140.1L1034,1140.1L1036,1140L1038,1139.9L1040,1139.8L1042,1139.7L1044,1139.6L1046,1139.4L1048,1139.3L1050,1139.1L1052,1138.9L1054,1138.7L1056,1138.5L1058,1138.3L1060,1138.1L1062,1137.8L1064,1137.5L1066,1137.1L1068,1136.7L1070,1136.2L1072,1135.6L1074,1135.1L1076,1134.5L1078,1133.8L1080,1133.2L1082,1132.6L1084,1131.9L1086,1131.3L1088,1130.6L1090,1130L1092,1129.4L1094,1128.8L1096,1128.1L1098,1127.5L1100,1126.8L1102,1126.2L1104,1125.5L1106,1124.7L1108,1124L1110,1123.2L1112,1122.4L1114,1121.6L1116,1120.7L1118,1119.7L1120,1118.6L1122,1117.5L1124,1116.4L1126,1115.3L1128,1114.3L1130,1113.2L1132,1112L1134,1111L1136,1110.4L1138,1110.3L1140,1110.6L1142,1111.1L1144,1111.7L1146,1112.4L1148,1113.2L1150,1113.8L1152,1114.3L1154,1114.6L1156,1114.6L1158,1114.3L1160,1113.9L1162,1113.4L1164,1113.1L1166,1113.1L1168,1113.2L1170,1113.4L1172,1113.6L1174,1114L1176,1114.3L1178,1114.7L1180,1115.2L1182,1115.7L1184,1116.1L1186,1116.6L1188,1117.1L1190,1117.5L1192,1117.9L1194,1118.3L1196,1118.7L1198,1119.2L1200,1119.6L1202,1120.1L1204,1120.5L1206,1121L1208,1121.5L1210,1121.9L1212,1122.3L1214,1122.8L1216,1123.1L1218,1123.5L1220,1123.8L1222,1124.1L1224,1124.5L1226,1124.8L1228,1125L1230,1125.3L1232,1125.6L1234,1125.9L1236,1126.1L1238,1126.4L1240,1126.6L1242,1126.9L1244,1127.1L1246,1127.3L1248,1127.5L1250,1127.7L1252,1127.9L1254,1128.2L1256,1128.4L1258,1128.5L1260,1128.7L1262,1128.9L1264,1129.1L1266,1129.3L1268,1129.4L1270,1129.6L1272,1129.7L1274,1129.9L1276,1130L1278,1130.2L1280,1130.3L1282,1130.4L1284,1130.5L1286,1130.7L1288,1130.8L1290,1130.9L1292,1131L1294,1131.1L1296,1131.2L1298,1131.3L1300,1131.4L1302,1131.5L1304,1131.5L1306,1131.6L1308,1131.6L1310,1131.6L1312,1131.5L1314,1131.4L1316,1131.3L1318,1131.2L1320,1131.1L1322,1130.9L1324,1130.8L1326,1130.6L1328,1130.6L1328,1252.1Z" fill="#ffebd6"/>
<path d="M418,1252.1L418,1148.5L420,1148.5L422,1148.5L424,1146.9L426,1145.4L428,1143.8L430,1142.4L432,1141L434,1139.7L436,1138.5L438,1137.4L440,1136.4L442,1135.4L444,1134.5L446,1133.6L448,1132.7L450,1131.9L452,1131.5L454,1131.4L456,1131.4L458,1131.4L460,1131.4L462,1131.4L464,1131.4L466,1131.4L468,1131.4L470,1131.4L472,1131.4L474,1131.4L476,1131.4L478,1131.4L480,1131.4L482,1131.4L484,1131.2L486,1129.7L488,1127.8L490,1126.3L492,1126.2L494,1126.5L496,1127.1L498,1128L500,1129L502,1130.2L504,1131.5L506,1132.9L508,1134.3L510,1135.6L512,1137.4L514,1139.4L516,1141.5L518,1143.4L520,1144.9L522,1146.1L524,1147.3L526,1148.4L528,1149.4L530,1150.3L532,1151L534,1151.4L536,1151.6L538,1151.4L540,1151L542,1150.5L544,1149.8L546,1149.1L548,1148.4L550,1147.7L552,1147.1L554,1146.4L556,1145.7L558,1144.9L560,1144.1L562,1143.3L564,1142.5L566,1141.8L568,1141.1L570,1140.4L572,1139.8L574,1139.3L576,1138.9L578,1138.6L580,1138.4L582,1138.1L584,1137.9L586,1137.6L588,1137.4L590,1137.3L592,1137.1L594,1136.9L596,1136.7L598,1136.6L600,1136.4L602,1136.3L604,1136.1L606,1136L608,1135.8L610,1135.7L612,1135.5L614,1135.4L616,1135.3L618,1135.2L620,1135L622,1134.9L624,1134.8L626,1134.7L628,1134.5L630,1134.4L632,1134.3L634,1134.2L636,1134L638,1133.9L640,1133.8L642,1133.7L644,1133.6L646,1133.5L648,1133.4L650,1133.2L652,1133.1L654,1132.9L656,1132.7L658,1132.4L660,1131.9L662,1131.2L664,1130.5L666,1129.7L668,1129L670,1128.2L672,1127.6L674,1127.2L676,1126.9L678,1126.9L680,1127.3L682,1128.1L684,1129.1L686,1130.1L688,1131L690,1131.6L692,1131.8L694,1131.7L696,1131.7L698,1131.5L700,1131.4L702,1131.1L704,1130.5L706,1129.8L708,1129.2L710,1128.7L712,1128.6L714,1129.4L716,1130.5L718,1130.9L720,1130.9L722,1130.9L724,1130.8L726,1130.8L728,1130.7L730,1130.7L732,1130.6L734,1130.5L736,1130.5L738,1130.4L740,1130.3L742,1130.1L744,1130L746,1129.9L748,1129.8L750,1129.6L752,1129.3L754,1128.7L756,1128L758,1127.2L760,1126.3L762,1125.5L764,1124.7L766,1124L768,1123.5L770,1123.3L772,1123.3L774,1123.3L776,1123.4L778,1123.5L780,1123.6L782,1123.8L784,1123.9L786,1124.1L788,1124.3L790,1124.5L792,1124.6L794,1124.8L796,1125L798,1125.1L800,1125.3L802,1125.4L804,1125.6L806,1125.7L808,1125.9L810,1126.1L812,1126.2L814,1126.4L816,1126.6L818,1126.8L820,1127L822,1127.2L824,1127.4L826,1127.6L828,1127.9L830,1128.2L832,1128.5L834,1128.8L836,1129.2L838,1129.5L840,1129.8L842,1130.2L844,1130.5L846,1130.8L848,1131.1L850,1131.4L852,1131.6L854,1131.9L856,1132.1L858,1132.3L860,1132.6L862,1132.8L864,1133L866,1133.2L868,1133.4L870,1133.6L872,1133.8L874,1134.1L876,1134.3L878,1134.6L880,1134.9L882,1135.2L884,1135.5L886,1135.8L888,1136.1L890,1136.5L892,1136.8L894,1137.2L896,1137.5L898,1137.9L900,1138.2L902,1138.6L904,1138.9L906,1139.3L908,1139.6L910,1139.9L912,1140.3L914,1140.6L916,1140.9L918,1141.2L920,1141.5L922,1141.8L924,1142.1L926,1142.4L928,1142.7L930,1143L932,1143.3L934,1143.6L936,1143.9L938,1144.2L940,1144.5L942,1144.8L944,1145.1L946,1145.4L948,1145.7L950,1146L952,1146.3L954,1146.6L956,1146.9L958,1147.2L960,1147.5L962,1147.8L964,1148.1L966,1148.4L968,1148.7L970,1149L972,1149.2L974,1149.5L976,1149.7L978,1149.9L980,1150.1L982,1150.3L984,1150.5L986,1150.7L988,1150.9L990,1151.1L992,1151.3L994,1151.5L996,1151.6L998,1151.8L1000,1152L1002,1152.2L1004,1152.4L1006,1152.6L1008,1152.8L1010,1153L1012,1153.3L1014,1153.5L1016,1153.7L1018,1153.8L1020,1154L1022,1154.2L1024,1154.3L1026,1154.4L1028,1154.4L1030,1154.4L1032,1154.4L1034,1154.4L1036,1154.4L1038,1154.3L1040,1154.3L1042,1154.2L1044,1154.2L1046,1154.1L1048,1154L1050,1153.9L1052,1153.8L1054,1153.7L1056,1153.6L1058,1153.5L1060,1153.4L1062,1153.3L1064,1153.1L1066,1152.8L1068,1152.5L1070,1152.2L1072,1151.8L1074,1151.4L1076,1150.9L1078,1150.4L1080,1149.9L1082,1149.4L1084,1148.9L1086,1148.4L1088,1147.9L1090,1147.3L1092,1146.8L1094,1146.2L1096,1145.5L1098,1144.8L1100,1144.1L1102,1143.3L1104,1142.5L1106,1141.7L1108,1140.9L1110,1140L1112,1139.1L1114,1138.2L1116,1137.2L1118,1136.1L1120,1134.8L1122,1133.5L1124,1132.2L1126,1131.1L1128,1130.3L1130,1129.5L1132,1128.7L1134,1128L1136,1127.7L1138,1127.6L1140,1127.9L1142,1128.3L1144,1128.9L1146,1129.5L1148,1130.2L1150,1130.8L1152,1131.3L1154,1131.5L1156,1131.5L1158,1131.2L1160,1130.6L1162,1130L1164,1129.6L1166,1129.6L1168,1129.7L1170,1129.9L1172,1130.2L1174,1130.6L1176,1131L1178,1131.5L1180,1132L1182,1132.5L1184,1133L1186,1133.5L1188,1134L1190,1134.4L1192,1134.7L1194,1135.1L1196,1135.4L1198,1135.8L1200,1136.1L1202,1136.4L1204,1136.8L1206,1137.1L1208,1137.4L1210,1137.7L1212,1138L1214,1138.3L1216,1138.6L1218,1138.8L1220,1139.1L1222,1139.3L1224,1139.6L1226,1139.8L1228,1140L1230,1140.3L1232,1140.5L1234,1140.7L1236,1140.9L1238,1141.1L1240,1141.3L1242,1141.5L1244,1141.7L1246,1141.9L1248,1142.1L1250,1142.2L1252,1142.4L1254,1142.6L1256,1142.7L1258,1142.9L1260,1143L1262,1143.2L1264,1143.3L1266,1143.5L1268,1143.6L1270,1143.8L1272,1144L1274,1144.1L1276,1144.3L1278,1144.5L1280,1144.6L1282,1144.8L1284,1145.1L1286,1145.3L1288,1145.5L1290,1145.8L1292,1146L1294,1146.2L1296,1146.4L1298,1146.7L1300,1146.9L1302,1147L1304,1147.2L1306,1147.4L1308,1147.5L1310,1147.6L1312,1147.7L1314,1147.7L1316,1147.8L1318,1147.9L1320,1148L1322,1148L1324,1148L1326,1148.1L1328,1148.1L1328,1252.1Z" fill="#ffcdb3"/>
<path d="M418,1252.1L418,1165.7L420,1165.7L422,1165.7L424,1164.1L426,1162.4L428,1160.8L430,1159.3L432,1157.9L434,1156.5L436,1155.2L438,1153.9L440,1152.7L442,1151.5L444,1150.4L446,1149.2L448,1148L450,1147L452,1146.3L454,1146.3L456,1146.5L458,1146.8L460,1147.2L462,1147.7L464,1148.2L466,1148.6L468,1148.9L470,1149.1L472,1149.1L474,1149L476,1149L478,1148.9L480,1148.8L482,1148.6L484,1148.3L486,1147.1L488,1145.7L490,1145L492,1145.3L494,1146.2L496,1147.4L498,1148.8L500,1150L502,1151L504,1151.7L506,1152.2L508,1152.6L510,1153L512,1153.4L514,1153.9L516,1154.5L518,1155.4L520,1156.9L522,1158.7L524,1160.6L526,1162.3L528,1163.7L530,1164.4L532,1164.4L534,1164.3L536,1164L538,1163.7L540,1163.3L542,1162.9L544,1162.4L546,1161.9L548,1161.4L550,1160.9L552,1160.5L554,1159.9L556,1159.3L558,1158.6L560,1157.9L562,1157.1L564,1156.4L566,1155.7L568,1155L570,1154.4L572,1153.9L574,1153.4L576,1153.1L578,1152.8L580,1152.6L582,1152.4L584,1152.2L586,1152L588,1151.9L590,1151.7L592,1151.6L594,1151.5L596,1151.3L598,1151.2L600,1151.1L602,1150.9L604,1150.8L606,1150.6L608,1150.5L610,1150.4L612,1150.2L614,1150.1L616,1149.9L618,1149.8L620,1149.7L622,1149.6L624,1149.4L626,1149.3L628,1149.2L630,1149.1L632,1148.9L634,1148.8L636,1148.8L638,1148.7L640,1148.6L642,1148.5L644,1148.4L646,1148.3L648,1148.2L650,1148.1L652,1148L654,1147.8L656,1147.7L658,1147.5L660,1147.1L662,1146.7L664,1146.2L666,1145.6L668,1145.1L670,1144.6L672,1144.1L674,1143.7L676,1143.4L678,1143.3L680,1143.3L682,1144.1L684,1145.4L686,1146.9L688,1148.3L690,1149.2L692,1149.4L694,1149.3L696,1149L698,1148.7L700,1148.3L702,1147.6L704,1146.7L706,1145.6L708,1144.6L710,1144L712,1143.8L714,1144.9L716,1146.2L718,1146.8L720,1146.8L722,1146.7L724,1146.7L726,1146.6L728,1146.6L730,1146.5L732,1146.4L734,1146.3L736,1146.1L738,1146L740,1145.8L742,1145.7L744,1145.5L746,1145.3L748,1145.2L750,1145L752,1144.6L754,1144L756,1143.3L758,1142.5L760,1141.7L762,1140.9L764,1140.1L766,1139.5L768,1139.1L770,1138.8L772,1138.8L774,1138.9L776,1139L778,1139.1L780,1139.3L782,1139.5L784,1139.7L786,1139.9L788,1140.1L790,1140.3L792,1140.5L794,1140.7L796,1140.9L798,1141L800,1141.1L802,1141.2L804,1141.3L806,1141.4L808,1141.5L810,1141.6L812,1141.7L814,1141.8L816,1141.9L818,1142L820,1142.1L822,1142.2L824,1142.4L826,1142.6L828,1142.8L830,1143L832,1143.3L834,1143.6L836,1143.9L838,1144.2L840,1144.5L842,1144.8L844,1145.1L846,1145.4L848,1145.6L850,1145.9L852,1146.1L854,1146.3L856,1146.5L858,1146.7L860,1146.9L862,1147.1L864,1147.3L866,1147.5L868,1147.7L870,1147.9L872,1148.1L874,1148.3L876,1148.5L878,1148.7L880,1148.9L882,1149.2L884,1149.4L886,1149.7L888,1150L890,1150.3L892,1150.5L894,1150.8L896,1151.1L898,1151.4L900,1151.7L902,1151.9L904,1152.2L906,1152.5L908,1152.8L910,1153.1L912,1153.3L914,1153.6L916,1153.9L918,1154.1L920,1154.4L922,1154.7L924,1154.9L926,1155.2L928,1155.5L930,1155.7L932,1156L934,1156.2L936,1156.5L938,1156.8L940,1157L942,1157.3L944,1157.5L946,1157.8L948,1158L950,1158.2L952,1158.5L954,1158.7L956,1158.9L958,1159.1L960,1159.4L962,1159.6L964,1159.8L966,1160L968,1160.3L970,1160.5L972,1160.7L974,1160.9L976,1161.2L978,1161.4L980,1161.6L982,1161.9L984,1162.1L986,1162.4L988,1162.6L990,1162.9L992,1163.1L994,1163.3L996,1163.5L998,1163.8L1000,1164L1002,1164.2L1004,1164.4L1006,1164.6L1008,1164.8L1010,1165L1012,1165.2L1014,1165.5L1016,1165.7L1018,1165.8L1020,1166L1022,1166.2L1024,1166.4L1026,1166.5L1028,1166.7L1030,1166.8L1032,1166.9L1034,1167L1036,1167.1L1038,1167.2L1040,1167.3L1042,1167.4L1044,1167.5L1046,1167.6L1048,1167.7L1050,1167.8L1052,1167.8L1054,1167.9L1056,1167.9L1058,1167.9L1060,1168L1062,1167.9L1064,1167.8L1066,1167.7L1068,1167.5L1070,1167.3L1072,1167L1074,1166.7L1076,1166.4L1078,1166.1L1080,1165.7L1082,1165.4L1084,1165L1086,1164.6L1088,1164.3L1090,1163.9L1092,1163.5L1094,1163.1L1096,1162.6L1098,1162.1L1100,1161.6L1102,1161.1L1104,1160.5L1106,1159.9L1108,1159.2L1110,1158.5L1112,1157.8L1114,1157L1116,1156.1L1118,1154.9L1120,1153.5L1122,1151.9L1124,1150.4L1126,1149.1L1128,1148.1L1130,1147.1L1132,1146.2L1134,1145.4L1136,1145L1138,1144.9L1140,1145.1L1142,1145.5L1144,1146L1146,1146.6L1148,1147.2L1150,1147.8L1152,1148.2L1154,1148.4L1156,1148.4L1158,1148L1160,1147.3L1162,1146.6L1164,1146.2L1166,1146.1L1168,1146.2L1170,1146.4L1172,1146.7L1174,1147L1176,1147.4L1178,1147.9L1180,1148.3L1182,1148.8L1184,1149.2L1186,1149.6L1188,1150L1190,1150.3L1192,1150.6L1194,1150.9L1196,1151.1L1198,1151.3L1200,1151.6L1202,1151.8L1204,1152L1206,1152.2L1208,1152.5L1210,1152.7L1212,1152.8L1214,1153L1216,1153.2L1218,1153.4L1220,1153.5L1222,1153.7L1224,1153.8L1226,1154L1228,1154.1L1230,1154.2L1232,1154.3L1234,1154.5L1236,1154.6L1238,1154.7L1240,1154.8L1242,1155L1244,1155.1L1246,1155.2L1248,1155.4L1250,1155.5L1252,1155.7L1254,1155.9L1256,1156.1L1258,1156.3L1260,1156.5L1262,1156.7L1264,1156.9L1266,1157.1L1268,1157.4L1270,1157.6L1272,1157.9L1274,1158.2L1276,1158.5L1278,1158.9L1280,1159.3L1282,1159.6L1284,1160L1286,1160.3L1288,1160.7L1290,1161L1292,1161.3L1294,1161.6L1296,1161.8L1298,1162L1300,1162.1L1302,1162.3L1304,1162.4L1306,1162.6L1308,1162.7L1310,1162.8L1312,1162.9L1314,1163L1316,1163.1L1318,1163.2L1320,1163.3L1322,1163.3L1324,1163.4L1326,1163.4L1328,1163.4L1328,1252.1Z" fill="#ffaa84"/>
<path d="M418,1252.1L418,1182.1L420,1182.1L422,1182.1L424,1180.8L426,1179.5L428,1178.1L430,1176.8L432,1175.4L434,1174.1L436,1172.7L438,1171.3L440,1170L442,1168.6L444,1167.2L446,1165.6L448,1163.8L450,1162.1L452,1161.1L454,1160.9L456,1161.1L458,1161.4L460,1161.8L462,1162.3L464,1162.7L466,1163.1L468,1163.4L470,1163.6L472,1163.6L474,1163.6L476,1163.6L478,1163.6L480,1163.6L482,1163.6L484,1163.4L486,1162.6L488,1161.7L490,1161.6L492,1162.8L494,1164.6L496,1166.4L498,1167.5L500,1168.4L502,1169.3L504,1170.1L506,1170.7L508,1171.1L510,1171.1L512,1170L514,1168.6L516,1168L518,1168.6L520,1169.9L522,1171.5L524,1173L526,1175L528,1177.1L530,1178.5L532,1178.5L534,1178.3L536,1177.9L538,1177.4L540,1176.7L542,1176L544,1175.3L546,1174.6L548,1173.9L550,1173.3L552,1172.8L554,1172.2L556,1171.5L558,1170.9L560,1170.3L562,1169.6L564,1169L566,1168.4L568,1167.9L570,1167.4L572,1166.9L574,1166.6L576,1166.3L578,1166.1L580,1165.9L582,1165.7L584,1165.6L586,1165.4L588,1165.3L590,1165.2L592,1165L594,1164.9L596,1164.8L598,1164.7L600,1164.6L602,1164.5L604,1164.4L606,1164.3L608,1164.2L610,1164.1L612,1164L614,1163.9L616,1163.8L618,1163.7L620,1163.6L622,1163.5L624,1163.5L626,1163.4L628,1163.3L630,1163.2L632,1163.1L634,1163L636,1163L638,1162.9L640,1162.8L642,1162.8L644,1162.7L646,1162.6L648,1162.6L650,1162.5L652,1162.4L654,1162.3L656,1162.2L658,1162L660,1161.7L662,1161.3L664,1160.9L666,1160.4L668,1159.9L670,1159.5L672,1159L674,1158.7L676,1158.4L678,1158.3L680,1158.4L682,1159.3L684,1160.7L686,1162.4L688,1164L690,1165.1L692,1165.3L694,1165.2L696,1164.9L698,1164.4L700,1164L702,1163.2L704,1162L706,1160.6L708,1159.3L710,1158.5L712,1158.3L714,1159.5L716,1161.2L718,1161.8L720,1161.8L722,1161.7L724,1161.7L726,1161.6L728,1161.4L730,1161.3L732,1161.1L734,1160.9L736,1160.7L738,1160.5L740,1160.3L742,1160.1L744,1159.8L746,1159.6L748,1159.3L750,1159.1L752,1158.7L754,1158.2L756,1157.5L758,1156.9L760,1156.2L762,1155.5L764,1154.9L766,1154.4L768,1154L770,1153.9L772,1153.9L774,1154L776,1154.1L778,1154.3L780,1154.6L782,1154.8L784,1155.1L786,1155.4L788,1155.7L790,1155.9L792,1156.2L794,1156.3L796,1156.5L798,1156.5L800,1156.6L802,1156.6L804,1156.6L806,1156.6L808,1156.7L810,1156.7L812,1156.7L814,1156.7L816,1156.7L818,1156.7L820,1156.8L822,1156.8L824,1156.9L826,1157L828,1157.1L830,1157.3L832,1157.5L834,1157.8L836,1158.1L838,1158.4L840,1158.7L842,1159L844,1159.3L846,1159.6L848,1159.8L850,1160L852,1160.2L854,1160.3L856,1160.5L858,1160.6L860,1160.7L862,1160.8L864,1160.9L866,1161.1L868,1161.2L870,1161.3L872,1161.4L874,1161.6L876,1161.7L878,1161.9L880,1162.1L882,1162.3L884,1162.6L886,1162.8L888,1163L890,1163.3L892,1163.6L894,1163.9L896,1164.1L898,1164.4L900,1164.7L902,1165L904,1165.2L906,1165.5L908,1165.7L910,1166L912,1166.2L914,1166.4L916,1166.6L918,1166.8L920,1167L922,1167.2L924,1167.4L926,1167.6L928,1167.8L930,1168L932,1168.2L934,1168.4L936,1168.6L938,1168.8L940,1169L942,1169.2L944,1169.4L946,1169.6L948,1169.8L950,1170.1L952,1170.3L954,1170.6L956,1170.8L958,1171.1L960,1171.4L962,1171.7L964,1171.9L966,1172.2L968,1172.5L970,1172.8L972,1173L974,1173.3L976,1173.6L978,1173.8L980,1174.1L982,1174.4L984,1174.6L986,1174.9L988,1175.2L990,1175.4L992,1175.7L994,1176L996,1176.2L998,1176.5L1000,1176.8L1002,1177.1L1004,1177.4L1006,1177.7L1008,1178L1010,1178.3L1012,1178.7L1014,1179L1016,1179.3L1018,1179.6L1020,1179.9L1022,1180.2L1024,1180.5L1026,1180.8L1028,1181L1030,1181.3L1032,1181.5L1034,1181.8L1036,1182.1L1038,1182.3L1040,1182.6L1042,1182.9L1044,1183.1L1046,1183.4L1048,1183.6L1050,1183.8L1052,1183.9L1054,1184.1L1056,1184.2L1058,1184.2L1060,1184.3L1062,1184.3L1064,1184.3L1066,1184.3L1068,1184.3L1070,1184.3L1072,1184.3L1074,1184.3L1076,1184.3L1078,1184.3L1080,1184.3L1082,1184.3L1084,1184.3L1086,1184.3L1088,1184.3L1090,1184.2L1092,1184.1L1094,1183.6L1096,1183.1L1098,1182.4L1100,1181.6L1102,1180.8L1104,1180L1106,1179.2L1108,1178.2L1110,1177.2L1112,1176L1114,1174.8L1116,1173.5L1118,1172.2L1120,1170.8L1122,1169.1L1124,1167.2L1126,1165.4L1128,1163.9L1130,1163.1L1132,1162.5L1134,1162L1136,1161.7L1138,1161.4L1140,1161.4L1142,1161.6L1144,1162L1146,1162.6L1148,1163.1L1150,1163.7L1152,1164.1L1154,1164.3L1156,1164.3L1158,1163.9L1160,1163.2L1162,1162.5L1164,1162.1L1166,1162L1168,1162.1L1170,1162.2L1172,1162.5L1174,1162.7L1176,1163L1178,1163.4L1180,1163.7L1182,1164.1L1184,1164.4L1186,1164.8L1188,1165L1190,1165.3L1192,1165.5L1194,1165.7L1196,1165.8L1198,1166L1200,1166.2L1202,1166.3L1204,1166.5L1206,1166.6L1208,1166.8L1210,1166.9L1212,1167L1214,1167.1L1216,1167.2L1218,1167.3L1220,1167.4L1222,1167.5L1224,1167.6L1226,1167.6L1228,1167.7L1230,1167.7L1232,1167.8L1234,1167.8L1236,1167.9L1238,1168L1240,1168L1242,1168.1L1244,1168.2L1246,1168.2L1248,1168.3L1250,1168.4L1252,1168.5L1254,1168.7L1256,1168.8L1258,1169L1260,1169.1L1262,1169.3L1264,1169.5L1266,1169.7L1268,1169.9L1270,1170.2L1272,1170.4L1274,1170.7L1276,1171L1278,1171.3L1280,1171.6L1282,1172.1L1284,1172.8L1286,1173.5L1288,1174.2L1290,1174.9L1292,1175.6L1294,1176.3L1296,1176.8L1298,1177.3L1300,1177.6L1302,1177.9L1304,1178.2L1306,1178.5L1308,1178.8L1310,1179.1L1312,1179.3L1314,1179.6L1316,1179.8L1318,1179.9L1320,1180.1L1322,1180.2L1324,1180.3L1326,1180.3L1328,1180.3L1328,1252.1Z" fill="#ff7744"/>
<path d="M418,1252.1L418,1195.4L420,1195.4L422,1195.4L424,1194.1L426,1192.9L428,1191.6L430,1190.3L432,1189L434,1187.7L436,1186.5L438,1185.2L440,1183.9L442,1182.6L444,1181.3L446,1179.9L448,1178.2L450,1176.7L452,1175.7L454,1175.7L456,1176.3L458,1177.4L460,1178.6L462,1179.9L464,1180.8L466,1181.4L468,1181.7L470,1182.1L472,1182.4L474,1182.7L476,1182.9L478,1183.1L480,1183.3L482,1183.3L484,1183.3L486,1182.8L488,1182.2L490,1183.6L492,1192.3L494,1198.1L496,1206.1L498,1240.9L500,1251.1L502,1251.1L504,1251.1L506,1251.1L508,1251.1L510,1251.1L512,1251.1L514,1251.1L516,1202L518,1196.5L520,1194.5L522,1193.8L524,1193.3L526,1193L528,1192.5L530,1192L532,1191.4L534,1190.9L536,1190.4L538,1189.8L540,1189.3L542,1188.7L544,1188.2L546,1187.6L548,1187.1L550,1186.6L552,1186L554,1185.4L556,1184.8L558,1184.2L560,1183.5L562,1182.9L564,1182.3L566,1181.7L568,1181.1L570,1180.6L572,1180.2L574,1179.8L576,1179.5L578,1179.3L580,1179.1L582,1179L584,1178.8L586,1178.7L588,1178.6L590,1178.4L592,1178.3L594,1178.2L596,1178.1L598,1178L600,1177.9L602,1177.8L604,1177.6L606,1177.5L608,1177.4L610,1177.2L612,1177.1L614,1176.9L616,1176.8L618,1176.6L620,1176.5L622,1176.4L624,1176.2L626,1176.1L628,1176L630,1175.9L632,1175.8L634,1175.8L636,1175.7L638,1175.6L640,1175.6L642,1175.5L644,1175.5L646,1175.4L648,1175.4L650,1175.3L652,1175.2L654,1175.2L656,1175.1L658,1174.9L660,1174.7L662,1174.4L664,1174L666,1173.7L668,1173.3L670,1173L672,1172.6L674,1172.4L676,1172.2L678,1172.1L680,1172.2L682,1173L684,1174.6L686,1176.3L688,1177.9L690,1179.1L692,1179.5L694,1179.6L696,1179.7L698,1179.7L700,1179.7L702,1179L704,1177.1L706,1174.8L708,1172.6L710,1171L712,1170.7L714,1172.6L716,1175L718,1175.9L720,1175.9L722,1175.8L724,1175.7L726,1175.5L728,1175.3L730,1175.1L732,1174.8L734,1174.5L736,1174.2L738,1173.9L740,1173.6L742,1173.2L744,1172.9L746,1172.6L748,1172.3L750,1172L752,1171.6L754,1171.1L756,1170.6L758,1170.1L760,1169.6L762,1169.1L764,1168.7L766,1168.4L768,1168.1L770,1168L772,1168L774,1168L776,1168.1L778,1168.2L780,1168.3L782,1168.5L784,1168.6L786,1168.7L788,1168.9L790,1169L792,1169.1L794,1169.2L796,1169.2L798,1169.2L800,1169.2L802,1169.2L804,1169.2L806,1169.2L808,1169.2L810,1169.2L812,1169.2L814,1169.2L816,1169.2L818,1169.2L820,1169.2L822,1169.2L824,1169.2L826,1169.3L828,1169.4L830,1169.5L832,1169.7L834,1170L836,1170.2L838,1170.5L840,1170.8L842,1171.1L844,1171.4L846,1171.6L848,1171.8L850,1172L852,1172.2L854,1172.3L856,1172.5L858,1172.6L860,1172.7L862,1172.8L864,1173L866,1173.1L868,1173.2L870,1173.3L872,1173.5L874,1173.6L876,1173.8L878,1173.9L880,1174.1L882,1174.3L884,1174.5L886,1174.7L888,1174.9L890,1175.1L892,1175.3L894,1175.6L896,1175.8L898,1176L900,1176.3L902,1176.5L904,1176.7L906,1177L908,1177.2L910,1177.5L912,1177.7L914,1177.9L916,1178.2L918,1178.4L920,1178.6L922,1178.9L924,1179.1L926,1179.4L928,1179.6L930,1179.9L932,1180.1L934,1180.4L936,1180.6L938,1180.9L940,1181.1L942,1181.4L944,1181.7L946,1181.9L948,1182.2L950,1182.5L952,1182.8L954,1183.1L956,1183.4L958,1183.7L960,1184L962,1184.3L964,1184.6L966,1184.9L968,1185.3L970,1185.6L972,1185.9L974,1186.2L976,1186.5L978,1186.8L980,1187.2L982,1187.5L984,1187.8L986,1188.1L988,1188.5L990,1188.8L992,1189.1L994,1189.5L996,1189.8L998,1190.1L1000,1190.5L1002,1190.8L1004,1191.2L1006,1191.6L1008,1191.9L1010,1192.3L1012,1192.7L1014,1193.1L1016,1193.5L1018,1193.8L1020,1194.2L1022,1194.6L1024,1194.9L1026,1195.2L1028,1195.5L1030,1195.8L1032,1196.1L1034,1196.4L1036,1196.6L1038,1196.9L1040,1197.1L1042,1197.4L1044,1197.6L1046,1197.8L1048,1198L1050,1198.3L1052,1198.5L1054,1198.7L1056,1198.8L1058,1199L1060,1199.2L1062,1199.4L1064,1199.6L1066,1199.7L1068,1199.9L1070,1200.1L1072,1200.3L1074,1200.4L1076,1200.6L1078,1200.7L1080,1200.9L1082,1201L1084,1201.1L1086,1201.1L1088,1201.1L1090,1201.2L1092,1201.2L1094,1201.2L1096,1201.2L1098,1201.2L1100,1201.2L1102,1201.2L1104,1201.2L1106,1201.2L1108,1201.2L1110,1201.2L1112,1201.1L1114,1200.6L1116,1199.5L1118,1198L1120,1196.3L1122,1194.4L1124,1190.7L1126,1186.3L1128,1182.9L1130,1181.6L1132,1181.1L1134,1180.7L1136,1180.5L1138,1180.3L1140,1180.3L1142,1180.4L1144,1180.5L1146,1180.7L1148,1180.9L1150,1181L1152,1181.2L1154,1181.3L1156,1181.2L1158,1180.5L1160,1179.5L1162,1178.8L1164,1178.7L1166,1178.9L1168,1179.2L1170,1179.6L1172,1180.1L1174,1180.5L1176,1180.9L1178,1181.2L1180,1181.3L1182,1181.5L1184,1181.6L1186,1181.6L1188,1181.7L1190,1181.8L1192,1181.9L1194,1181.9L1196,1182L1198,1182.1L1200,1182.1L1202,1182.2L1204,1182.2L1206,1182.3L1208,1182.3L1210,1182.4L1212,1182.4L1214,1182.5L1216,1182.6L1218,1182.6L1220,1182.7L1222,1182.8L1224,1182.9L1226,1183L1228,1183.1L1230,1183.2L1232,1183.3L1234,1183.4L1236,1183.5L1238,1183.6L1240,1183.7L1242,1183.8L1244,1184L1246,1184.1L1248,1184.2L1250,1184.4L1252,1184.5L1254,1184.7L1256,1184.9L1258,1185.1L1260,1185.3L1262,1185.5L1264,1185.7L1266,1186L1268,1186.2L1270,1186.4L1272,1186.7L1274,1187L1276,1187.3L1278,1187.7L1280,1188L1282,1188.4L1284,1188.7L1286,1189.1L1288,1189.5L1290,1189.8L1292,1190.2L1294,1190.5L1296,1190.9L1298,1191.2L1300,1191.5L1302,1191.8L1304,1192.1L1306,1192.4L1308,1192.7L1310,1193L1312,1193.3L1314,1193.5L1316,1193.8L1318,1194.1L1320,1194.4L1322,1194.6L1324,1194.9L1326,1195.2L1328,1195.2L1328,1252.1Z" fill="#ff4f1c"/>
<path d="M418,1252.1L418,1206.8L420,1206.8L422,1206.8L424,1206.4L426,1205.8L428,1205.1L430,1204.2L432,1203.2L434,1202.1L436,1200.9L438,1199.6L440,1198.3L442,1196.9L444,1195.5L446,1193.5L448,1190.9L450,1188.4L452,1186.8L454,1186.7L456,1187.8L458,1189.7L460,1191.9L462,1194L464,1195.6L466,1196.4L468,1196.9L470,1197.2L472,1197.5L474,1197.7L476,1197.9L478,1198.2L480,1198.5L482,1199L484,1199.5L486,1200.2L488,1201.5L490,1204L492,1251.1L494,1251.1L496,1251.1L498,1251.1L500,1251.1L502,1251.1L504,1251.1L506,1251.1L508,1251.1L510,1251.1L512,1251.1L514,1251.1L516,1251.1L518,1251.1L520,1251.1L522,1237L524,1206.5L526,1205.4L528,1204.9L530,1204.4L532,1203.8L534,1203.1L536,1202.5L538,1202L540,1201.4L542,1200.9L544,1200.4L546,1199.9L548,1199.4L550,1198.9L552,1198.4L554,1197.9L556,1197.3L558,1196.7L560,1196.2L562,1195.6L564,1195.1L566,1194.6L568,1194.1L570,1193.7L572,1193.3L574,1193L576,1192.8L578,1192.6L580,1192.5L582,1192.4L584,1192.3L586,1192.2L588,1192.1L590,1192L592,1191.9L594,1191.8L596,1191.8L598,1191.7L600,1191.6L602,1191.5L604,1191.4L606,1191.3L608,1191.2L610,1191.1L612,1191L614,1190.9L616,1190.8L618,1190.6L620,1190.5L622,1190.4L624,1190.3L626,1190.2L628,1190.1L630,1190L632,1190L634,1189.9L636,1189.8L638,1189.8L640,1189.7L642,1189.7L644,1189.6L646,1189.5L648,1189.5L650,1189.4L652,1189.4L654,1189.3L656,1189.2L658,1189.1L660,1188.9L662,1188.7L664,1188.5L666,1188.3L668,1188.1L670,1187.9L672,1187.7L674,1187.6L676,1187.5L678,1187.4L680,1187.5L682,1188L684,1188.8L686,1189.8L688,1190.8L690,1191.5L692,1191.9L694,1192.1L696,1192.3L698,1192.4L700,1192.4L702,1192L704,1191L706,1189.7L708,1188.5L710,1187.6L712,1187.5L714,1188.5L716,1189.9L718,1190.4L720,1190.4L722,1190.3L724,1190.2L726,1190.1L728,1190L730,1189.8L732,1189.6L734,1189.4L736,1189.2L738,1188.9L740,1188.7L742,1188.4L744,1188.1L746,1187.9L748,1187.6L750,1187.3L752,1187L754,1186.5L756,1186L758,1185.4L760,1184.9L762,1184.3L764,1183.8L766,1183.4L768,1183.1L770,1183L772,1183L774,1183.1L776,1183.3L778,1183.5L780,1183.8L782,1184L784,1184.3L786,1184.6L788,1184.9L790,1185.2L792,1185.4L794,1185.5L796,1185.6L798,1185.6L800,1185.6L802,1185.6L804,1185.6L806,1185.5L808,1185.5L810,1185.4L812,1185.3L814,1185.3L816,1185.2L818,1185.2L820,1185.1L822,1185.1L824,1185.1L826,1185.1L828,1185.2L830,1185.3L832,1185.4L834,1185.5L836,1185.7L838,1185.9L840,1186L842,1186.2L844,1186.4L846,1186.6L848,1186.7L850,1186.9L852,1187L854,1187.1L856,1187.3L858,1187.4L860,1187.5L862,1187.6L864,1187.8L866,1187.9L868,1188L870,1188.2L872,1188.3L874,1188.4L876,1188.6L878,1188.8L880,1188.9L882,1189.1L884,1189.3L886,1189.5L888,1189.6L890,1189.8L892,1190L894,1190.2L896,1190.4L898,1190.6L900,1190.9L902,1191.1L904,1191.3L906,1191.5L908,1191.7L910,1192L912,1192.2L914,1192.4L916,1192.6L918,1192.9L920,1193.1L922,1193.4L924,1193.6L926,1193.9L928,1194.2L930,1194.4L932,1194.7L934,1194.9L936,1195.2L938,1195.5L940,1195.8L942,1196L944,1196.3L946,1196.6L948,1196.9L950,1197.2L952,1197.5L954,1197.8L956,1198.1L958,1198.4L960,1198.7L962,1199L964,1199.3L966,1199.6L968,1199.9L970,1200.2L972,1200.4L974,1200.7L976,1200.9L978,1201.1L980,1201.3L982,1201.5L984,1201.7L986,1201.8L988,1202L990,1202.2L992,1202.3L994,1202.5L996,1202.7L998,1202.9L1000,1203.2L1002,1203.4L1004,1203.7L1006,1204L1008,1204.3L1010,1204.6L1012,1204.9L1014,1205.3L1016,1205.6L1018,1206L1020,1206.3L1022,1206.7L1024,1207.1L1026,1207.4L1028,1207.8L1030,1208.1L1032,1208.5L1034,1208.9L1036,1209.3L1038,1209.8L1040,1210.2L1042,1210.7L1044,1211.1L1046,1211.6L1048,1212L1050,1212.4L1052,1212.8L1054,1213.2L1056,1213.5L1058,1213.8L1060,1214.1L1062,1214.4L1064,1214.7L1066,1215L1068,1215.2L1070,1215.5L1072,1215.8L1074,1216L1076,1216.2L1078,1216.4L1080,1216.6L1082,1216.8L1084,1216.9L1086,1217L1088,1217.1L1090,1217.1L1092,1217.1L1094,1217L1096,1217L1098,1217L1100,1216.9L1102,1216.9L1104,1216.8L1106,1216.7L1108,1216.6L1110,1216.5L1112,1216.4L1114,1216.1L1116,1215.5L1118,1214.7L1120,1213.8L1122,1212.6L1124,1209.9L1126,1206.7L1128,1204.3L1130,1204.4L1132,1212.6L1134,1251.1L1136,1251.1L1138,1251.1L1140,1251.1L1142,1251.1L1144,1251.1L1146,1251.1L1148,1238.6L1150,1203.4L1152,1200.3L1154,1198.8L1156,1197.7L1158,1197L1160,1196.6L1162,1196.7L1164,1197.6L1166,1198.9L1168,1200.2L1170,1201L1172,1201.1L1174,1201L1176,1200.8L1178,1200.5L1180,1200.1L1182,1199.6L1184,1199.2L1186,1198.7L1188,1198.2L1190,1197.7L1192,1197.2L1194,1196.8L1196,1196.5L1198,1196.3L1200,1196.1L1202,1195.9L1204,1195.8L1206,1195.7L1208,1195.5L1210,1195.4L1212,1195.3L1214,1195.3L1216,1195.2L1218,1195.2L1220,1195.2L1222,1195.2L1224,1195.3L1226,1195.4L1228,1195.6L1230,1195.8L1232,1196L1234,1196.2L1236,1196.4L1238,1196.6L1240,1196.8L1242,1197.1L1244,1197.3L1246,1197.5L1248,1197.7L1250,1197.9L1252,1198.1L1254,1198.3L1256,1198.5L1258,1198.7L1260,1199L1262,1199.2L1264,1199.4L1266,1199.6L1268,1199.9L1270,1200.1L1272,1200.4L1274,1200.6L1276,1200.9L1278,1201.1L1280,1201.4L1282,1201.7L1284,1202L1286,1202.3L1288,1202.6L1290,1202.9L1292,1203.2L1294,1203.6L1296,1203.8L1298,1204.1L1300,1204.4L1302,1204.6L1304,1204.8L1306,1205.1L1308,1205.3L1310,1205.5L1312,1205.8L1314,1206L1316,1206.2L1318,1206.4L1320,1206.6L1322,1206.8L1324,1206.9L1326,1207.1L1328,1207.1L1328,1252.1Z" fill="#e03000"/>
<path d="M418,1252.1L418,1218.3L420,1218.3L422,1218.3L424,1218L426,1217.6L428,1217.1L430,1216.5L432,1215.8L434,1215L436,1214.2L438,1213.4L440,1212.4L442,1211L444,1209.3L446,1207.6L448,1206.1L450,1205.2L452,1205.1L454,1205.5L456,1206.2L458,1207.3L460,1208.6L462,1212L464,1215.2L466,1216.5L468,1217.4L470,1218.6L472,1220.9L474,1224.6L476,1229.5L478,1235.1L480,1245L482,1251.1L484,1251.1L486,1251.1L488,1251.1L490,1251.1L492,1251.1L494,1251.1L496,1251.1L498,1251.1L500,1251.1L502,1251.1L504,1251.1L506,1251.1L508,1251.1L510,1251.1L512,1251.1L514,1251.1L516,1251.1L518,1251.1L520,1251.1L522,1251.1L524,1251.1L526,1231.9L528,1222.4L530,1219.8L532,1217.9L534,1216.4L536,1215.3L538,1214.5L540,1213.6L542,1212.7L544,1211.8L546,1210.9L548,1210.1L550,1209.4L552,1208.7L554,1208.1L556,1207.5L558,1207.1L560,1206.6L562,1206.2L564,1205.9L566,1205.5L568,1205.2L570,1205L572,1204.7L574,1204.5L576,1204.3L578,1204.1L580,1203.9L582,1203.7L584,1203.6L586,1203.4L588,1203.3L590,1203.1L592,1203L594,1202.9L596,1202.8L598,1202.7L600,1202.6L602,1202.5L604,1202.4L606,1202.3L608,1202.2L610,1202.2L612,1202.1L614,1202L616,1202L618,1201.9L620,1201.8L622,1201.8L624,1201.7L626,1201.7L628,1201.6L630,1201.5L632,1201.5L634,1201.4L636,1201.3L638,1201.3L640,1201.2L642,1201.1L644,1201.1L646,1201L648,1200.9L650,1200.9L652,1200.8L654,1200.7L656,1200.7L658,1200.6L660,1200.5L662,1200.4L664,1200.3L666,1200.2L668,1200.1L670,1200L672,1199.9L674,1199.9L676,1199.8L678,1199.8L680,1199.8L682,1199.9L684,1200.1L686,1200.4L688,1200.7L690,1201.1L692,1201.4L694,1201.8L696,1202L698,1202.2L700,1202.2L702,1202.1L704,1201.7L706,1201.2L708,1200.7L710,1200.4L712,1200.3L714,1200.6L716,1200.9L718,1201L720,1201L722,1201L724,1200.9L726,1200.8L728,1200.7L730,1200.6L732,1200.4L734,1200.3L736,1200.1L738,1199.9L740,1199.8L742,1199.6L744,1199.4L746,1199.2L748,1199L750,1198.8L752,1198.6L754,1198.3L756,1198L758,1197.7L760,1197.3L762,1197L764,1196.7L766,1196.5L768,1196.3L770,1196.2L772,1196.3L774,1196.4L776,1196.6L778,1196.9L780,1197.2L782,1197.5L784,1197.7L786,1197.9L788,1198L790,1198L792,1197.9L794,1197.7L796,1197.5L798,1197.3L800,1197.1L802,1196.9L804,1196.8L806,1196.8L808,1196.8L810,1196.8L812,1196.8L814,1196.8L816,1196.8L818,1196.8L820,1196.8L822,1196.8L824,1196.8L826,1196.8L828,1196.8L830,1196.9L832,1197L834,1197.1L836,1197.2L838,1197.3L840,1197.5L842,1197.6L844,1197.7L846,1197.8L848,1197.9L850,1198L852,1198.1L854,1198.1L856,1198.2L858,1198.3L860,1198.3L862,1198.4L864,1198.4L866,1198.5L868,1198.5L870,1198.6L872,1198.7L874,1198.8L876,1198.9L878,1199L880,1199.1L882,1199.3L884,1199.5L886,1199.7L888,1199.9L890,1200.1L892,1200.4L894,1200.7L896,1201L898,1201.3L900,1201.6L902,1201.9L904,1202.2L906,1202.5L908,1202.7L910,1203L912,1203.3L914,1203.6L916,1203.9L918,1204.1L920,1204.4L922,1204.7L924,1205L926,1205.3L928,1205.6L930,1205.9L932,1206.2L934,1206.5L936,1206.8L938,1207.1L940,1207.5L942,1207.8L944,1208.1L946,1208.4L948,1208.7L950,1209.1L952,1209.4L954,1209.8L956,1210.1L958,1210.5L960,1210.9L962,1211.2L964,1211.6L966,1211.9L968,1212.3L970,1212.5L972,1212.8L974,1213L976,1213.3L978,1213.4L980,1213.6L982,1213.8L984,1213.9L986,1214L988,1214.2L990,1214.3L992,1214.5L994,1214.6L996,1214.8L998,1215L1000,1215.1L1002,1215.4L1004,1215.6L1006,1215.9L1008,1216.1L1010,1216.4L1012,1216.7L1014,1217L1016,1217.3L1018,1217.6L1020,1218L1022,1218.3L1024,1218.6L1026,1219L1028,1219.3L1030,1219.7L1032,1220L1034,1220.4L1036,1220.8L1038,1221.2L1040,1221.7L1042,1222.1L1044,1222.6L1046,1223L1048,1223.5L1050,1223.9L1052,1224.4L1054,1224.8L1056,1225.2L1058,1225.7L1060,1226.1L1062,1226.5L1064,1227L1066,1227.4L1068,1227.9L1070,1228.3L1072,1228.8L1074,1229.3L1076,1229.7L1078,1230.1L1080,1230.5L1082,1230.9L1084,1231.2L1086,1231.5L1088,1231.8L1090,1232L1092,1232.2L1094,1232.4L1096,1232.7L1098,1232.8L1100,1233L1102,1233.2L1104,1233.3L1106,1233.4L1108,1233.5L1110,1233.6L1112,1233.5L1114,1232.9L1116,1231.9L1118,1230.7L1120,1229.6L1122,1228.4L1124,1227.1L1126,1225.9L1128,1225.2L1130,1233.8L1132,1251.1L1134,1251.1L1136,1251.1L1138,1251.1L1140,1251.1L1142,1251.1L1144,1251.1L1146,1251.1L1148,1251.1L1150,1242.1L1152,1222.8L1154,1217.3L1156,1214.5L1158,1214.1L1160,1214.5L1162,1215.1L1164,1219.1L1166,1226.2L1168,1230L1170,1229.5L1172,1228.2L1174,1226.5L1176,1224.5L1178,1222.7L1180,1221.3L1182,1219.7L1184,1218.1L1186,1216.4L1188,1214.8L1190,1213.2L1192,1211.8L1194,1210.7L1196,1209.8L1198,1209.2L1200,1209L1202,1208.8L1204,1208.7L1206,1208.5L1208,1208.4L1210,1208.3L1212,1208.2L1214,1208.2L1216,1208.1L1218,1208.1L1220,1208.1L1222,1208.2L1224,1208.2L1226,1208.3L1228,1208.5L1230,1208.6L1232,1208.8L1234,1209L1236,1209.2L1238,1209.4L1240,1209.6L1242,1209.8L1244,1210L1246,1210.3L1248,1210.5L1250,1210.6L1252,1210.8L1254,1211.1L1256,1211.3L1258,1211.5L1260,1211.7L1262,1212L1264,1212.2L1266,1212.5L1268,1212.7L1270,1213L1272,1213.2L1274,1213.5L1276,1213.8L1278,1214L1280,1214.3L1282,1214.6L1284,1214.9L1286,1215.2L1288,1215.6L1290,1215.9L1292,1216.2L1294,1216.5L1296,1216.8L1298,1217L1300,1217.3L1302,1217.5L1304,1217.7L1306,1217.9L1308,1218.1L1310,1218.3L1312,1218.5L1314,1218.7L1316,1218.9L1318,1219.1L1320,1219.2L1322,1219.4L1324,1219.5L1326,1219.6L1328,1219.6L1328,1252.1Z" fill="#b82400"/>
<path d="M418,1252.1L418,1233.3L420,1233.3L422,1233.3L424,1232L426,1230.8L428,1229.8L430,1229L432,1228.4L434,1227.9L436,1227.6L438,1227.4L440,1227.3L442,1227.2L444,1227.2L446,1227.2L448,1235.5L450,1248.5L452,1251.1L454,1251.1L456,1251.1L458,1251.1L460,1251.1L462,1251.1L464,1251.1L466,1251.1L468,1251.1L470,1251.1L472,1251.1L474,1251.1L476,1251.1L478,1251.1L480,1251.1L482,1251.1L484,1251.1L486,1251.1L488,1251.1L490,1251.1L492,1251.1L494,1251.1L496,1251.1L498,1251.1L500,1251.1L502,1251.1L504,1251.1L506,1251.1L508,1251.1L510,1251.1L512,1251.1L514,1251.1L516,1251.1L518,1251.1L520,1251.1L522,1251.1L524,1251.1L526,1251.1L528,1251.1L530,1251.1L532,1251L534,1246.8L536,1240.7L538,1234.3L540,1229.1L542,1226.6L544,1225L546,1223.6L548,1222.4L550,1221.4L552,1220.5L554,1219.7L556,1219.1L558,1218.6L560,1218.1L562,1217.7L564,1217.3L566,1216.9L568,1216.6L570,1216.3L572,1216.1L574,1215.9L576,1215.7L578,1215.6L580,1215.4L582,1215.3L584,1215.2L586,1215.1L588,1215.1L590,1215L592,1214.9L594,1214.8L596,1214.7L598,1214.7L600,1214.6L602,1214.5L604,1214.4L606,1214.3L608,1214.2L610,1214.1L612,1214L614,1213.9L616,1213.8L618,1213.7L620,1213.6L622,1213.5L624,1213.3L626,1213.2L628,1213.1L630,1213L632,1212.9L634,1212.8L636,1212.7L638,1212.5L640,1212.4L642,1212.3L644,1212.2L646,1212L648,1211.9L650,1211.8L652,1211.6L654,1211.4L656,1211.3L658,1211L660,1210.8L662,1210.4L664,1210.1L666,1209.8L668,1209.6L670,1209.5L672,1209.5L674,1209.6L676,1209.8L678,1210.1L680,1210.3L682,1210.7L684,1211L686,1211.3L688,1211.7L690,1212L692,1212.3L694,1212.5L696,1212.7L698,1212.8L700,1212.8L702,1212.8L704,1212.8L706,1212.8L708,1212.8L710,1212.8L712,1212.8L714,1212.7L716,1212.7L718,1212.7L720,1212.6L722,1212.5L724,1212.4L726,1212.2L728,1212L730,1211.8L732,1211.6L734,1211.4L736,1211.1L738,1210.9L740,1210.6L742,1210.3L744,1210.1L746,1209.9L748,1209.6L750,1209.4L752,1209.2L754,1209L756,1208.7L758,1208.4L760,1208.2L762,1207.9L764,1207.7L766,1207.6L768,1207.4L770,1207.4L772,1207.4L774,1207.5L776,1207.6L778,1207.8L780,1208L782,1208.2L784,1208.4L786,1208.5L788,1208.6L790,1208.6L792,1208.5L794,1208.3L796,1208.1L798,1207.9L800,1207.7L802,1207.5L804,1207.4L806,1207.4L808,1207.4L810,1207.4L812,1207.4L814,1207.5L816,1207.5L818,1207.6L820,1207.6L822,1207.7L824,1207.7L826,1207.8L828,1207.8L830,1207.8L832,1207.8L834,1207.9L836,1207.9L838,1207.9L840,1207.9L842,1208L844,1208L846,1208L848,1208L850,1208.1L852,1208.1L854,1208.1L856,1208.2L858,1208.2L860,1208.2L862,1208.3L864,1208.3L866,1208.3L868,1208.4L870,1208.4L872,1208.5L874,1208.5L876,1208.6L878,1208.7L880,1208.8L882,1208.9L884,1209L886,1209.2L888,1209.4L890,1209.6L892,1209.9L894,1210.1L896,1210.4L898,1210.7L900,1210.9L902,1211.2L904,1211.5L906,1211.8L908,1212.1L910,1212.4L912,1212.7L914,1213L916,1213.3L918,1213.6L920,1213.9L922,1214.3L924,1214.7L926,1215L928,1215.4L930,1215.8L932,1216.2L934,1216.6L936,1217L938,1217.4L940,1217.8L942,1218.2L944,1218.6L946,1219L948,1219.3L950,1219.7L952,1220.1L954,1220.5L956,1220.9L958,1221.3L960,1221.7L962,1222.1L964,1222.5L966,1222.9L968,1223.3L970,1223.7L972,1224.1L974,1224.5L976,1224.9L978,1225.3L980,1225.8L982,1226.2L984,1226.6L986,1227L988,1227.4L990,1227.8L992,1228.2L994,1228.6L996,1228.9L998,1229.3L1000,1229.7L1002,1230.1L1004,1230.4L1006,1230.8L1008,1231.2L1010,1231.5L1012,1231.9L1014,1232.2L1016,1232.6L1018,1232.9L1020,1233.3L1022,1233.6L1024,1234L1026,1234.3L1028,1234.6L1030,1235L1032,1235.3L1034,1235.7L1036,1236L1038,1236.3L1040,1236.7L1042,1237L1044,1237.3L1046,1237.7L1048,1238L1050,1238.3L1052,1238.7L1054,1239L1056,1239.3L1058,1239.7L1060,1240L1062,1240.3L1064,1240.6L1066,1240.9L1068,1241.2L1070,1241.4L1072,1241.7L1074,1242L1076,1242.3L1078,1242.6L1080,1242.9L1082,1243.2L1084,1243.6L1086,1244.1L1088,1244.5L1090,1245.1L1092,1246L1094,1247.2L1096,1248.5L1098,1249.9L1100,1251L1102,1251.1L1104,1251.1L1106,1251.1L1108,1251.1L1110,1251.1L1112,1251.1L1114,1251.1L1116,1251.1L1118,1251.1L1120,1251.1L1122,1251.1L1124,1251.1L1126,1251.1L1128,1251.1L1130,1251.1L1132,1251.1L1134,1251.1L1136,1251.1L1138,1251.1L1140,1251.1L1142,1251.1L1144,1251.1L1146,1251.1L1148,1251.1L1150,1251.1L1152,1251.1L1154,1251.1L1156,1251.1L1158,1251.1L1160,1251.1L1162,1251.1L1164,1251.1L1166,1251.1L1168,1251.1L1170,1251.1L1172,1251.1L1174,1251.1L1176,1251.1L1178,1251.1L1180,1251.1L1182,1251.1L1184,1251.1L1186,1251.1L1188,1251.1L1190,1248.9L1192,1244.7L1194,1239.7L1196,1234.9L1198,1231.1L1200,1228.7L1202,1226.6L1204,1224.7L1206,1223.2L1208,1222.2L1210,1221.8L1212,1221.5L1214,1221.3L1216,1221.1L1218,1221L1220,1221.1L1222,1221.6L1224,1222.3L1226,1223.2L1228,1224L1230,1224.6L1232,1225L1234,1225L1236,1224.8L1238,1224.5L1240,1224.1L1242,1223.8L1244,1223.4L1246,1223.2L1248,1223L1250,1223.1L1252,1223.2L1254,1223.3L1256,1223.6L1258,1223.9L1260,1224.2L1262,1224.6L1264,1225.1L1266,1225.5L1268,1226L1270,1226.5L1272,1227L1274,1227.4L1276,1227.9L1278,1228.3L1280,1228.7L1282,1229.2L1284,1229.7L1286,1230.2L1288,1230.7L1290,1231.2L1292,1231.7L1294,1232.2L1296,1232.6L1298,1232.9L1300,1233.2L1302,1233.5L1304,1233.8L1306,1234.1L1308,1234.3L1310,1234.6L1312,1234.8L1314,1235.1L1316,1235.3L1318,1235.4L1320,1235.6L1322,1235.8L1324,1235.9L1326,1236L1328,1236L1328,1252.1Z" fill="#8c0000"/>
</g>
<g clip-path="url(#c3)" stroke-linejoin="round">
<rect x="420.0" y="1542.2" width="906.7" height="353.0" fill="#ffcdb3"/>
<path d="M419.4,1541.3L655.3,1541.3L643.8,1555.4L633.2,1569.6L624.3,1575.7L617.3,1574.9L603.1,1566.9L585.5,1564.3L564.3,1563.4L546.6,1566.9L534.2,1575.7L521.9,1581L520.1,1590.8L514.8,1599.6L506,1606.7L496.3,1612.8L490.1,1630L476,1622.6L464.5,1626.1L458.3,1642L452.1,1651.2L444.2,1643.8L435.3,1629.6L419.4,1612.8Z" fill="#ffebd6" stroke="#ffebd6" stroke-width="1"/>
<path d="M730.7,1541.3L739.5,1548.4L755.4,1551L768.7,1558.1L776.6,1552.8L789,1548.4L799.6,1551L812,1560.7L829.6,1571.3L847.3,1580.2L857.9,1587.2L864.1,1597.8L874.7,1608.4L885.3,1614.6L894.2,1614.6L903,1620.8L913.6,1629.6L920.7,1631.4L929.5,1627.9L941.9,1623.4L956,1613.7L973.7,1603.1L991.3,1596.9L1003.7,1592.5L1017.8,1581L1033.7,1574L1049.6,1567.8L1062,1563.9L1074.3,1562.1L1088.5,1563.4L1104.4,1568.7L1111.4,1580.2L1117.6,1588.1L1124.7,1586.3L1130.9,1570.4L1139.7,1553.7L1143.2,1541.3Z" fill="#ffebd6" stroke="#ffebd6" stroke-width="1"/>
<path d="M1160.1,1541.3L1163.7,1546.6L1179.5,1545.7L1191.9,1553.7L1199,1554.5L1206,1551.9L1212.2,1558.1L1218.4,1560.7L1225.5,1558.1L1231.7,1551L1239.6,1547.5L1252,1548.4L1264.3,1553.7L1276.7,1562.5L1287.3,1574L1294.4,1585.5L1299.7,1596.1L1308.5,1604.9L1317.3,1609.3L1327.9,1608.4L1327.9,1541.3Z" fill="#ffebd6" stroke="#ffebd6" stroke-width="1"/>
<path d="M499.8,1819.5L502.5,1806.3L505.1,1783.3L508.6,1761.2L513.1,1783.3L517.5,1790.4L521.9,1786.8L530.7,1772.7L539.5,1760.3L546.6,1762.1L553.7,1753.3L562.5,1742.7L576.6,1738.3L585.5,1734.7L610.2,1732.1L621.2,1721.5L631.8,1714.8L644.2,1714.4L653,1719.7L660.9,1723.6L668,1709.1L673.8,1692.3L680.4,1695L684.8,1712.6L691.9,1732.1L698,1753.3L701.6,1783.3L702.5,1818.6L699.8,1854L696.3,1880.5L692.7,1896.4L626.3,1895.8L615.8,1891.4L601.8,1887L587.7,1881.8L573.7,1876.5L559.6,1872.1L546.5,1875.6L527.5,1870.4L527.5,1859.3L506,1859.3Z" fill="#ffebd6" stroke="#ffebd6" stroke-width="1"/>
<path d="M721.9,1896.4L723.7,1869.9L721.9,1854L723.7,1818.6L727.2,1792.1L731.6,1770.9L736,1763.9L750.1,1764.8L762.5,1757.7L769.6,1763L776.6,1762.1L783.7,1755L799.6,1748L820.8,1742.7L833.2,1735.6L847.3,1719.7L857.1,1701.2L871.2,1692.3L881.8,1679.1L892.4,1672L903,1661.4L913.6,1652.6L920.7,1651.7L929.5,1655.2L940.1,1660.5L947.2,1668.5L954.2,1682.6L959.5,1693.2L973.7,1701.2L991.3,1710.9L1009,1719.7L1019.6,1732.1L1026.6,1748L1033.7,1769.2L1037.2,1792.1L1042.5,1818.6L1049.6,1839.8L1060.2,1852.2L1051.4,1862.8L1040.8,1871.6L1026.6,1882.2L1009,1889.3L1000.1,1896.4Z" fill="#ffebd6" stroke="#ffebd6" stroke-width="1"/>
<path d="M419.4,1541.3L493.6,1541.3L496.3,1589L490.1,1607.5L476,1606.7L465.4,1612L458.3,1627.9L452.1,1643.4L444.2,1627.9L435.3,1613.7L419.4,1598.7Z" fill="#d6ebff" stroke="#d6ebff" stroke-width="1"/>
<path d="M1307.6,1541.3L1312,1557.2L1315.6,1571.3L1319.1,1591.6L1327.9,1593.4L1327.9,1541.3Z" fill="#d6ebff" stroke="#d6ebff" stroke-width="1"/>
<path d="M501,1819.5L504.2,1804.5L506.9,1783.3L508.6,1770.9L513.1,1790.4L516.6,1799.2L521.9,1796.5L530.7,1781.5L539.5,1767.4L547.5,1767.4L553.7,1761.2L566,1752.4L583.7,1747.1L610.6,1742.7L623,1733.8L635.3,1730.3L647.7,1732.1L660.9,1743.6L668.9,1726.8L673.8,1710L680.4,1714.4L684.8,1730.3L690.1,1744.4L695.4,1765.6L698.9,1792.1L700.7,1818.6L698.9,1854L694.5,1880.5L691,1896.4L657.9,1895.8L643.9,1892.3L626.3,1889.6L608.8,1885.3L591.2,1879.1L573.7,1872.1L559.6,1869.5L547.4,1871.2L527.5,1867.7L527.5,1859.3L506,1859.3Z" fill="#d6ebff" stroke="#d6ebff" stroke-width="1"/>
<path d="M724.5,1868.1L723.7,1854L725.4,1818.6L728.9,1792.1L732.5,1776.2L737.8,1769.2L755.4,1771.8L762.5,1766.5L769.6,1776.2L776.6,1771.8L787.2,1763.9L803.1,1756.8L820.8,1751.5L834.9,1746.2L847.3,1733.8L857.1,1716.2L867.7,1708.2L885.3,1700.3L903,1694.1L915.4,1687.9L927.7,1693.2L941.9,1696.7L956,1703.8L973.7,1713.5L991.3,1723.2L1005.4,1732.1L1012.5,1740.9L1019.6,1756.8L1026.6,1772.7L1033.7,1797.4L1039,1822.2L1044.3,1843.4L1053.1,1854L1046.1,1862.8L1033.7,1873.4L1017.8,1882.2L1000.1,1887.5L982.5,1896.4L725.8,1896.4Z" fill="#d6ebff" stroke="#d6ebff" stroke-width="1"/>
<path d="M435.3,1541.3L454.8,1541.3L461.8,1566L471.5,1592.5L462.7,1597.8L458.3,1606.7L452.1,1622.9L444.2,1613.7L429.7,1592.5L432.7,1557.2Z" fill="#b3cdff" stroke="#b3cdff" stroke-width="1"/>
<path d="M502.1,1819.5L506,1801L508.6,1790.4L514.8,1812.4L521.9,1800.1L530.7,1789.5L540.4,1773.6L550.1,1771.8L566,1763.9L585.5,1759.5L610.6,1753.3L623,1746.2L635.3,1741.8L647.7,1743.6L660.9,1752.4L668,1747.1L673.8,1727.7L680.4,1733.8L683,1743.6L680.4,1756.8L677.7,1783.3L674.2,1818.6L670.7,1854L668,1871.6L661.4,1885.3L649.1,1887L633.3,1885.3L614,1881.8L594.7,1875.6L575.4,1867.7L559.6,1865.1L547.4,1867.7L527.5,1862.5L527.5,1859.3L506,1859.3Z" fill="#b3cdff" stroke="#b3cdff" stroke-width="1"/>
<path d="M688.3,1836.3L691.9,1788.6L696.3,1818.6L698.9,1845.1L695.4,1871.6L691.9,1882.2Z" fill="#b3cdff" stroke="#b3cdff" stroke-width="1"/>
<path d="M727.2,1866.3L726.3,1854L728.1,1818.6L731.6,1792.1L735.1,1783.3L739.5,1780.7L755.4,1781.5L762.5,1777.1L768.7,1789.5L778.4,1783.3L790.8,1774.5L806.7,1768.3L826.1,1760.3L843.8,1749.7L857.1,1737.4L864.1,1730.3L876.5,1717.1L894.2,1708.2L915.4,1702L934.8,1704.7L952.5,1710.9L970.1,1721.5L987.8,1733L1000.1,1742.7L1009,1751.5L1016,1767.4L1023.1,1783.3L1030.2,1806.3L1035.5,1827.5L1042.5,1852.2L1033.7,1862.8L1017.8,1873.4L1000.1,1878.7L982.5,1885.8L970.1,1896.4L729.8,1896.4Z" fill="#b3cdff" stroke="#b3cdff" stroke-width="1"/>
<path d="M504.2,1819.5L507.8,1797.4L514.8,1813.3L523.7,1808.9L534.2,1797.4L541.3,1792.1L550.1,1796.5L559,1796.5L576.6,1788.6L594.3,1783.3L611.7,1778L623,1769.2L635.3,1765.6L647.7,1766.5L660.9,1772.7L667.1,1783.3L670.7,1809.8L672.4,1827.5L668.9,1854L663.5,1871.6L661.4,1875.6L652.6,1874.7L640.4,1871.2L622.8,1864.2L605.3,1859.8L587.7,1857.2L570.2,1853.7L557.9,1850.2L545.6,1861.6L527.5,1858.1L508.6,1859.3L508.6,1819.5Z" fill="#84aaff" stroke="#84aaff" stroke-width="1"/>
<path d="M691,1857.5L692.7,1846.9L695.4,1859.3L692.7,1866.3Z" fill="#84aaff" stroke="#84aaff" stroke-width="1"/>
<path d="M730.7,1818.6L736,1799.2L744.8,1794.8L750.1,1794.8L757.2,1799.2L762.5,1796.5L768.7,1814.2L776.6,1804.5L787.2,1792.1L803.1,1786L829.6,1778L847.3,1767.4L858.8,1757.7L871.2,1748L885.3,1739.1L899.5,1730.3L913.6,1724.1L929.5,1724.1L945.4,1728.5L959.5,1735.6L970.1,1744.4L987.8,1753.3L1000.1,1761.2L1009,1770.9L1017.8,1788.6L1026.6,1813.3L1027.5,1822.2L1022.2,1843.4L1016,1852.2L1000.1,1857.5L982.5,1862.8L964.8,1868.1L948.9,1873.4L933,1882.2L920.7,1896.4L794.3,1896.4L787.2,1871.6L776.6,1864.6L767.8,1859.3L755.4,1861L750.1,1869L741.3,1866.3L734.2,1861L731.6,1845.1Z" fill="#84aaff" stroke="#84aaff" stroke-width="1"/>
<path d="M580.2,1819.5L594.3,1815.1L612,1808.9L622.6,1801L634.9,1796.5L647.3,1794.8L656.1,1797.4L661.4,1801L665,1818.6L664.1,1839.8L661.4,1861L647.3,1856.6L629.6,1850.4L620.8,1843.4L612,1836.3L603.1,1829.2L590.8,1823.9Z" fill="#4477ff" stroke="#4477ff" stroke-width="1"/>
<path d="M512.3,1857.8L515.7,1834.5L521.5,1857.8Z" fill="#4477ff" stroke="#4477ff" stroke-width="1"/>
<path d="M513.9,1857.8L515.2,1846.9L518,1857.8Z" fill="#1c4fff" stroke="#1c4fff" stroke-width="1"/>
<path d="M740.4,1820.4L744,1815.1L750.1,1814.2L755.1,1819.5L751.9,1832.8L749.8,1839.8L743.1,1834.5Z" fill="#4477ff" stroke="#4477ff" stroke-width="1"/>
<path d="M767.8,1854.8L774.9,1852.2L776.6,1836.3L783.7,1816.9L787.2,1810.7L794.3,1810.7L812,1802.7L838.5,1795.7L850,1790.4L858.8,1785.1L871.2,1773.6L885.3,1764.8L903,1756.8L920.7,1754.2L938.3,1755L952.5,1759.5L966.6,1765.6L980.7,1774.5L991.3,1783.3L1000.1,1792.1L1009,1806.3L1015.2,1819.5L1010.7,1834.5L1001.9,1845.1L991.3,1849.5L973.7,1853.1L956,1854L938.3,1857.5L926,1861L911.8,1868.1L894.2,1875.2L881.8,1881.3L871.2,1882.2L857.1,1876L847.3,1877.8L836.7,1880.5L824.3,1882.2L808.4,1871.6L794.3,1866.3L785.5,1859.3L767.8,1855.7Z" fill="#4477ff" stroke="#4477ff" stroke-width="1"/>
<path d="M812,1819.5L829.6,1815.1L847.3,1812.4L857.1,1812.4L867.7,1801L878.3,1792.1L894.2,1785.1L911.8,1778.9L929.5,1777.6L947.2,1780.7L964.8,1788.6L978.9,1797.4L991.3,1808.9L1000.1,1819.5L993.1,1831L982.5,1838.1L964.8,1843.4L947.2,1846L929.5,1846.9L911.8,1847.8L894.2,1849.5L876.5,1850.4L864.1,1846.9L857.1,1842.5L845.5,1849.5L834.9,1846.9L822.6,1838.1L814.6,1829.2Z" fill="#1c4fff" stroke="#1c4fff" stroke-width="1"/>
<path d="M870.3,1819.5L881.8,1811.6L899.5,1805.4L917.1,1801.5L934.8,1801L948.9,1804.5L963.1,1810.7L973.7,1816.9L979.8,1819.9L971.9,1825.7L959.5,1830.1L941.9,1833.6L920.7,1834.5L899.5,1832.8L885.3,1829.2L876.5,1825.7Z" fill="#002ce0" stroke="#002ce0" stroke-width="1"/>
<path d="M757.2,1896.4L763.4,1885.8L768.7,1879.6L779.3,1878.7L787.2,1885.8L793.4,1896.4Z" fill="#d6ebff" stroke="#d6ebff" stroke-width="1"/>
<path d="M759.9,1896.4L765.2,1886.6L769.6,1881.3L778.4,1880.5L785.5,1886.6L790.8,1896.4Z" fill="#ffebd6" stroke="#ffebd6" stroke-width="1"/>
<path d="M763.2,1896.4L767.8,1886.6L772.2,1883.1L777.5,1883.1L784.1,1889.3L789.5,1896.4Z" fill="#ffcdb3" stroke="#ffcdb3" stroke-width="1"/>
<path d="M766.9,1896.4L770.5,1890.2L776.6,1889.3L781.9,1896.4Z" fill="#ffaa84" stroke="#ffaa84" stroke-width="1"/>
<path d="M671.5,1896.4L675.1,1854L678.6,1818.6L680.4,1790.4L683,1818.6L686.6,1854L690.1,1882.2L691,1896.4Z" fill="#ffebd6" stroke="#ffebd6" stroke-width="1"/>
<path d="M674.2,1896.4L677.7,1854L680.4,1818.6L683,1854L688.3,1896.4Z" fill="#ffcdb3" stroke="#ffcdb3" stroke-width="1"/>
<path d="M676,1896.4L678.6,1862.8L680.4,1843.4L682.7,1862.8L685.7,1896.4Z" fill="#ffaa84" stroke="#ffaa84" stroke-width="1"/>
<path d="M677.4,1896.4L679.5,1871.6L680.4,1861L682.1,1871.6L683.9,1896.4Z" fill="#ff7744" stroke="#ff7744" stroke-width="1"/>
<path d="M678.6,1896.4L680.4,1878.7L682.1,1896.4Z" fill="#ff4f1c" stroke="#ff4f1c" stroke-width="1"/>
<path d="M419.4,1641.1L435.3,1657.9L445,1667.6L452.1,1666.7L463.6,1650.8L476,1648.2L489.2,1655.8L496.3,1647.3L502.5,1644.6L514.8,1646.4L521.9,1622.6L534.2,1619.9L569.6,1618.7L592.5,1621.7L603.1,1629.6L614.1,1642.9L616.4,1670.2L619,1692.3L608.4,1700.3L590.8,1708.2L560.7,1711.8L551.9,1719.7L540.4,1729.4L536,1748L527.2,1765.6L521.9,1771.8L514.8,1767.4L508.6,1746.2L502.5,1760.3L501.6,1783.3L499.8,1806.3L496.3,1819.5L490.1,1819.5L490.1,1896.4L419.4,1896.4Z" fill="#ffaa84" stroke="#ffaa84" stroke-width="1"/>
<path d="M656.5,1590.8L661.8,1582.8L672.4,1581L683,1574L695.4,1568.7L709.5,1565.1L718.4,1564.3L723.7,1571.3L736,1586.3L743.1,1585.8L753.7,1592.5L762.5,1603.1L768.7,1613.7L774.9,1605.8L787.2,1598.7L794.3,1601.4L803.1,1610.2L819,1628.7L833.2,1634.9L844.7,1642L841.1,1663.2L836.7,1695L826.1,1702L812,1710L794.3,1723.2L781.9,1730.3L774.9,1743.6L768.7,1728.5L762.5,1730.3L759.9,1742.7L750.1,1750.6L739.5,1746.2L730.7,1748.9L723.7,1741.8L718.4,1753.3L716.6,1783.3L715.7,1818.6L713.1,1854L723.7,1869.9L730.7,1896.4L693.6,1896.4L698.9,1871.6L702.5,1854L704.2,1818.6L706,1783.3L706,1748L702.5,1723.2L698.9,1710L691.9,1700.3L684.8,1684.4L679.5,1659.7L673.3,1653.5L667.1,1670.2L660.9,1690.6L654.8,1680.8L649.5,1642L651.2,1620.8Z" fill="#ffaa84" stroke="#ffaa84" stroke-width="1"/>
<path d="M999.3,1642.9L1012.5,1635.8L1026.6,1628.7L1040,1624.3L1054.1,1620.8L1071.8,1616.4L1093,1615.5L1110.7,1617.3L1119.5,1612.8L1128.3,1605.8L1137.2,1601.4L1142.5,1590.8L1148.6,1579.3L1155.7,1590.8L1161.9,1594.3L1174.2,1594.3L1186.6,1598.7L1199,1604L1209.6,1609.3L1218.4,1610.2L1227.2,1605.8L1234.3,1600.5L1243.1,1599.6L1252,1605.8L1260.8,1617.3L1269.6,1629.6L1276.7,1640.2L1287.3,1645.5L1301.4,1648.2L1313.8,1645.5L1327.9,1640.2L1327.9,1896.4L1064.7,1896.4L1066.5,1889.3L1068.3,1871.6L1070.9,1852.2L1061.2,1839.8L1050.6,1820.4L1047.1,1797.4L1043.5,1774.5L1039,1748L1033.7,1730.3L1028.4,1714.4L1017.8,1702L1006.3,1693.2L1004.6,1677.3L1001.9,1663.2Z" fill="#ffaa84" stroke="#ffaa84" stroke-width="1"/>
<path d="M527.5,1874.7L543.9,1880.9L557.9,1878.2L570.2,1882.6L582.5,1887L594.7,1892.3L600.9,1896.7L527.5,1896.7Z" fill="#ffaa84" stroke="#ffaa84" stroke-width="1"/>
<path d="M527.5,1880L540.4,1887L552.6,1885.3L561.4,1889.6L569.3,1896.7L527.5,1896.7Z" fill="#ff7744" stroke="#ff7744" stroke-width="1"/>
<path d="M527.5,1884.4L535.1,1889.6L540,1896.7L527.5,1896.7Z" fill="#ff4f1c" stroke="#ff4f1c" stroke-width="1"/>
<path d="M527.5,1887.9L532.5,1892.3L534.6,1896.7L527.5,1896.7Z" fill="#e03000" stroke="#e03000" stroke-width="1"/>
<path d="M1205.7,1859.3L1201.6,1836.3L1198.1,1818.6L1206,1801L1214.9,1786.8L1224.6,1773.6L1229.9,1781.5L1237.8,1784.2L1246.7,1774.5L1257.3,1766.5L1269.6,1772.7L1283.8,1783.3L1294.4,1797.4L1305,1806.3L1315.6,1809.8L1327.9,1808.9L1327.9,1896.4L1205.7,1896.4Z" fill="#ffcdb3" stroke="#ffcdb3" stroke-width="1"/>
<path d="M1224.6,1788.6L1216.6,1797.4L1209.6,1811.6L1206.9,1825.7L1207.8,1839.8L1206,1859.3L1208.7,1871.6L1214.9,1884.9L1225.5,1888.4L1231.7,1882.2L1237,1896.4L1296.1,1896.4L1301.4,1884.9L1308.5,1871.6L1313.8,1857.5L1310.3,1848.7L1301.4,1836.3L1292.6,1820.4L1283.8,1806.3L1273.2,1793.9L1262.6,1789.5L1252,1794.8L1243.1,1802.7L1229.9,1796.5Z" fill="#ffebd6" stroke="#ffebd6" stroke-width="1"/>
<path d="M1224.6,1795.7L1218.4,1804.5L1213.1,1818.6L1210.5,1836.3L1209.6,1857.5L1212.2,1871.6L1216.6,1882.2L1225.5,1884.9L1231.7,1878.7L1239.6,1889.3L1243.1,1896.4L1287.3,1896.4L1294.4,1882.2L1301.4,1868.1L1304.1,1854L1296.1,1839.8L1289.1,1825.7L1282,1811.6L1273.2,1801.8L1262.6,1798.3L1252,1802.7L1243.1,1810.7L1230.8,1804.5Z" fill="#d6ebff" stroke="#d6ebff" stroke-width="1"/>
<path d="M1224.6,1802.7L1220.2,1811.6L1216.6,1825.7L1214,1843.4L1213.1,1857.5L1215.8,1871.6L1223.7,1879.6L1232.5,1875.2L1239.6,1882.2L1248.4,1891.1L1260.8,1887.5L1274.9,1876.9L1287.3,1862.8L1295.3,1856.6L1287.3,1843.4L1280.2,1829.2L1274.9,1818.6L1267.9,1813.3L1259,1812.4L1250.2,1818.6L1243.1,1823L1232.5,1813.3Z" fill="#b3cdff" stroke="#b3cdff" stroke-width="1"/>
<path d="M1224.6,1816L1221.1,1825.7L1218.4,1843.4L1214.9,1857.5L1218.4,1866.3L1224.6,1869.9L1232.5,1862.8L1244.9,1865.4L1253.7,1856.6L1243.1,1848.7L1232.5,1845.1L1229,1832.8Z" fill="#84aaff" stroke="#84aaff" stroke-width="1"/>
<path d="M1223.7,1855.7L1225.1,1850.4L1226.9,1856.6L1225.1,1859.3Z" fill="#4477ff" stroke="#4477ff" stroke-width="1"/>
<path d="M419.4,1680L438,1693.2L432.7,1710.9L426.5,1723.2L419.4,1725Z" fill="#ff7744" stroke="#ff7744" stroke-width="1"/>
<path d="M448.6,1691.4L456.5,1677.3L465.4,1671.1L477.7,1672L489.2,1681.7L502.5,1670.2L509.5,1680.8L515.7,1692.3L521.9,1672.9L528.1,1667.1L535.1,1680.8L541.3,1692.3L536,1702L532.5,1721.5L528.9,1742.7L521.9,1751.9L514.8,1747.1L512.2,1730.3L509.5,1711.8L502.5,1720.6L489.2,1716.2L486.6,1742.7L490.1,1765.6L493.6,1792.1L496.3,1816.9L490.1,1819.5L490.1,1859.3L445.6,1859.3L445.6,1871.6L439.7,1854L437.1,1818.6L439.7,1783.3L445,1748L447.7,1712.6Z" fill="#ff7744" stroke="#ff7744" stroke-width="1"/>
<path d="M701.6,1642L709.5,1624.3L718,1613.7L723.7,1626.1L730.7,1629.6L736.9,1639.3L744,1639.3L747.5,1645.5L750.1,1670.2L750.5,1692.3L744,1698.5L737.8,1691.4L736.9,1680.8L736,1693.2L730.7,1697.6L726.3,1689.7L724.5,1683.5L718.4,1693.2L712.2,1682.6L706,1652.6Z" fill="#ff7744" stroke="#ff7744" stroke-width="1"/>
<path d="M703.3,1896.4L707.8,1871.6L711.6,1856.6L715.7,1871.6L720.1,1896.4Z" fill="#ff7744" stroke="#ff7744" stroke-width="1"/>
<path d="M1059.4,1739.1L1063,1712.6L1070,1695L1080.6,1677.3L1093,1666.7L1107.1,1657.9L1116,1649.1L1123,1638.5L1130.1,1633.2L1137.2,1631.4L1142.5,1620.8L1148.6,1613.4L1154.8,1617.3L1161.9,1621.7L1174.2,1623.4L1181.3,1627.9L1188.4,1634.9L1195.4,1643.8L1205.2,1652.6L1212.2,1666.7L1223.7,1656.1L1230.8,1642.9L1238.7,1642L1244.9,1659.7L1250.2,1677.3L1252.9,1693.2L1250.2,1712.6L1247.6,1744.4L1238.7,1755.9L1225.5,1751.5L1218.4,1755L1206,1755L1195.4,1765.6L1190.1,1783.3L1184.8,1818.6L1186.6,1845.1L1189.3,1854L1205.7,1859.3L1130.4,1859.3L1130.4,1896.4L1126.6,1896.4L1124.8,1871.6L1119.5,1876L1110.7,1879.6L1098.3,1876L1091.2,1868.1L1082.4,1854L1071.8,1839.8L1061.2,1818.6L1061.2,1783.3Z" fill="#ff7744" stroke="#ff7744" stroke-width="1"/>
<path d="M1327.9,1680L1312,1685.3L1293.5,1693.2L1295.3,1700.3L1301.4,1708.2L1315.6,1711.8L1327.9,1717.9Z" fill="#ff7744" stroke="#ff7744" stroke-width="1"/>
<path d="M464.5,1693.2L470.7,1691.8L477.2,1693.2L474.2,1703.8L470.7,1716.2L469.8,1730.3L468,1742.7L477.7,1755L483.9,1770.9L489.2,1790.4L492.7,1811.6L494.5,1819.5L490.1,1819.5L490.1,1859.3L445.6,1859.3L446.3,1818.6L449.5,1792.1L452.1,1765.6L456.5,1753.3L461.8,1739.1L462.7,1712.6Z" fill="#ff4f1c" stroke="#ff4f1c" stroke-width="1"/>
<path d="M706.9,1896.4L711.6,1871.6L715.7,1896.4Z" fill="#ff4f1c" stroke="#ff4f1c" stroke-width="1"/>
<path d="M1078.9,1816.9L1084.2,1783.3L1089.5,1744.4L1100.1,1721.5L1110.7,1695L1123,1663.2L1131.9,1654.4L1138.9,1649.1L1148.6,1639.3L1154.8,1643.8L1161.9,1649.1L1174.2,1653.5L1181.3,1663.2L1186.6,1670.2L1190.1,1680.8L1193.3,1693.2L1190.1,1712.6L1186.6,1744.4L1180.4,1764.8L1168.1,1758.2L1166.3,1783.3L1163.7,1818.6L1170.7,1829.2L1177.8,1839.8L1183.1,1859.3L1130.4,1859.3L1130.4,1896.4L1126.9,1896.4L1125.7,1871.6L1123,1854L1112.4,1863.7L1105.4,1864.6L1098.3,1852.2L1093,1832.8Z" fill="#ff4f1c" stroke="#ff4f1c" stroke-width="1"/>
<path d="M463.2,1818.6L468.9,1804.5L474.2,1801.5L479.5,1804.5L488.3,1815.1L490.1,1819.5L490.1,1859.3L463.2,1859.3L462.7,1836.3Z" fill="#e03000" stroke="#e03000" stroke-width="1"/>
<path d="M451.2,1819.5L452.5,1814.2L454.8,1819.5L452.5,1826.6Z" fill="#e03000" stroke="#e03000" stroke-width="1"/>
<path d="M1123.9,1693.2L1136.3,1676.4L1143.3,1675.5L1149.5,1669.4L1161.9,1680.8L1176,1691.4L1176,1695L1163.7,1705.6L1160.1,1710.9L1155.7,1725L1149.5,1724.1L1144.2,1717.9L1141.6,1719.7L1139.8,1730.3L1138.9,1748L1138.9,1783.3L1138.9,1825.7L1146,1831L1154.8,1827.5L1163.7,1834.5L1172.5,1843.4L1179.5,1854L1181.3,1859.3L1130.4,1859.3L1130.4,1896.4L1128.3,1896.4L1126.6,1857.5L1126.6,1827.5L1125.7,1801L1123,1774.5L1120.4,1748L1120.4,1730.3L1123,1712.6Z" fill="#e03000" stroke="#e03000" stroke-width="1"/>
<path d="M1142.5,1795.7L1148.6,1818.6L1143.3,1820.4Z" fill="#ff7744" stroke="#ff7744" stroke-width="1"/>
<path d="M470.7,1859.3L476,1850.4L484.8,1843.4L490.1,1832.8L490.1,1859.3Z" fill="#b82400" stroke="#b82400" stroke-width="1"/>
<path d="M1136.3,1786.8L1138.9,1825.7L1144.2,1836.3L1154.8,1839.8L1163.7,1843.4L1170.7,1850.4L1174.2,1859.3L1130.4,1859.3L1131,1845.1L1133.6,1818.6Z" fill="#b82400" stroke="#b82400" stroke-width="1"/>
<path d="M484.8,1859.3L490.1,1843.4L490.1,1859.3Z" fill="#8c0000" stroke="#8c0000" stroke-width="1"/>
<path d="M1136.3,1825.7L1140.7,1839.8L1149.5,1848.7L1160.1,1850.4L1167.2,1852.2L1170.7,1859.3L1130.4,1859.3L1133.6,1836.3Z" fill="#8c0000" stroke="#8c0000" stroke-width="1"/>
</g>
<rect x="445.6" y="1857.4" width="81.9" height="37.8" fill="#000"/>
<rect x="490.1" y="1819.6" width="18.5" height="75.6" fill="#000"/>
<rect x="1130.4" y="1857.4" width="75.3" height="37.8" fill="#000"/>
<rect x="420.0" y="246.0" width="906.7" height="353.0" fill="none" stroke="#000" stroke-width="3.1"/>
<path d="M420,225L420,246" stroke="#000" stroke-width="3.1" fill="none" stroke-linecap="round"/>
<path d="M420,599L420,620" stroke="#000" stroke-width="3.1" fill="none" stroke-linecap="round"/>
<path d="M495.8,235L495.8,246" stroke="#000" stroke-width="1.6" fill="none" stroke-linecap="round"/>
<path d="M495.8,599L495.8,610" stroke="#000" stroke-width="1.6" fill="none" stroke-linecap="round"/>
<path d="M571.6,225L571.6,246" stroke="#000" stroke-width="3.1" fill="none" stroke-linecap="round"/>
<path d="M571.6,599L571.6,620" stroke="#000" stroke-width="3.1" fill="none" stroke-linecap="round"/>
<path d="M647.5,235L647.5,246" stroke="#000" stroke-width="1.6" fill="none" stroke-linecap="round"/>
<path d="M647.5,599L647.5,610" stroke="#000" stroke-width="1.6" fill="none" stroke-linecap="round"/>
<path d="M723.3,225L723.3,246" stroke="#000" stroke-width="3.1" fill="none" stroke-linecap="round"/>
<path d="M723.3,599L723.3,620" stroke="#000" stroke-width="3.1" fill="none" stroke-linecap="round"/>
<path d="M799.1,235L799.1,246" stroke="#000" stroke-width="1.6" fill="none" stroke-linecap="round"/>
<path d="M799.1,599L799.1,610" stroke="#000" stroke-width="1.6" fill="none" stroke-linecap="round"/>
<path d="M874.9,225L874.9,246" stroke="#000" stroke-width="3.1" fill="none" stroke-linecap="round"/>
<path d="M874.9,599L874.9,620" stroke="#000" stroke-width="3.1" fill="none" stroke-linecap="round"/>
<path d="M950.8,235L950.8,246" stroke="#000" stroke-width="1.6" fill="none" stroke-linecap="round"/>
<path d="M950.8,599L950.8,610" stroke="#000" stroke-width="1.6" fill="none" stroke-linecap="round"/>
<path d="M1026.6,225L1026.6,246" stroke="#000" stroke-width="3.1" fill="none" stroke-linecap="round"/>
<path d="M1026.6,599L1026.6,620" stroke="#000" stroke-width="3.1" fill="none" stroke-linecap="round"/>
<path d="M1102.4,235L1102.4,246" stroke="#000" stroke-width="1.6" fill="none" stroke-linecap="round"/>
<path d="M1102.4,599L1102.4,610" stroke="#000" stroke-width="1.6" fill="none" stroke-linecap="round"/>
<path d="M1178.2,225L1178.2,246" stroke="#000" stroke-width="3.1" fill="none" stroke-linecap="round"/>
<path d="M1178.2,599L1178.2,620" stroke="#000" stroke-width="3.1" fill="none" stroke-linecap="round"/>
<path d="M1254,235L1254,246" stroke="#000" stroke-width="1.6" fill="none" stroke-linecap="round"/>
<path d="M1254,599L1254,610" stroke="#000" stroke-width="1.6" fill="none" stroke-linecap="round"/>
<path d="M399,246L420,246" stroke="#000" stroke-width="3.1" fill="none" stroke-linecap="round"/>
<text x="336.6" y="254.8" font-size="25" text-anchor="start" textLength="48.6" lengthAdjust="spacingAndGlyphs" stroke="#fff" stroke-width="0.25">300</text>
<path d="M399,296.4L420,296.4" stroke="#000" stroke-width="3.1" fill="none" stroke-linecap="round"/>
<text x="336.6" y="305.2" font-size="25" text-anchor="start" textLength="48.6" lengthAdjust="spacingAndGlyphs" stroke="#fff" stroke-width="0.25">400</text>
<path d="M399,346.9L420,346.9" stroke="#000" stroke-width="3.1" fill="none" stroke-linecap="round"/>
<text x="336.6" y="355.7" font-size="25" text-anchor="start" textLength="48.6" lengthAdjust="spacingAndGlyphs" stroke="#fff" stroke-width="0.25">500</text>
<path d="M399,447.7L420,447.7" stroke="#000" stroke-width="3.1" fill="none" stroke-linecap="round"/>
<text x="336.6" y="456.5" font-size="25" text-anchor="start" textLength="48.6" lengthAdjust="spacingAndGlyphs" stroke="#fff" stroke-width="0.25">700</text>
<path d="M399,523.4L420,523.4" stroke="#000" stroke-width="3.1" fill="none" stroke-linecap="round"/>
<text x="336.6" y="532.2" font-size="25" text-anchor="start" textLength="48.6" lengthAdjust="spacingAndGlyphs" stroke="#fff" stroke-width="0.25">850</text>
<path d="M399,599L420,599" stroke="#000" stroke-width="3.1" fill="none" stroke-linecap="round"/>
<text x="322.6" y="607.8" font-size="25" text-anchor="start" textLength="62.6" lengthAdjust="spacingAndGlyphs" stroke="#fff" stroke-width="0.25">1000</text>
<path d="M1326.7,275.2L1347.7,275.2" stroke="#000" stroke-width="3.1" fill="none" stroke-linecap="round"/>
<text x="1361.8" y="284" font-size="25" text-anchor="start" textLength="16.5" lengthAdjust="spacingAndGlyphs" stroke="#fff" stroke-width="0.25">8</text>
<path d="M1326.7,405.2L1347.7,405.2" stroke="#000" stroke-width="3.1" fill="none" stroke-linecap="round"/>
<text x="1361.8" y="414" font-size="25" text-anchor="start" textLength="16.5" lengthAdjust="spacingAndGlyphs" stroke="#fff" stroke-width="0.25">4</text>
<text x="411.7" y="654.7" font-size="25.2" text-anchor="start" textLength="16.6" lengthAdjust="spacingAndGlyphs" stroke="#fff" stroke-width="0.25">0</text>
<text x="547.8" y="654.7" font-size="25.2" text-anchor="start" textLength="47.6" lengthAdjust="spacingAndGlyphs" stroke="#fff" stroke-width="0.25">60E</text>
<text x="691.5" y="654.7" font-size="25.2" text-anchor="start" textLength="63.6" lengthAdjust="spacingAndGlyphs" stroke="#fff" stroke-width="0.25">120E</text>
<text x="850.9" y="654.7" font-size="25.2" text-anchor="start" textLength="48.1" lengthAdjust="spacingAndGlyphs" stroke="#fff" stroke-width="0.25">180</text>
<text x="992" y="654.7" font-size="25.2" text-anchor="start" textLength="69.1" lengthAdjust="spacingAndGlyphs" stroke="#fff" stroke-width="0.25">120W</text>
<text x="1152.4" y="654.7" font-size="25.2" text-anchor="start" textLength="51.6" lengthAdjust="spacingAndGlyphs" stroke="#fff" stroke-width="0.25">60W</text>
<rect x="420.0" y="894.1" width="906.7" height="353.0" fill="none" stroke="#000" stroke-width="3.1"/>
<path d="M420,873.1L420,894.1" stroke="#000" stroke-width="3.1" fill="none" stroke-linecap="round"/>
<path d="M420,1247.1L420,1268.1" stroke="#000" stroke-width="3.1" fill="none" stroke-linecap="round"/>
<path d="M496.1,883.1L496.1,894.1" stroke="#000" stroke-width="1.6" fill="none" stroke-linecap="round"/>
<path d="M496.1,1247.1L496.1,1258.1" stroke="#000" stroke-width="1.6" fill="none" stroke-linecap="round"/>
<path d="M572.2,873.1L572.2,894.1" stroke="#000" stroke-width="3.1" fill="none" stroke-linecap="round"/>
<path d="M572.2,1247.1L572.2,1268.1" stroke="#000" stroke-width="3.1" fill="none" stroke-linecap="round"/>
<path d="M648.3,883.1L648.3,894.1" stroke="#000" stroke-width="1.6" fill="none" stroke-linecap="round"/>
<path d="M648.3,1247.1L648.3,1258.1" stroke="#000" stroke-width="1.6" fill="none" stroke-linecap="round"/>
<path d="M724.3,873.1L724.3,894.1" stroke="#000" stroke-width="3.1" fill="none" stroke-linecap="round"/>
<path d="M724.3,1247.1L724.3,1268.1" stroke="#000" stroke-width="3.1" fill="none" stroke-linecap="round"/>
<path d="M800.4,883.1L800.4,894.1" stroke="#000" stroke-width="1.6" fill="none" stroke-linecap="round"/>
<path d="M800.4,1247.1L800.4,1258.1" stroke="#000" stroke-width="1.6" fill="none" stroke-linecap="round"/>
<path d="M876.5,873.1L876.5,894.1" stroke="#000" stroke-width="3.1" fill="none" stroke-linecap="round"/>
<path d="M876.5,1247.1L876.5,1268.1" stroke="#000" stroke-width="3.1" fill="none" stroke-linecap="round"/>
<path d="M952.6,883.1L952.6,894.1" stroke="#000" stroke-width="1.6" fill="none" stroke-linecap="round"/>
<path d="M952.6,1247.1L952.6,1258.1" stroke="#000" stroke-width="1.6" fill="none" stroke-linecap="round"/>
<path d="M1028.7,873.1L1028.7,894.1" stroke="#000" stroke-width="3.1" fill="none" stroke-linecap="round"/>
<path d="M1028.7,1247.1L1028.7,1268.1" stroke="#000" stroke-width="3.1" fill="none" stroke-linecap="round"/>
<path d="M1104.8,883.1L1104.8,894.1" stroke="#000" stroke-width="1.6" fill="none" stroke-linecap="round"/>
<path d="M1104.8,1247.1L1104.8,1258.1" stroke="#000" stroke-width="1.6" fill="none" stroke-linecap="round"/>
<path d="M1180.9,873.1L1180.9,894.1" stroke="#000" stroke-width="3.1" fill="none" stroke-linecap="round"/>
<path d="M1180.9,1247.1L1180.9,1268.1" stroke="#000" stroke-width="3.1" fill="none" stroke-linecap="round"/>
<path d="M1257,883.1L1257,894.1" stroke="#000" stroke-width="1.6" fill="none" stroke-linecap="round"/>
<path d="M1257,1247.1L1257,1258.1" stroke="#000" stroke-width="1.6" fill="none" stroke-linecap="round"/>
<path d="M399,894.1L420,894.1" stroke="#000" stroke-width="3.1" fill="none" stroke-linecap="round"/>
<text x="336.6" y="902.9" font-size="25" text-anchor="start" textLength="48.6" lengthAdjust="spacingAndGlyphs" stroke="#fff" stroke-width="0.25">300</text>
<path d="M399,944.5L420,944.5" stroke="#000" stroke-width="3.1" fill="none" stroke-linecap="round"/>
<text x="336.6" y="953.3" font-size="25" text-anchor="start" textLength="48.6" lengthAdjust="spacingAndGlyphs" stroke="#fff" stroke-width="0.25">400</text>
<path d="M399,995L420,995" stroke="#000" stroke-width="3.1" fill="none" stroke-linecap="round"/>
<text x="336.6" y="1003.8" font-size="25" text-anchor="start" textLength="48.6" lengthAdjust="spacingAndGlyphs" stroke="#fff" stroke-width="0.25">500</text>
<path d="M399,1095.8L420,1095.8" stroke="#000" stroke-width="3.1" fill="none" stroke-linecap="round"/>
<text x="336.6" y="1104.6" font-size="25" text-anchor="start" textLength="48.6" lengthAdjust="spacingAndGlyphs" stroke="#fff" stroke-width="0.25">700</text>
<path d="M399,1171.5L420,1171.5" stroke="#000" stroke-width="3.1" fill="none" stroke-linecap="round"/>
<text x="336.6" y="1180.3" font-size="25" text-anchor="start" textLength="48.6" lengthAdjust="spacingAndGlyphs" stroke="#fff" stroke-width="0.25">850</text>
<path d="M399,1247.1L420,1247.1" stroke="#000" stroke-width="3.1" fill="none" stroke-linecap="round"/>
<text x="322.6" y="1255.9" font-size="25" text-anchor="start" textLength="62.6" lengthAdjust="spacingAndGlyphs" stroke="#fff" stroke-width="0.25">1000</text>
<path d="M1326.7,923.3L1347.7,923.3" stroke="#000" stroke-width="3.1" fill="none" stroke-linecap="round"/>
<text x="1361.8" y="932.1" font-size="25" text-anchor="start" textLength="16.5" lengthAdjust="spacingAndGlyphs" stroke="#fff" stroke-width="0.25">8</text>
<path d="M1326.7,1053.3L1347.7,1053.3" stroke="#000" stroke-width="3.1" fill="none" stroke-linecap="round"/>
<text x="1361.8" y="1062.1" font-size="25" text-anchor="start" textLength="16.5" lengthAdjust="spacingAndGlyphs" stroke="#fff" stroke-width="0.25">4</text>
<text x="411.7" y="1302.8" font-size="25.2" text-anchor="start" textLength="16.6" lengthAdjust="spacingAndGlyphs" stroke="#fff" stroke-width="0.25">0</text>
<text x="548.4" y="1302.8" font-size="25.2" text-anchor="start" textLength="47.6" lengthAdjust="spacingAndGlyphs" stroke="#fff" stroke-width="0.25">60E</text>
<text x="692.5" y="1302.8" font-size="25.2" text-anchor="start" textLength="63.6" lengthAdjust="spacingAndGlyphs" stroke="#fff" stroke-width="0.25">120E</text>
<text x="852.5" y="1302.8" font-size="25.2" text-anchor="start" textLength="48.1" lengthAdjust="spacingAndGlyphs" stroke="#fff" stroke-width="0.25">180</text>
<text x="994.1" y="1302.8" font-size="25.2" text-anchor="start" textLength="69.1" lengthAdjust="spacingAndGlyphs" stroke="#fff" stroke-width="0.25">120W</text>
<text x="1155.1" y="1302.8" font-size="25.2" text-anchor="start" textLength="51.6" lengthAdjust="spacingAndGlyphs" stroke="#fff" stroke-width="0.25">60W</text>
<rect x="420.0" y="1542.2" width="906.7" height="353.0" fill="none" stroke="#000" stroke-width="3.1"/>
<path d="M420,1521.2L420,1542.2" stroke="#000" stroke-width="3.1" fill="none" stroke-linecap="round"/>
<path d="M420,1895.2L420,1916.2" stroke="#000" stroke-width="3.1" fill="none" stroke-linecap="round"/>
<path d="M496.1,1531.2L496.1,1542.2" stroke="#000" stroke-width="1.6" fill="none" stroke-linecap="round"/>
<path d="M496.1,1895.2L496.1,1906.2" stroke="#000" stroke-width="1.6" fill="none" stroke-linecap="round"/>
<path d="M572.2,1521.2L572.2,1542.2" stroke="#000" stroke-width="3.1" fill="none" stroke-linecap="round"/>
<path d="M572.2,1895.2L572.2,1916.2" stroke="#000" stroke-width="3.1" fill="none" stroke-linecap="round"/>
<path d="M648.3,1531.2L648.3,1542.2" stroke="#000" stroke-width="1.6" fill="none" stroke-linecap="round"/>
<path d="M648.3,1895.2L648.3,1906.2" stroke="#000" stroke-width="1.6" fill="none" stroke-linecap="round"/>
<path d="M724.3,1521.2L724.3,1542.2" stroke="#000" stroke-width="3.1" fill="none" stroke-linecap="round"/>
<path d="M724.3,1895.2L724.3,1916.2" stroke="#000" stroke-width="3.1" fill="none" stroke-linecap="round"/>
<path d="M800.4,1531.2L800.4,1542.2" stroke="#000" stroke-width="1.6" fill="none" stroke-linecap="round"/>
<path d="M800.4,1895.2L800.4,1906.2" stroke="#000" stroke-width="1.6" fill="none" stroke-linecap="round"/>
<path d="M876.5,1521.2L876.5,1542.2" stroke="#000" stroke-width="3.1" fill="none" stroke-linecap="round"/>
<path d="M876.5,1895.2L876.5,1916.2" stroke="#000" stroke-width="3.1" fill="none" stroke-linecap="round"/>
<path d="M952.6,1531.2L952.6,1542.2" stroke="#000" stroke-width="1.6" fill="none" stroke-linecap="round"/>
<path d="M952.6,1895.2L952.6,1906.2" stroke="#000" stroke-width="1.6" fill="none" stroke-linecap="round"/>
<path d="M1028.7,1521.2L1028.7,1542.2" stroke="#000" stroke-width="3.1" fill="none" stroke-linecap="round"/>
<path d="M1028.7,1895.2L1028.7,1916.2" stroke="#000" stroke-width="3.1" fill="none" stroke-linecap="round"/>
<path d="M1104.8,1531.2L1104.8,1542.2" stroke="#000" stroke-width="1.6" fill="none" stroke-linecap="round"/>
<path d="M1104.8,1895.2L1104.8,1906.2" stroke="#000" stroke-width="1.6" fill="none" stroke-linecap="round"/>
<path d="M1180.9,1521.2L1180.9,1542.2" stroke="#000" stroke-width="3.1" fill="none" stroke-linecap="round"/>
<path d="M1180.9,1895.2L1180.9,1916.2" stroke="#000" stroke-width="3.1" fill="none" stroke-linecap="round"/>
<path d="M1257,1531.2L1257,1542.2" stroke="#000" stroke-width="1.6" fill="none" stroke-linecap="round"/>
<path d="M1257,1895.2L1257,1906.2" stroke="#000" stroke-width="1.6" fill="none" stroke-linecap="round"/>
<path d="M399,1542.2L420,1542.2" stroke="#000" stroke-width="3.1" fill="none" stroke-linecap="round"/>
<text x="336.6" y="1551" font-size="25" text-anchor="start" textLength="48.6" lengthAdjust="spacingAndGlyphs" stroke="#fff" stroke-width="0.25">300</text>
<path d="M399,1592.6L420,1592.6" stroke="#000" stroke-width="3.1" fill="none" stroke-linecap="round"/>
<text x="336.6" y="1601.4" font-size="25" text-anchor="start" textLength="48.6" lengthAdjust="spacingAndGlyphs" stroke="#fff" stroke-width="0.25">400</text>
<path d="M399,1643.1L420,1643.1" stroke="#000" stroke-width="3.1" fill="none" stroke-linecap="round"/>
<text x="336.6" y="1651.9" font-size="25" text-anchor="start" textLength="48.6" lengthAdjust="spacingAndGlyphs" stroke="#fff" stroke-width="0.25">500</text>
<path d="M399,1743.9L420,1743.9" stroke="#000" stroke-width="3.1" fill="none" stroke-linecap="round"/>
<text x="336.6" y="1752.7" font-size="25" text-anchor="start" textLength="48.6" lengthAdjust="spacingAndGlyphs" stroke="#fff" stroke-width="0.25">700</text>
<path d="M399,1819.6L420,1819.6" stroke="#000" stroke-width="3.1" fill="none" stroke-linecap="round"/>
<text x="336.6" y="1828.4" font-size="25" text-anchor="start" textLength="48.6" lengthAdjust="spacingAndGlyphs" stroke="#fff" stroke-width="0.25">850</text>
<path d="M399,1895.2L420,1895.2" stroke="#000" stroke-width="3.1" fill="none" stroke-linecap="round"/>
<text x="322.6" y="1904" font-size="25" text-anchor="start" textLength="62.6" lengthAdjust="spacingAndGlyphs" stroke="#fff" stroke-width="0.25">1000</text>
<path d="M1326.7,1571.4L1347.7,1571.4" stroke="#000" stroke-width="3.1" fill="none" stroke-linecap="round"/>
<text x="1361.8" y="1580.2" font-size="25" text-anchor="start" textLength="16.5" lengthAdjust="spacingAndGlyphs" stroke="#fff" stroke-width="0.25">8</text>
<path d="M1326.7,1701.4L1347.7,1701.4" stroke="#000" stroke-width="3.1" fill="none" stroke-linecap="round"/>
<text x="1361.8" y="1710.2" font-size="25" text-anchor="start" textLength="16.5" lengthAdjust="spacingAndGlyphs" stroke="#fff" stroke-width="0.25">4</text>
<text x="411.7" y="1950.9" font-size="25.2" text-anchor="start" textLength="16.6" lengthAdjust="spacingAndGlyphs" stroke="#fff" stroke-width="0.25">0</text>
<text x="548.4" y="1950.9" font-size="25.2" text-anchor="start" textLength="47.6" lengthAdjust="spacingAndGlyphs" stroke="#fff" stroke-width="0.25">60E</text>
<text x="692.5" y="1950.9" font-size="25.2" text-anchor="start" textLength="63.6" lengthAdjust="spacingAndGlyphs" stroke="#fff" stroke-width="0.25">120E</text>
<text x="852.5" y="1950.9" font-size="25.2" text-anchor="start" textLength="48.1" lengthAdjust="spacingAndGlyphs" stroke="#fff" stroke-width="0.25">180</text>
<text x="994.1" y="1950.9" font-size="25.2" text-anchor="start" textLength="69.1" lengthAdjust="spacingAndGlyphs" stroke="#fff" stroke-width="0.25">120W</text>
<text x="1155.1" y="1950.9" font-size="25.2" text-anchor="start" textLength="51.6" lengthAdjust="spacingAndGlyphs" stroke="#fff" stroke-width="0.25">60W</text>
<rect x="425" y="696.6" width="56" height="14.2" fill="#00008c" stroke="#000" stroke-width="1.5"/>
<rect x="481" y="696.6" width="56" height="14.2" fill="#001cb8" stroke="#000" stroke-width="1.5"/>
<rect x="537.1" y="696.6" width="56" height="14.2" fill="#002ce0" stroke="#000" stroke-width="1.5"/>
<rect x="593.1" y="696.6" width="56" height="14.2" fill="#1c4fff" stroke="#000" stroke-width="1.5"/>
<rect x="649.1" y="696.6" width="56" height="14.2" fill="#4477ff" stroke="#000" stroke-width="1.5"/>
<rect x="705.2" y="696.6" width="56" height="14.2" fill="#84aaff" stroke="#000" stroke-width="1.5"/>
<rect x="761.2" y="696.6" width="56" height="14.2" fill="#b3cdff" stroke="#000" stroke-width="1.5"/>
<rect x="817.2" y="696.6" width="56" height="14.2" fill="#d6ebff" stroke="#000" stroke-width="1.5"/>
<rect x="873.2" y="696.6" width="56" height="14.2" fill="#ffebd6" stroke="#000" stroke-width="1.5"/>
<rect x="929.3" y="696.6" width="56" height="14.2" fill="#ffcdb3" stroke="#000" stroke-width="1.5"/>
<rect x="985.3" y="696.6" width="56" height="14.2" fill="#ffaa84" stroke="#000" stroke-width="1.5"/>
<rect x="1041.3" y="696.6" width="56" height="14.2" fill="#ff7744" stroke="#000" stroke-width="1.5"/>
<rect x="1097.4" y="696.6" width="56" height="14.2" fill="#ff4f1c" stroke="#000" stroke-width="1.5"/>
<rect x="1153.4" y="696.6" width="56" height="14.2" fill="#e03000" stroke="#000" stroke-width="1.5"/>
<rect x="1209.4" y="696.6" width="56" height="14.2" fill="#b82400" stroke="#000" stroke-width="1.5"/>
<rect x="1265.5" y="696.6" width="56" height="14.2" fill="#8c0000" stroke="#000" stroke-width="1.5"/>
<text x="476" y="735.8" font-size="22.8" text-anchor="start" textLength="11.6" lengthAdjust="spacingAndGlyphs" stroke="#fff" stroke-width="0.2">1</text>
<text x="586.1" y="735.8" font-size="22.8" text-anchor="start" textLength="15.6" lengthAdjust="spacingAndGlyphs" stroke="#fff" stroke-width="0.2">3</text>
<text x="698.2" y="735.8" font-size="22.8" text-anchor="start" textLength="15.6" lengthAdjust="spacingAndGlyphs" stroke="#fff" stroke-width="0.2">5</text>
<text x="810.2" y="735.8" font-size="22.8" text-anchor="start" textLength="15.6" lengthAdjust="spacingAndGlyphs" stroke="#fff" stroke-width="0.2">7</text>
<text x="922.3" y="735.8" font-size="22.8" text-anchor="start" textLength="15.6" lengthAdjust="spacingAndGlyphs" stroke="#fff" stroke-width="0.2">9</text>
<text x="1028.8" y="735.8" font-size="22.8" text-anchor="start" textLength="26.6" lengthAdjust="spacingAndGlyphs" stroke="#fff" stroke-width="0.2">11</text>
<text x="1139.4" y="735.8" font-size="22.8" text-anchor="start" textLength="29.6" lengthAdjust="spacingAndGlyphs" stroke="#fff" stroke-width="0.2">13</text>
<text x="1251.5" y="735.8" font-size="22.8" text-anchor="start" textLength="29.6" lengthAdjust="spacingAndGlyphs" stroke="#fff" stroke-width="0.2">15</text>
<rect x="425" y="1344.7" width="56" height="14.2" fill="#00008c" stroke="#000" stroke-width="1.5"/>
<rect x="481" y="1344.7" width="56" height="14.2" fill="#001cb8" stroke="#000" stroke-width="1.5"/>
<rect x="537.1" y="1344.7" width="56" height="14.2" fill="#002ce0" stroke="#000" stroke-width="1.5"/>
<rect x="593.1" y="1344.7" width="56" height="14.2" fill="#1c4fff" stroke="#000" stroke-width="1.5"/>
<rect x="649.1" y="1344.7" width="56" height="14.2" fill="#4477ff" stroke="#000" stroke-width="1.5"/>
<rect x="705.2" y="1344.7" width="56" height="14.2" fill="#84aaff" stroke="#000" stroke-width="1.5"/>
<rect x="761.2" y="1344.7" width="56" height="14.2" fill="#b3cdff" stroke="#000" stroke-width="1.5"/>
<rect x="817.2" y="1344.7" width="56" height="14.2" fill="#d6ebff" stroke="#000" stroke-width="1.5"/>
<rect x="873.2" y="1344.7" width="56" height="14.2" fill="#ffebd6" stroke="#000" stroke-width="1.5"/>
<rect x="929.3" y="1344.7" width="56" height="14.2" fill="#ffcdb3" stroke="#000" stroke-width="1.5"/>
<rect x="985.3" y="1344.7" width="56" height="14.2" fill="#ffaa84" stroke="#000" stroke-width="1.5"/>
<rect x="1041.3" y="1344.7" width="56" height="14.2" fill="#ff7744" stroke="#000" stroke-width="1.5"/>
<rect x="1097.4" y="1344.7" width="56" height="14.2" fill="#ff4f1c" stroke="#000" stroke-width="1.5"/>
<rect x="1153.4" y="1344.7" width="56" height="14.2" fill="#e03000" stroke="#000" stroke-width="1.5"/>
<rect x="1209.4" y="1344.7" width="56" height="14.2" fill="#b82400" stroke="#000" stroke-width="1.5"/>
<rect x="1265.5" y="1344.7" width="56" height="14.2" fill="#8c0000" stroke="#000" stroke-width="1.5"/>
<text x="476" y="1383.9" font-size="22.8" text-anchor="start" textLength="11.6" lengthAdjust="spacingAndGlyphs" stroke="#fff" stroke-width="0.2">1</text>
<text x="586.1" y="1383.9" font-size="22.8" text-anchor="start" textLength="15.6" lengthAdjust="spacingAndGlyphs" stroke="#fff" stroke-width="0.2">3</text>
<text x="698.2" y="1383.9" font-size="22.8" text-anchor="start" textLength="15.6" lengthAdjust="spacingAndGlyphs" stroke="#fff" stroke-width="0.2">5</text>
<text x="810.2" y="1383.9" font-size="22.8" text-anchor="start" textLength="15.6" lengthAdjust="spacingAndGlyphs" stroke="#fff" stroke-width="0.2">7</text>
<text x="922.3" y="1383.9" font-size="22.8" text-anchor="start" textLength="15.6" lengthAdjust="spacingAndGlyphs" stroke="#fff" stroke-width="0.2">9</text>
<text x="1028.8" y="1383.9" font-size="22.8" text-anchor="start" textLength="26.6" lengthAdjust="spacingAndGlyphs" stroke="#fff" stroke-width="0.2">11</text>
<text x="1139.4" y="1383.9" font-size="22.8" text-anchor="start" textLength="29.6" lengthAdjust="spacingAndGlyphs" stroke="#fff" stroke-width="0.2">13</text>
<text x="1251.5" y="1383.9" font-size="22.8" text-anchor="start" textLength="29.6" lengthAdjust="spacingAndGlyphs" stroke="#fff" stroke-width="0.2">15</text>
<rect x="425" y="1992.8" width="56" height="14.2" fill="#00008c" stroke="#000" stroke-width="1.5"/>
<rect x="481" y="1992.8" width="56" height="14.2" fill="#001cb8" stroke="#000" stroke-width="1.5"/>
<rect x="537.1" y="1992.8" width="56" height="14.2" fill="#002ce0" stroke="#000" stroke-width="1.5"/>
<rect x="593.1" y="1992.8" width="56" height="14.2" fill="#1c4fff" stroke="#000" stroke-width="1.5"/>
<rect x="649.1" y="1992.8" width="56" height="14.2" fill="#4477ff" stroke="#000" stroke-width="1.5"/>
<rect x="705.2" y="1992.8" width="56" height="14.2" fill="#84aaff" stroke="#000" stroke-width="1.5"/>
<rect x="761.2" y="1992.8" width="56" height="14.2" fill="#b3cdff" stroke="#000" stroke-width="1.5"/>
<rect x="817.2" y="1992.8" width="56" height="14.2" fill="#d6ebff" stroke="#000" stroke-width="1.5"/>
<rect x="873.2" y="1992.8" width="56" height="14.2" fill="#ffebd6" stroke="#000" stroke-width="1.5"/>
<rect x="929.3" y="1992.8" width="56" height="14.2" fill="#ffcdb3" stroke="#000" stroke-width="1.5"/>
<rect x="985.3" y="1992.8" width="56" height="14.2" fill="#ffaa84" stroke="#000" stroke-width="1.5"/>
<rect x="1041.3" y="1992.8" width="56" height="14.2" fill="#ff7744" stroke="#000" stroke-width="1.5"/>
<rect x="1097.4" y="1992.8" width="56" height="14.2" fill="#ff4f1c" stroke="#000" stroke-width="1.5"/>
<rect x="1153.4" y="1992.8" width="56" height="14.2" fill="#e03000" stroke="#000" stroke-width="1.5"/>
<rect x="1209.4" y="1992.8" width="56" height="14.2" fill="#b82400" stroke="#000" stroke-width="1.5"/>
<rect x="1265.5" y="1992.8" width="56" height="14.2" fill="#8c0000" stroke="#000" stroke-width="1.5"/>
<text x="510.6" y="2032" font-size="22.8" text-anchor="start" textLength="54.6" lengthAdjust="spacingAndGlyphs" stroke="#fff" stroke-width="0.2">−1.5</text>
<text x="622.6" y="2032" font-size="22.8" text-anchor="start" textLength="54.6" lengthAdjust="spacingAndGlyphs" stroke="#fff" stroke-width="0.2">−0.9</text>
<text x="734.7" y="2032" font-size="22.8" text-anchor="start" textLength="54.6" lengthAdjust="spacingAndGlyphs" stroke="#fff" stroke-width="0.2">−0.3</text>
<text x="866.2" y="2032" font-size="22.8" text-anchor="start" textLength="15.6" lengthAdjust="spacingAndGlyphs" stroke="#fff" stroke-width="0.2">0</text>
<text x="968.3" y="2032" font-size="22.8" text-anchor="start" textLength="35.6" lengthAdjust="spacingAndGlyphs" stroke="#fff" stroke-width="0.2">0.3</text>
<text x="1080.4" y="2032" font-size="22.8" text-anchor="start" textLength="35.6" lengthAdjust="spacingAndGlyphs" stroke="#fff" stroke-width="0.2">0.9</text>
<text x="1192.4" y="2032" font-size="22.8" text-anchor="start" textLength="35.6" lengthAdjust="spacingAndGlyphs" stroke="#fff" stroke-width="0.2">1.5</text>
<text x="703.3" y="674.8" font-size="23.2" text-anchor="start" textLength="38.5" lengthAdjust="spacingAndGlyphs" stroke="#fff" stroke-width="0.2">MIN</text>
<text x="754.5" y="674.8" font-size="23.2" text-anchor="start" textLength="17.5" lengthAdjust="spacingAndGlyphs" stroke="#fff" stroke-width="0.2">=</text>
<text x="806.5" y="674.8" font-size="23.2" text-anchor="start" textLength="49" lengthAdjust="spacingAndGlyphs" stroke="#fff" stroke-width="0.2">0.21</text>
<text x="880.5" y="674.8" font-size="23.2" text-anchor="start" textLength="45" lengthAdjust="spacingAndGlyphs" stroke="#fff" stroke-width="0.2">MAX</text>
<text x="937.5" y="674.8" font-size="23.2" text-anchor="start" textLength="17.5" lengthAdjust="spacingAndGlyphs" stroke="#fff" stroke-width="0.2">=</text>
<text x="979.5" y="674.8" font-size="23.2" text-anchor="start" textLength="64" lengthAdjust="spacingAndGlyphs" stroke="#fff" stroke-width="0.2">17.76</text>
<text x="703.3" y="1322.9" font-size="23.2" text-anchor="start" textLength="38.5" lengthAdjust="spacingAndGlyphs" stroke="#fff" stroke-width="0.2">MIN</text>
<text x="754.5" y="1322.9" font-size="23.2" text-anchor="start" textLength="17.5" lengthAdjust="spacingAndGlyphs" stroke="#fff" stroke-width="0.2">=</text>
<text x="806.5" y="1322.9" font-size="23.2" text-anchor="start" textLength="49" lengthAdjust="spacingAndGlyphs" stroke="#fff" stroke-width="0.2">0.17</text>
<text x="880.5" y="1322.9" font-size="23.2" text-anchor="start" textLength="45" lengthAdjust="spacingAndGlyphs" stroke="#fff" stroke-width="0.2">MAX</text>
<text x="937.5" y="1322.9" font-size="23.2" text-anchor="start" textLength="17.5" lengthAdjust="spacingAndGlyphs" stroke="#fff" stroke-width="0.2">=</text>
<text x="979.5" y="1322.9" font-size="23.2" text-anchor="start" textLength="64" lengthAdjust="spacingAndGlyphs" stroke="#fff" stroke-width="0.2">17.94</text>
<text x="701.3" y="1971" font-size="23.2" text-anchor="start" textLength="38.5" lengthAdjust="spacingAndGlyphs" stroke="#fff" stroke-width="0.2">MIN</text>
<text x="752.5" y="1971" font-size="23.2" text-anchor="start" textLength="17.5" lengthAdjust="spacingAndGlyphs" stroke="#fff" stroke-width="0.2">=</text>
<text x="793.5" y="1971" font-size="23.2" text-anchor="start" textLength="69" lengthAdjust="spacingAndGlyphs" stroke="#fff" stroke-width="0.2">−1.48</text>
<text x="886.5" y="1971" font-size="23.2" text-anchor="start" textLength="45" lengthAdjust="spacingAndGlyphs" stroke="#fff" stroke-width="0.2">MAX</text>
<text x="943.5" y="1971" font-size="23.2" text-anchor="start" textLength="17.5" lengthAdjust="spacingAndGlyphs" stroke="#fff" stroke-width="0.2">=</text>
<text x="995.5" y="1971" font-size="23.2" text-anchor="start" textLength="49" lengthAdjust="spacingAndGlyphs" stroke="#fff" stroke-width="0.2">3.22</text>
</svg></body></html>
